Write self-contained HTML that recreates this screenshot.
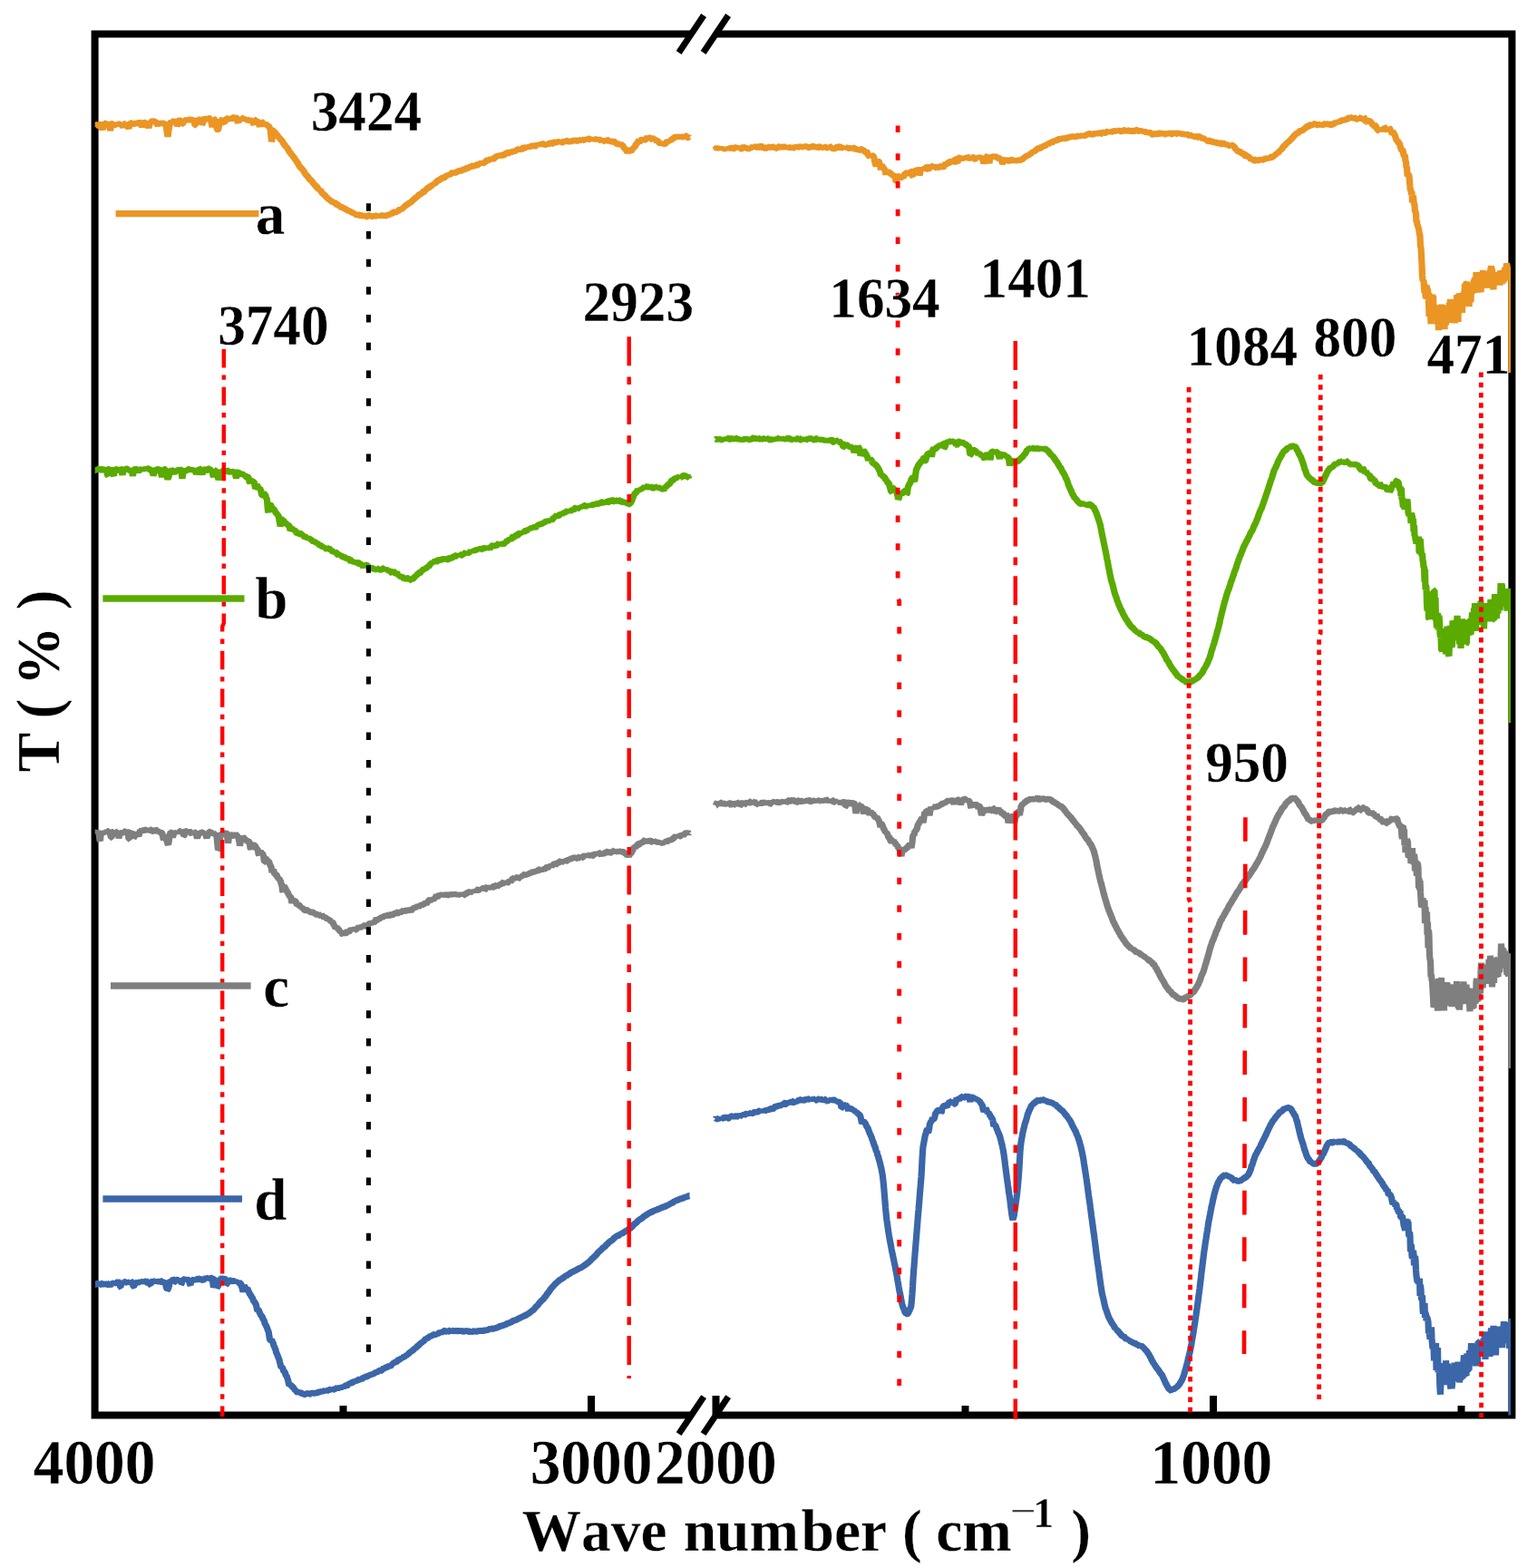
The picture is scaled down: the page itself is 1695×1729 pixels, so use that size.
<!DOCTYPE html>
<html lang="en"><head><meta charset="utf-8"><title>FTIR spectra</title>
<style>
html,body{margin:0;padding:0;background:#fff;}
body{width:1695px;height:1729px;overflow:hidden;}
svg{display:block;}
text{font-family:"Liberation Serif","Times New Roman",serif;font-weight:bold;fill:#000;font-kerning:none;stroke:#fff;stroke-width:0.3px;}
</style></head>
<body>
<svg xmlns="http://www.w3.org/2000/svg" width="1695" height="1729" viewBox="0 0 1695 1729">
<rect x="0" y="0" width="1695" height="1729" fill="#fff"/>
<g fill="none" stroke="#000" stroke-width="8" stroke-linejoin="miter" stroke-linecap="butt">
<path d="M761.5 37.5 H104.6 V1560.6 H761.5"/>
<path d="M789.5 37.5 H1667.4 V1560.6 H789.5"/>
<path d="M652 1560.6 V1539"/>
<path d="M789.5 1560.6 V1539"/>
<path d="M1338 1560.6 V1539"/>
<path d="M378.5 1560.6 V1550"/>
<path d="M1064.5 1560.6 V1550"/>
<path d="M1611.5 1560.6 V1550"/>
</g>
<g fill="none" stroke="#000" stroke-width="7" stroke-linecap="butt">
<path d="M748.6 58 L776.1 17"/>
<path d="M775.6 58 L803.1 17"/>
<path d="M748.6 1581.1 L776.1 1540.1"/>
<path d="M775.6 1581.1 L803.1 1540.1"/>
</g>
<clipPath id="plot"><rect x="104.6" y="37.5" width="1561.4" height="1523.1"/></clipPath>
<g fill="none" stroke="#EA9524" stroke-width="7.2" stroke-linejoin="bevel" stroke-linecap="butt" clip-path="url(#plot)">
<path d="M105 138.8L105.5 138.5L106 137.5L106.5 137.5L107 138.5L107.5 137L108 138.5L108.5 138.5L109 138L109.5 137.5L110 137.4L110.5 137.3L111 137.6L111.5 137.9L112 139.3L112.5 141.6L113 142.8L113.5 141L114 140L114.5 136.9L115 136.4L115.5 137.2L116 136.1L116.5 136L117 136.8L117.5 136.8L118 137.7L118.5 137.2L119 137L119.5 136.9L120 136.5L120.5 136.9L121 140.1L121.5 144.1L122 141.7L122.5 139.2L123 136.6L123.5 137.8L124 136.3L124.5 136.1L125 137.3L125.5 137L126 137.9L126.5 137.7L127 138L127.5 136.6L128 137.4L128.5 137.4L129 138L129.5 137L130 137.2L130.5 136.1L131 136.6L131.5 136.5L132 136.3L132.5 137.6L133 136.9L133.5 138L134 137.3L134.5 138L135 139.1L135.5 140.1L136 138.5L136.5 137.8L137 136.2L137.5 136.4L138 135.9L138.5 137.5L139 136.3L139.5 137.1L140 136.7L140.5 139L141 139.9L141.5 140.2L142 141L142.5 139.8L143 138.3L143.5 136.4L144 135.5L144.5 135.6L145 136.9L145.5 136.4L146 135.8L146.5 137.2L147 136.9L147.5 136.8L148 136.4L148.5 136.5L149 136L149.5 135.3L150 136.5L150.5 135.8L151 135.9L151.5 135.6L152 136.3L152.5 134.9L153 135.4L153.5 134.9L154 135.2L154.5 136.8L155 136.3L155.5 136.7L156 138.1L156.5 140.2L157 137.9L157.5 136.7L158 135.6L158.5 134.9L159 135.1L159.5 135.5L160 135.7L160.5 134.3L161 135.7L161.5 133.9L162 135.1L162.5 136.3L163 136.8L163.5 139.3L164 141.1L164.5 138L165 137.4L165.5 135.9L166 135L166.5 135.3L167 134.1L167.5 133.8L168 133.8L168.5 133.5L169 133.7L169.5 134.8L170 134L170.5 133.5L171 133.3L171.5 134.6L172 133.9L172.5 135.8L173 136.1L173.5 137.3L174 138.1L174.5 137.1L175 136L175.5 134.7L176 135.4L176.5 134.6L177 135.5L177.5 134.2L178 135.1L178.5 135.6L179 136.4L179.5 135.1L180 136.2L180.5 136.3L181 136.8L181.5 136.6L182 137.1L182.5 136.5L183 138.1L183.5 140.9L184 144.5L184.5 148L185 150.5L185.5 148.2L186 143.6L186.5 140.9L187 138.1L187.5 136L188 135L188.5 134L189 134.9L189.5 134.1L190 134.4L190.5 134.6L191 133.8L191.5 133.4L192 133.8L192.5 134.4L193 134.5L193.5 134.2L194 133L194.5 134.7L195 136.5L195.5 138.9L196 137.6L196.5 136.4L197 133.2L197.5 132.9L198 132.6L198.5 133L199 133L199.5 133L200 133.7L200.5 132.9L201 135.4L201.5 136.5L202 136.5L202.5 132.8L203 132.2L203.5 133.3L204 132.4L204.5 132.8L205 132.4L205.5 132.1L206 131.3L206.5 131.8L207 130.8L207.5 132.2L208 132.5L208.5 132.3L209 130.9L209.5 131.5L210 131.5L210.5 130.9L211 131.7L211.5 132L212 131.3L212.5 132.5L213 132.5L213.5 131.1L214 133.6L214.5 136.3L215 137.8L215.5 137.8L216 135.4L216.5 132.5L217 130.5L217.5 131.6L218 131.7L218.5 132.1L219 132.2L219.5 131.2L220 131.7L220.5 131.8L221 131.8L221.5 130.4L222 132.2L222.5 135.5L223 136.8L223.5 136.2L224 134.7L224.5 131.4L225 130.3L225.5 130.7L226 131.2L226.5 130.4L227 131.1L227.5 130.5L228 131.4L228.5 131.6L229 130.7L229.5 130.8L230 131.2L230.5 130.6L231 130.7L231.5 130.9L232 131.3L232.5 130.8L233 134.8L233.5 137.6L234 140.1L234.5 136.9L235 135L235.5 131.2L236 131.5L236.5 131.8L237 132.1L237.5 134.3L238 135L238.5 137.5L239 140.9L239.5 142.7L240 143L240.5 142.7L241 141.6L241.5 138L242 135.9L242.5 132.7L243 132.9L243.5 132.8L244 132.7L244.5 132.3L245 131.7L245.5 131.2L246 133.6L246.5 135.5L247 135.9L247.5 134.5L248 133.3L248.5 132.1L249 132L249.5 130.6L250 130.7L250.5 131.8L251 131.6L251.5 131.5L252 131.8L252.5 131.3L253 130.8L253.5 130.6L254 130L254.5 130.5L255 129.8L255.5 130.7L256 130.6L256.5 130.4L257 129.8L257.5 129.6L258 129.6L258.5 128.9L259 130.3L259.5 129.9L260 129.6L260.5 130L261 130.4L261.5 130.8L262 134L262.5 135.5L263 132.4L263.5 130.1L264 131.3L264.5 131.8L265 130.3L265.5 131.2L266 131.4L266.5 131.5L267 130.1L267.5 130.2L268 132.1L268.5 130.7L269 131.1L269.5 131.7L270 131.3L270.5 131.9L271 130.9L271.5 132.4L272 131L272.5 132.7L273 132.4L273.5 134.5L274 133.8L274.5 133.4L275 132.4L275.5 132.3L276 131.9L276.5 131.3L277 133.2L277.5 133.1L278 133.3L278.5 133.1L279 135.1L279.5 136.2L280 137L280.5 135L281 134.4L281.5 132.4L282 132.4L282.5 133.8L283 133.3L283.5 133L284 134.1L284.5 133.5L285 134.8L285.5 136.1L286 138.2L286.5 139.1L287 137.3L287.5 135.7L288 135.4L288.5 135.8L289 134.9L289.5 135L290 135.1L290.5 136.9L291 137.1L291.5 135.9L292 137.4L292.5 136.2L293 136.9L293.5 137.4L294 138.6L294.5 137.5L295 138.4L295.5 139.2L296 138.7L296.5 139.5L297 140.4L297.5 141.4L298 141.5L298.5 146.2L299 151.3L299.5 156.2L300 153.7L300.5 149.3L301 145.3L301.5 144.1L302 144.1L302.5 145.5L303 144.7L303.5 146.9L304 147.1L304.5 147.5L305 149.1L305.5 148.3L306 149.4L306.5 149.3L307 151.4L307.5 151.3L308 152.3L308.5 152L309 153.4L309.5 153.8L310 154.2L310.5 155.2L311 155.1L311.5 155.9L312 157.1L312.5 158.1L313 158.3L313.5 159.4L314 159.5L314.5 160.6L315 161.6L315.5 161.3L316 162.6L316.5 162.2L317 163.9L317.5 164.3L318 165.2L318.5 166.4L319 167L319.5 167.8L320 167.8L320.5 169.1L321 169.8L321.5 170.8L322 170.3L322.5 171.3L323 172.1L323.5 172.8L324 173L324.5 174.5L325 174.9L325.5 175.6L326 177L326.5 176.8L327 177.7L327.5 178.8L328 179.4L328.5 180L329 181.2L329.5 181.7L330 182.8L330.5 183.7L331 184.1L331.5 184.6L332 185L332.5 185.8L333 186.2L333.5 187.2L334 187.3L334.5 188L335 189L335.5 189.6L336 190.3L336.5 191.6L337 191.9L337.5 193L338 193.4L338.5 193.5L339 194.2L339.5 194.2L340 195.5L340.5 196.8L341 197.1L341.5 197.5L342 198L342.5 198.6L343 198.9L343.5 199.5L344 199.8L344.5 200.6L345 201.3L345.5 202L346 203.3L346.5 203.1L347 203.8L347.5 204.1L348 204.8L348.5 205.7L349 206.1L349.5 206.1L350 206.6L350.5 208L351 208.2L351.5 208.9L352 208.6L352.5 210L353 209.8L353.5 210.4L354 210.5L354.5 211.3L355 212.4L355.5 213.1L356 213.2L356.5 214.1L357 214.3L357.5 214.7L358 215.4L358.5 215.4L359 216.1L359.5 217L360 217.5L360.5 217L361 218.2L361.5 218.9L362 219.1L362.5 219.2L363 220.6L363.5 220.3L364 221L364.5 221L365 221.6L365.5 221.5L366 222.2L366.5 222.6L367 223L367.5 222.8L368 223.9L368.5 223.3L369 223.6L369.5 223.8L370 223.9L370.5 224.7L371 225.4L371.5 225.7L372 225.4L372.5 225.7L373 226.3L373.5 227L374 226.9L374.5 227.7L375 227.6L375.5 227.9L376 228.4L376.5 228.7L377 228.5L377.5 228.5L378 228.9L378.5 229.3L379 229.1L379.5 229.9L380 230.4L380.5 230.1L381 230.5L381.5 230.9L382 231.4L382.5 232.6L383 231.8L383.5 232.2L384 232.3L384.5 232.8L385 232.4L385.5 233.2L386 233.1L386.5 233.4L387 234.2L387.5 233.7L388 234.5L388.5 234.5L389 234.7L389.5 235.3L390 234.6L390.5 235.6L391 235.6L391.5 235.7L392 235.3L392.5 236.5L393 236.8L393.5 237.1L394 236.6L394.5 237.7L395 237.5L395.5 236.5L396 236.6L396.5 236.2L397 237.1L397.5 237.3L398 237.6L398.5 237.4L399 237.7L399.5 237.9L400 237.9L400.5 238.5L401 238.2L401.5 237.9L402 238.2L402.5 237.6L403 238.4L403.5 238.4L404 238.2L404.5 238.8L405 238.8L405.5 238.1L406 237.7L406.5 237.6L407 237.6L407.5 237.9L408 238.2L408.5 238.9L409 238.2L409.5 239.1L410 238.8L410.5 239L411 238.5L411.5 238L412 238.9L412.5 238.3L413 238.1L413.5 238.6L414 238.3L414.5 237.8L415 237.8L415.5 238.7L416 237.9L416.5 238.5L417 237.8L417.5 238.6L418 237.6L418.5 238L419 237.5L419.5 238.2L420 238.7L420.5 237.6L421 237.6L421.5 238L422 237.8L422.5 237.5L423 237.9L423.5 237.7L424 238.2L424.5 237.6L425 238.1L425.5 237.8L426 237.8L426.5 237.2L427 237.4L427.5 237.1L428 236.7L428.5 236.1L429 237.2L429.5 236.8L430 236L430.5 236.6L431 235.9L431.5 235.8L432 235.9L432.5 235.1L433 234.5L433.5 234.4L434 234.1L434.5 234.2L435 234.1L435.5 233.9L436 233.6L436.5 234L437 233.3L437.5 233.6L438 233.6L438.5 232.6L439 232.8L439.5 232.4L440 231.5L440.5 231.1L441 231.6L441.5 230.8L442 230.9L442.5 229.7L443 230.1L443.5 230.2L444 230L444.5 228.7L445 229L445.5 228.3L446 228.3L446.5 227L447 226.8L447.5 227.1L448 226.4L448.5 226L449 226.4L449.5 225.3L450 224.6L450.5 224.7L451 224L451.5 223.6L452 223.8L452.5 223.9L453 223.1L453.5 222.7L454 221.8L454.5 221.6L455 221.2L455.5 220.5L456 220.3L456.5 219.7L457 219.1L457.5 219L458 218.5L458.5 217.6L459 217.7L459.5 217.5L460 216.2L460.5 216.3L461 216.1L461.5 215.3L462 214.8L462.5 214.5L463 214.4L463.5 214.1L464 213.6L464.5 212.7L465 213.2L465.5 213L466 211.6L466.5 211.5L467 211.1L467.5 211.7L468 211.4L468.5 210L469 210L469.5 209.4L470 209.2L470.5 209.2L471 207.6L471.5 207.4L472 207.4L472.5 207L473 207.1L473.5 206.5L474 205.9L474.5 205.7L475 206L475.5 205.2L476 204L476.5 204.4L477 203.4L477.5 203.7L478 202.5L478.5 203.3L479 202.1L479.5 202.1L480 202L480.5 201.5L481 200.8L481.5 200.4L482 200.1L482.5 199.3L483 199L483.5 198.7L484 199L484.5 198.7L485 198.7L485.5 197.8L486 197.1L486.5 197L487 197L487.5 196.2L488 196.1L488.5 196.3L489 195.7L489.5 196.1L490 195.9L490.5 195L491 195.4L491.5 194.5L492 194.1L492.5 194.1L493 194L493.5 194.2L494 192.9L494.5 193.4L495 192.8L495.5 192.1L496 192.9L496.5 192.3L497 191.5L497.5 192.1L498 190.9L498.5 190.6L499 190.6L499.5 191.3L500 190.2L500.5 191.3L501 190.9L501.5 190.1L502 190.4L502.5 190.1L503 190L503.5 189.9L504 189.6L504.5 189.6L505 188.2L505.5 188.7L506 188.1L506.5 188.3L507 188.3L507.5 188.3L508 187.4L508.5 187.6L509 188.1L509.5 188L510 187.2L510.5 187.7L511 186.8L511.5 186.4L512 187L512.5 186.7L513 186.7L513.5 186.3L514 186L514.5 185.4L515 185L515.5 185.6L516 185.1L516.5 185.1L517 185.1L517.5 184.3L518 184.1L518.5 184L519 183.8L519.5 184.2L520 183.6L520.5 183.4L521 183.4L521.5 182.6L522 182.3L522.5 183L523 183.1L523.5 182.5L524 182.8L524.5 181.9L525 182.3L525.5 182.2L526 181.6L526.5 181.5L527 181.6L527.5 181.4L528 180.7L528.5 181.2L529 180.2L529.5 181L530 179.8L530.5 179.6L531 179.2L531.5 180.1L532 179.2L532.5 179.5L533 179.8L533.5 179.6L534 178.3L534.5 178.6L535 178.5L535.5 178.4L536 177.7L536.5 177.4L537 176.8L537.5 176.7L538 177.2L538.5 176.5L539 176.5L539.5 176.5L540 176L540.5 175.7L541 176.5L541.5 175.7L542 175.1L542.5 175.4L543 174.3L543.5 174.5L544 175.2L544.5 175.1L545 174.6L545.5 173.7L546 173.6L546.5 173L547 172.9L547.5 172.5L548 172.5L548.5 173L549 172.3L549.5 172L550 172.7L550.5 171.7L551 171.4L551.5 171L552 171.8L552.5 171.5L553 171.3L553.5 171.3L554 170.6L554.5 170.7L555 171L555.5 171.1L556 170.7L556.5 170.2L557 169.8L557.5 169L558 169.9L558.5 168.7L559 168.5L559.5 169L560 169L560.5 168.8L561 168.3L561.5 167.8L562 167.4L562.5 168.2L563 168.2L563.5 167.3L564 168L564.5 167.5L565 167.4L565.5 167.3L566 166.5L566.5 166.7L567 166.1L567.5 166.6L568 166.2L568.5 166.5L569 166.5L569.5 165.6L570 165.4L570.5 166L571 165.2L571.5 164.5L572 164.4L572.5 165.5L573 164.9L573.5 164.2L574 164.7L574.5 164.6L575 164.5L575.5 164.8L576 164.4L576.5 163.1L577 162.7L577.5 162.9L578 163.3L578.5 163L579 163.1L579.5 162.7L580 162.1L580.5 162.7L581 161.8L581.5 162.6L582 162.1L582.5 162.3L583 162.9L583.5 162.2L584 161.6L584.5 161.9L585 162.1L585.5 161.1L586 161.1L586.5 160.6L587 161.1L587.5 160.8L588 160.9L588.5 160.6L589 160.9L589.5 160.4L590 161.2L590.5 161.1L591 160.5L591.5 160.3L592 160.6L592.5 159.7L593 160.1L593.5 159.4L594 159.8L594.5 159.3L595 159.5L595.5 159.9L596 158.8L596.5 159.6L597 159.2L597.5 159L598 158.9L598.5 158.6L599 158.7L599.5 159.1L600 158.5L600.5 159.2L601 159.5L601.5 159.4L602 159.2L602.5 158.9L603 158L603.5 158.9L604 157.9L604.5 158.7L605 158.6L605.5 158.2L606 158L606.5 157.6L607 158L607.5 157.8L608 157.6L608.5 157.7L609 158.5L609.5 158.5L610 157.5L610.5 157.2L611 157.3L611.5 156.9L612 156.8L612.5 157.2L613 157L613.5 157.1L614 156.6L614.5 156.9L615 156.3L615.5 156.4L616 156.4L616.5 156.9L617 156.1L617.5 156.8L618 156.5L618.5 157.3L619 156.8L619.5 156.9L620 157.2L620.5 157L621 156.2L621.5 156.2L622 157.2L622.5 156L623 156.3L623.5 156.9L624 155.5L624.5 155.5L625 155.3L625.5 155.3L626 155.9L626.5 156.2L627 156L627.5 155.6L628 156.2L628.5 156L629 155.5L629.5 154.9L630 155.4L630.5 155.6L631 155.5L631.5 155.9L632 155.2L632.5 155.2L633 154.6L633.5 154.9L634 155L634.5 154.8L635 154.4L635.5 155.5L636 155.4L636.5 155L637 154.8L637.5 155L638 154.2L638.5 154.7L639 154.8L639.5 154.5L640 154.8L640.5 154.3L641 154.2L641.5 153.7L642 154.3L642.5 153.5L643 154L643.5 153.8L644 154.5L644.5 154.6L645 153.6L645.5 154.6L646 153.9L646.5 153.1L647 153.6L647.5 153L648 153.5L648.5 152.9L649 153.1L649.5 152.9L650 153.3L650.5 153.7L651 153.8L651.5 152.9L652 153.6L652.5 152.7L653 153.6L653.5 154.8L654 153.1L654.5 154.6L655 154.1L655.5 153.6L656 154.7L656.5 153.9L657 155.3L657.5 153.3L658 153L658.5 153.8L659 153.2L659.5 152.7L660 153.6L660.5 153.2L661 153.7L661.5 154.4L662 155L662.5 153.8L663 155.2L663.5 155.8L664 154.6L664.5 155L665 153.5L665.5 155.2L666 154.8L666.5 155.6L667 155.7L667.5 155.9L668 154L668.5 155.1L669 153.9L669.5 154.2L670 154.5L670.5 155.3L671 155.4L671.5 156.1L672 154.4L672.5 155.2L673 155.9L673.5 157.3L674 156.6L674.5 156.4L675 156.8L675.5 156.4L676 155.5L676.5 155L677 155.8L677.5 157.2L678 157.2L678.5 156.5L679 157.8L679.5 157.9L680 158.5L680.5 158.7L681 159.5L681.5 158.5L682 158.7L682.5 159.3L683 159.7L683.5 159.3L684 158.8L684.5 159.8L685 159.4L685.5 160.8L686 159.7L686.5 159.7L687 161.5L687.5 161.2L688 163L688.5 163.3L689 163.6L689.5 163.2L690 165.1L690.5 164.3L691 166.7L691.5 167.1L692 166.5L692.5 166.5L693 168.3L693.5 167.1L694 165.9L694.5 166.1L695 165L695.5 165.1L696 165.4L696.5 165.9L697 165.6L697.5 163.9L698 164L698.5 163.6L699 164.1L699.5 161.6L700 161.7L700.5 161.6L701 159.8L701.5 158.9L702 158.9L702.5 157.6L703 158.1L703.5 155.9L704 155.7L704.5 155.1L705 156L705.5 154.9L706 155.8L706.5 155.6L707 155.5L707.5 153.8L708 153.1L708.5 153.6L709 154.4L709.5 154.1L710 152.6L710.5 153.9L711 154.3L711.5 154.1L712 153.3L712.5 153.3L713 152.9L713.5 151.9L714 151.3L714.5 152.5L715 151.4L715.5 151.7L716 152.9L716.5 152L717 152L717.5 153L718 151.8L718.5 153.4L719 153.6L719.5 152.6L720 152.6L720.5 152.3L721 154L721.5 152.9L722 152.8L722.5 154.8L723 154.5L723.5 155L724 155.5L724.5 154.6L725 155.2L725.5 156.2L726 155.6L726.5 156.8L727 157.5L727.5 157.8L728 158.1L728.5 157.3L729 158.1L729.5 159.7L730 158.5L730.5 159.6L731 158.5L731.5 160.1L732 158.3L732.5 158.6L733 158.5L733.5 158.5L734 158.5L734.5 157.7L735 156.5L735.5 155.9L736 157L736.5 157.4L737 155.3L737.5 156.3L738 154.6L738.5 154.9L739 154.8L739.5 155L740 155.3L740.5 154.2L741 153.1L741.5 153.6L742 152.9L742.5 152.6L743 152.3L743.5 152.2L744 151.5L744.5 151L745 150.5L745.5 150.8L746 150.2L746.5 151L747 150.8L747.5 150L748 150.8L748.5 151.7L749 150.7L749.5 151L750 150.7L750.5 151.2L751 151.9L751.5 150.2L752 151.7L752.5 150.9L753 151L753.5 150.9L754 151.5L754.5 150.7L755 151.2L755.5 150.1L756 150.4L756.5 150.8L757 149.8L757.5 149.7L758 151.4L758.5 151.6L759 151.5L759.5 150.8L760 151.5"/>
<path d="M789 165L789.5 163.6L790 163.3L790.5 164.3L791 163.8L791.5 163.3L792 163L792.5 163.9L793 163.1L793.5 164.2L794 163.3L794.5 164L795 162.5L795.5 163.6L796 163.2L796.5 164.8L797 164.4L797.5 163.7L798 164.9L798.5 164.3L799 163.5L799.5 164.6L800 163.7L800.5 164.8L801 163.7L801.5 164.9L802 163.2L802.5 164.3L803 163.5L803.5 163.8L804 164.3L804.5 163.1L805 163.3L805.5 163L806 164L806.5 163L807 163.4L807.5 163.2L808 163.1L808.5 164.4L809 163.6L809.5 163.8L810 163.7L810.5 163.8L811 162.7L811.5 162.4L812 163.1L812.5 162.5L813 162.2L813.5 163.9L814 163.3L814.5 163L815 162.4L815.5 163.3L816 162.7L816.5 162.2L817 163.9L817.5 164.1L818 163.8L818.5 163.3L819 162.5L819.5 162.3L820 163.2L820.5 162.5L821 163.4L821.5 162.4L822 162.2L822.5 163.4L823 162.6L823.5 163.3L824 163.5L824.5 163.6L825 163.3L825.5 163.7L826 163.4L826.5 163.9L827 163.9L827.5 162.3L828 162.6L828.5 162.8L829 162.5L829.5 162.3L830 163.5L830.5 161.9L831 162.1L831.5 163L832 161.9L832.5 161.9L833 163.1L833.5 162.7L834 162.1L834.5 161.5L835 161.7L835.5 163L836 162.7L836.5 161.3L837 162.4L837.5 161.9L838 162.6L838.5 162L839 161.5L839.5 161.2L840 161.5L840.5 162.7L841 163L841.5 162.8L842 163L842.5 162L843 162.4L843.5 163.4L844 163.6L844.5 162.6L845 163.1L845.5 163.3L846 163.4L846.5 162.3L847 163.1L847.5 162.7L848 162.5L848.5 162.2L849 161.6L849.5 161.1L850 162.5L850.5 162.4L851 162.7L851.5 161.6L852 161.8L852.5 162.5L853 163.1L853.5 162.4L854 162.1L854.5 162.9L855 163.7L855.5 163.5L856 163.4L856.5 162.5L857 162.1L857.5 162.9L858 162.5L858.5 162.6L859 161.8L859.5 161.6L860 161.4L860.5 162.3L861 162.2L861.5 161.4L862 162.6L862.5 161.9L863 162L863.5 162.2L864 161.6L864.5 161.9L865 162L865.5 162L866 162.4L866.5 161.6L867 162.8L867.5 161.7L868 162.3L868.5 162.7L869 161.8L869.5 162.3L870 162.7L870.5 162.6L871 163.2L871.5 162.9L872 161.6L872.5 162.7L873 162.1L873.5 162.5L874 161.8L874.5 162.5L875 163L875.5 163L876 162.9L876.5 161.6L877 162.4L877.5 161.9L878 162.2L878.5 162.7L879 162L879.5 162.7L880 162.4L880.5 162.1L881 161.1L881.5 161.4L882 160.7L882.5 162L883 162.5L883.5 161.3L884 162.3L884.5 162.1L885 160.9L885.5 162.5L886 161.8L886.5 161.5L887 160.7L887.5 161.8L888 160.7L888.5 161.2L889 160.9L889.5 161.9L890 161.7L890.5 162.6L891 162.5L891.5 162.5L892 161.5L892.5 161L893 162.4L893.5 162.5L894 162L894.5 162.4L895 162L895.5 161.8L896 161.5L896.5 161.4L897 161.7L897.5 161.2L898 161.7L898.5 161.9L899 161.4L899.5 162.1L900 162L900.5 162.3L901 162.2L901.5 161.7L902 162L902.5 162.1L903 161.6L903.5 161.9L904 162.7L904.5 162.9L905 161.5L905.5 161.1L906 162.8L906.5 162.7L907 162.3L907.5 162.6L908 162.1L908.5 162.6L909 161.3L909.5 161.7L910 162.1L910.5 161.3L911 162.3L911.5 161.8L912 162.9L912.5 163.1L913 162.5L913.5 163.3L914 162.6L914.5 162.8L915 161.5L915.5 161.7L916 162.8L916.5 163.3L917 162.7L917.5 163.3L918 161.9L918.5 163.8L919 164.1L919.5 163.8L920 163.2L920.5 163.5L921 162.5L921.5 163.2L922 163.1L922.5 162.7L923 162L923.5 161.5L924 161.9L924.5 163L925 161.9L925.5 161.7L926 162L926.5 162.6L927 162.7L927.5 163.1L928 162.8L928.5 162.8L929 162.8L929.5 162.3L930 162L930.5 163.6L931 162.5L931.5 163.3L932 162.5L932.5 163.4L933 162.2L933.5 162.8L934 162.7L934.5 164.1L935 163.8L935.5 163.6L936 162.8L936.5 162.4L937 163.4L937.5 163.5L938 163.7L938.5 164.4L939 163.8L939.5 163L940 163.7L940.5 163L941 163.2L941.5 163.2L942 163.5L942.5 164.3L943 164.2L943.5 164.5L944 166.3L944.5 165.7L945 164.4L945.5 164.2L946 165.4L946.5 165.2L947 164.6L947.5 164.9L948 165.5L948.5 165.1L949 165.2L949.5 165.1L950 164.7L950.5 164.5L951 164.4L951.5 165.8L952 165.4L952.5 165.9L953 167.2L953.5 166.8L954 167.4L954.5 167.5L955 167.9L955.5 166.6L956 167.5L956.5 168.9L957 169.4L957.5 171.7L958 171.7L958.5 172.3L959 172.9L959.5 171.4L960 170.9L960.5 171.8L961 171L961.5 172.7L962 171.8L962.5 171.8L963 172L963.5 173.2L964 173.9L964.5 177.6L965 178.9L965.5 181.5L966 182L966.5 180.8L967 178.9L967.5 176.4L968 177.3L968.5 178.2L969 177.8L969.5 178.7L970 180.8L970.5 181.5L971 185.4L971.5 186.5L972 184.4L972.5 182.6L973 183.2L973.5 184.1L974 184.9L974.5 185.5L975 186.2L975.5 186.9L976 187.7L976.5 189.8L977 192.7L977.5 189.9L978 190.3L978.5 189L979 189.5L979.5 189.2L980 189.7L980.5 190.4L981 191.5L981.5 190.9L982 191L982.5 191.4L983 193.6L983.5 192.4L984 192L984.5 193.1L985 193.8L985.5 193.7L986 193L986.5 193.7L987 194.3L987.5 196.2L988 200.5L988.5 200.2L989 197.3L989.5 196.7L990 195.8L990.5 195.5L991 194.5L991.5 194.4L992 195.2L992.5 195.3L993 196L993.5 195.8L994 195.4L994.5 194.3L995 195.2L995.5 194.9L996 196.3L996.5 194.4L997 193.4L997.5 192.4L998 192L998.5 191.8L999 192.3L999.5 190.7L1000 190.5L1000.5 191.3L1001 191.1L1001.5 191L1002 190.8L1002.5 190.6L1003 190.2L1003.5 190.4L1004 188.9L1004.5 189.1L1005 190L1005.5 190.6L1006 193.6L1006.5 193.9L1007 191.7L1007.5 190.1L1008 189.5L1008.5 188.9L1009 188.5L1009.5 189L1010 188.2L1010.5 187.2L1011 187.5L1011.5 187.3L1012 188L1012.5 188.3L1013 190.3L1013.5 191L1014 192.7L1014.5 191.6L1015 188.4L1015.5 187.5L1016 186.5L1016.5 185.2L1017 186.5L1017.5 186.5L1018 187.1L1018.5 186.1L1019 186.4L1019.5 186.9L1020 185.4L1020.5 186L1021 184.9L1021.5 184.7L1022 184.5L1022.5 184.5L1023 186.1L1023.5 186.6L1024 186.9L1024.5 186.1L1025 184.5L1025.5 184.2L1026 183.9L1026.5 185.5L1027 183.6L1027.5 184.7L1028 183.8L1028.5 183.4L1029 183.3L1029.5 184.4L1030 183.2L1030.5 185.1L1031 184.9L1031.5 184.3L1032 184.3L1032.5 184.9L1033 184.5L1033.5 183.9L1034 184.2L1034.5 184.6L1035 185.7L1035.5 184.6L1036 184.8L1036.5 184L1037 183.5L1037.5 183.3L1038 183.6L1038.5 182.9L1039 184.1L1039.5 184.1L1040 184.6L1040.5 184L1041 181.3L1041.5 181.8L1042 181.8L1042.5 180.9L1043 179.8L1043.5 181.2L1044 181L1044.5 180L1045 180.9L1045.5 179.7L1046 178.8L1046.5 178.8L1047 179.1L1047.5 179.5L1048 179.5L1048.5 177.7L1049 177.2L1049.5 178.4L1050 177.9L1050.5 177.9L1051 178.5L1051.5 178.3L1052 178.1L1052.5 177.4L1053 175.5L1053.5 175.6L1054 176.3L1054.5 177.1L1055 176.7L1055.5 178.7L1056 179.1L1056.5 177.3L1057 175.1L1057.5 173.8L1058 173.8L1058.5 173.5L1059 174.5L1059.5 174.2L1060 174.6L1060.5 174.4L1061 175L1061.5 173.7L1062 174.8L1062.5 173.8L1063 174.4L1063.5 174.7L1064 174.1L1064.5 174.3L1065 174.9L1065.5 173.4L1066 173.8L1066.5 172.5L1067 172.9L1067.5 174L1068 175L1068.5 174.7L1069 174.2L1069.5 175.1L1070 176.3L1070.5 174.6L1071 173L1071.5 173.6L1072 173.7L1072.5 173.6L1073 173.8L1073.5 173.9L1074 174.2L1074.5 174.9L1075 175.2L1075.5 175.2L1076 174.8L1076.5 173.1L1077 173.6L1077.5 174.4L1078 173.6L1078.5 174.4L1079 173.2L1079.5 173.5L1080 173.9L1080.5 173.2L1081 173.9L1081.5 173.3L1082 174.8L1082.5 174L1083 174.4L1083.5 175.2L1084 176.9L1084.5 178.1L1085 180.2L1085.5 178.5L1086 175.1L1086.5 173.2L1087 173.9L1087.5 173.6L1088 172.6L1088.5 172.6L1089 172.2L1089.5 171.3L1090 174.2L1090.5 176.8L1091 180.1L1091.5 176.2L1092 174.3L1092.5 171.6L1093 172.5L1093.5 172.8L1094 171.3L1094.5 172.9L1095 172.6L1095.5 171.3L1096 172.4L1096.5 170.9L1097 172L1097.5 171.2L1098 172.5L1098.5 173L1099 174.3L1099.5 174.2L1100 173.7L1100.5 172.9L1101 173.8L1101.5 174L1102 175.6L1102.5 175.3L1103 175.3L1103.5 175.6L1104 176.8L1104.5 176.2L1105 178.9L1105.5 179.6L1106 179L1106.5 178.2L1107 176.1L1107.5 175.4L1108 176.5L1108.5 176.2L1109 176.6L1109.5 177.2L1110 177.7L1110.5 176.6L1111 176.8L1111.5 177.2L1112 177.2L1112.5 177.4L1113 177.2L1113.5 177L1114 176.9L1114.5 176.8L1115 176.6L1115.5 176.5L1116 176.4L1116.5 176.4L1117 176.9L1117.5 177.6L1118 177.2L1118.5 176.7L1119 177.4L1119.5 176.5L1120 177.6L1120.5 177.2L1121 177.1L1121.5 177L1122 177.5L1122.5 176.6L1123 176.7L1123.5 177.3L1124 176.9L1124.5 176.8L1125 176.7L1125.5 175.9L1126 176.9L1126.5 176.2L1127 175.3L1127.5 175.7L1128 175.1L1128.5 174.8L1129 174.4L1129.5 174.3L1130 172.9L1130.5 173.7L1131 172.8L1131.5 172.2L1132 172.1L1132.5 171.7L1133 172.1L1133.5 171.4L1134 170.5L1134.5 171.1L1135 170.6L1135.5 170.6L1136 169.2L1136.5 169.7L1137 169.3L1137.5 167.9L1138 168.2L1138.5 167.5L1139 167.7L1139.5 166.9L1140 167.6L1140.5 166.4L1141 166.6L1141.5 166.4L1142 165.8L1142.5 165.5L1143 166.2L1143.5 164.6L1144 164.4L1144.5 163.9L1145 163.8L1145.5 163.4L1146 163L1146.5 163.4L1147 163.5L1147.5 163.2L1148 162.6L1148.5 162L1149 161.2L1149.5 161.7L1150 161.7L1150.5 161.3L1151 161.4L1151.5 160.2L1152 160.6L1152.5 160.3L1153 160.4L1153.5 160.2L1154 159L1154.5 159.5L1155 158.6L1155.5 158.8L1156 159L1156.5 158.4L1157 158.2L1157.5 157.3L1158 157.7L1158.5 157L1159 157L1159.5 156.9L1160 157.5L1160.5 157L1161 157L1161.5 156L1162 155.8L1162.5 156.1L1163 154.9L1163.5 155.9L1164 155.2L1164.5 155L1165 155L1165.5 154.6L1166 154.4L1166.5 154.1L1167 154.3L1167.5 153.5L1168 153.2L1168.5 153.3L1169 152.8L1169.5 153.3L1170 153.5L1170.5 153.8L1171 152.9L1171.5 152.9L1172 153.2L1172.5 152.4L1173 152.8L1173.5 152.6L1174 151.7L1174.5 152L1175 152.6L1175.5 152.3L1176 152.5L1176.5 152.7L1177 152.2L1177.5 151.9L1178 152.1L1178.5 151.5L1179 150.9L1179.5 151.1L1180 151.4L1180.5 151.7L1181 151.1L1181.5 150.6L1182 151.3L1182.5 150.6L1183 150.3L1183.5 150.8L1184 150.5L1184.5 150.3L1185 151L1185.5 150.8L1186 150.9L1186.5 149.6L1187 150.5L1187.5 150.4L1188 149.8L1188.5 150.1L1189 150.2L1189.5 149.8L1190 149.4L1190.5 150.3L1191 149.4L1191.5 149.8L1192 149.7L1192.5 150.3L1193 149.8L1193.5 149.5L1194 150L1194.5 149.2L1195 149.5L1195.5 148.9L1196 149.5L1196.5 149.6L1197 149.7L1197.5 149L1198 148.5L1198.5 148.8L1199 148.9L1199.5 148.1L1200 147.6L1200.5 147.7L1201 148.6L1201.5 147.4L1202 147.4L1202.5 147.4L1203 148.3L1203.5 147.8L1204 148.2L1204.5 148.4L1205 148.1L1205.5 148.3L1206 147.8L1206.5 147.8L1207 147.3L1207.5 147L1208 147.7L1208.5 147.3L1209 147.4L1209.5 148L1210 147.2L1210.5 146.8L1211 147.1L1211.5 146.9L1212 146.2L1212.5 146.5L1213 146.8L1213.5 146.5L1214 147.5L1214.5 147.4L1215 147.2L1215.5 147.4L1216 146.1L1216.5 146.1L1217 146.9L1217.5 146.4L1218 146L1218.5 146.3L1219 146.3L1219.5 146.1L1220 145.4L1220.5 145.4L1221 145.9L1221.5 145.3L1222 145.2L1222.5 145.8L1223 145.4L1223.5 145.1L1224 146.1L1224.5 145.5L1225 146.2L1225.5 145.6L1226 145.4L1226.5 145L1227 145.1L1227.5 144.6L1228 144.7L1228.5 145.4L1229 144.7L1229.5 144.9L1230 145.2L1230.5 144.5L1231 144.3L1231.5 145L1232 144.2L1232.5 144.3L1233 145.2L1233.5 144.2L1234 144.1L1234.5 144.6L1235 143.8L1235.5 144.8L1236 144.8L1236.5 144.9L1237 144.2L1237.5 144L1238 144.6L1238.5 144.6L1239 143.7L1239.5 143.7L1240 143.7L1240.5 143.6L1241 144L1241.5 144.2L1242 144.4L1242.5 143.8L1243 144.2L1243.5 144.2L1244 144.1L1244.5 143.8L1245 144.5L1245.5 143.9L1246 143.7L1246.5 144.4L1247 144.8L1247.5 144.7L1248 144.6L1248.5 144.3L1249 144.3L1249.5 144.1L1250 144.7L1250.5 144.6L1251 144.1L1251.5 144.4L1252 144L1252.5 143.9L1253 143.4L1253.5 143.5L1254 143.6L1254.5 144.5L1255 144.4L1255.5 144.4L1256 144.4L1256.5 144.3L1257 143.9L1257.5 144.3L1258 143.6L1258.5 144.3L1259 143.5L1259.5 144.7L1260 144.6L1260.5 143.9L1261 144.8L1261.5 145.1L1262 144.4L1262.5 145.3L1263 145.4L1263.5 145.6L1264 145.9L1264.5 145.7L1265 145.2L1265.5 145.9L1266 146.2L1266.5 145.9L1267 146.4L1267.5 146.8L1268 146.4L1268.5 146.3L1269 146.6L1269.5 147.4L1270 147.3L1270.5 148L1271 148.3L1271.5 148.2L1272 148.2L1272.5 147.5L1273 148.7L1273.5 147.8L1274 147.6L1274.5 147.7L1275 147.6L1275.5 147.7L1276 147.1L1276.5 147.8L1277 147.7L1277.5 147.9L1278 147.5L1278.5 146.9L1279 146.8L1279.5 147.5L1280 147.2L1280.5 147.2L1281 147L1281.5 146.8L1282 147.2L1282.5 146.9L1283 147.8L1283.5 147.1L1284 148.2L1284.5 148.1L1285 147.6L1285.5 147.9L1286 147.5L1286.5 147.3L1287 147.5L1287.5 147.7L1288 147L1288.5 148L1289 147.2L1289.5 147.1L1290 147.6L1290.5 147.2L1291 147.2L1291.5 147.3L1292 147.3L1292.5 147.9L1293 148L1293.5 147.2L1294 147.1L1294.5 147.5L1295 146.9L1295.5 147.1L1296 147.5L1296.5 146.6L1297 147.6L1297.5 147.5L1298 147.1L1298.5 146.9L1299 147.3L1299.5 146.9L1300 147.4L1300.5 147L1301 146.8L1301.5 147.5L1302 147.4L1302.5 147L1303 147.4L1303.5 147.6L1304 148.3L1304.5 147.7L1305 148L1305.5 148.7L1306 148.1L1306.5 148.6L1307 148L1307.5 148.4L1308 148.2L1308.5 149.1L1309 148.7L1309.5 148.4L1310 148.4L1310.5 149L1311 148.8L1311.5 149.4L1312 149.7L1312.5 149.3L1313 149.2L1313.5 149.5L1314 149.4L1314.5 150.3L1315 149.5L1315.5 150.3L1316 149.8L1316.5 150.3L1317 150.4L1317.5 149.7L1318 150.5L1318.5 150.8L1319 150.4L1319.5 150.7L1320 150.5L1320.5 150.5L1321 151.4L1321.5 151.5L1322 150.7L1322.5 150.6L1323 150.8L1323.5 151.4L1324 151.3L1324.5 152.2L1325 152.1L1325.5 152.3L1326 152L1326.5 152.4L1327 152.9L1327.5 152.2L1328 153.2L1328.5 153.2L1329 154.3L1329.5 153.8L1330 154.5L1330.5 154.1L1331 154.7L1331.5 155L1332 155.6L1332.5 155.6L1333 155.1L1333.5 155.5L1334 155L1334.5 155L1335 155.9L1335.5 156.3L1336 156.2L1336.5 156.1L1337 156.2L1337.5 156.5L1338 156.5L1338.5 156.6L1339 157.4L1339.5 156.9L1340 157.4L1340.5 157.1L1341 156.9L1341.5 157.2L1342 157.6L1342.5 157.9L1343 157.6L1343.5 157.6L1344 158.2L1344.5 158.5L1345 158.1L1345.5 157.5L1346 157.7L1346.5 158.3L1347 158.9L1347.5 159L1348 158.3L1348.5 158.5L1349 158.5L1349.5 158.1L1350 158.1L1350.5 158.8L1351 158.8L1351.5 159.4L1352 158.7L1352.5 159.6L1353 159.1L1353.5 159.6L1354 160L1354.5 159.5L1355 160.6L1355.5 160.6L1356 160.6L1356.5 159.4L1357 160.2L1357.5 160.3L1358 160.7L1358.5 160.1L1359 160.2L1359.5 161.4L1360 161.1L1360.5 161.3L1361 161.7L1361.5 162.8L1362 163.2L1362.5 164L1363 164.6L1363.5 164.1L1364 165.8L1364.5 166.3L1365 166.9L1365.5 166.9L1366 166.7L1366.5 166.7L1367 167.5L1367.5 167.2L1368 167.5L1368.5 168.2L1369 168.7L1369.5 169L1370 169.1L1370.5 169.2L1371 169.7L1371.5 169.7L1372 170L1372.5 171.3L1373 171.6L1373.5 171.5L1374 170.9L1374.5 170.9L1375 172.2L1375.5 172.6L1376 172L1376.5 172.7L1377 172.3L1377.5 173.2L1378 174.1L1378.5 174.1L1379 175.2L1379.5 175.7L1380 175.1L1380.5 176L1381 175.8L1381.5 175.7L1382 176.1L1382.5 176.6L1383 177.3L1383.5 177.1L1384 176.1L1384.5 176.1L1385 177.1L1385.5 176.6L1386 176.7L1386.5 176.5L1387 177.1L1387.5 176.8L1388 176.8L1388.5 176.4L1389 177.1L1389.5 176.3L1390 176.1L1390.5 176.5L1391 176.9L1391.5 176.2L1392 176.1L1392.5 175.8L1393 176.2L1393.5 176.2L1394 175.2L1394.5 175.4L1395 175.2L1395.5 174.6L1396 175L1396.5 174.7L1397 174.5L1397.5 175.3L1398 174.1L1398.5 174.3L1399 174.6L1399.5 174.2L1400 173.4L1400.5 174.1L1401 173.1L1401.5 173.1L1402 173.5L1402.5 173.4L1403 173.2L1403.5 172.4L1404 172.7L1404.5 172.5L1405 171.5L1405.5 172L1406 170.7L1406.5 171L1407 170.2L1407.5 169.9L1408 169.5L1408.5 170.2L1409 168.7L1409.5 169.1L1410 167.7L1410.5 167.4L1411 166.7L1411.5 167L1412 165.3L1412.5 165.6L1413 164.3L1413.5 164.6L1414 163.8L1414.5 162.7L1415 162.4L1415.5 161.4L1416 161.1L1416.5 160.1L1417 160.4L1417.5 159.8L1418 159L1418.5 158.2L1419 158.9L1419.5 157.3L1420 157L1420.5 156L1421 156.1L1421.5 155.8L1422 155.5L1422.5 154.8L1423 154.1L1423.5 154.3L1424 153.2L1424.5 152.9L1425 152.6L1425.5 151.7L1426 151.5L1426.5 150L1427 149.7L1427.5 149.4L1428 148.7L1428.5 149L1429 147.9L1429.5 147.5L1430 147.1L1430.5 147.2L1431 146L1431.5 146.5L1432 146.3L1432.5 145.2L1433 144.9L1433.5 145.4L1434 144.5L1434.5 144.2L1435 143.8L1435.5 144.1L1436 144.2L1436.5 143.7L1437 143L1437.5 142.5L1438 142.8L1438.5 142L1439 141.9L1439.5 141.2L1440 140.7L1440.5 140.4L1441 139.4L1441.5 139.4L1442 138.9L1442.5 139.6L1443 139.5L1443.5 138.8L1444 138.1L1444.5 137.9L1445 138.2L1445.5 138.1L1446 137.8L1446.5 137.4L1447 137.7L1447.5 137.5L1448 136.5L1448.5 136.7L1449 136.6L1449.5 137L1450 137.2L1450.5 137L1451 137.6L1451.5 137.1L1452 137L1452.5 137.6L1453 137.8L1453.5 137.9L1454 137.2L1454.5 137.4L1455 137.9L1455.5 138.3L1456 137.7L1456.5 137.5L1457 137L1457.5 137.7L1458 136.7L1458.5 137.2L1459 137.4L1459.5 137.5L1460 137.3L1460.5 136.7L1461 136.5L1461.5 137.3L1462 136.9L1462.5 136.6L1463 136.3L1463.5 137L1464 137L1464.5 136.8L1465 136.7L1465.5 137.2L1466 137.7L1466.5 137.3L1467 137.7L1467.5 137.6L1468 137.3L1468.5 136.7L1469 136.3L1469.5 136.9L1470 137.1L1470.5 137.1L1471 136L1471.5 135.9L1472 136.2L1472.5 136.2L1473 135L1473.5 135.5L1474 134.9L1474.5 135.6L1475 134.6L1475.5 134.2L1476 134.9L1476.5 134.3L1477 134.5L1477.5 134L1478 134L1478.5 133.4L1479 133.2L1479.5 133.2L1480 132.5L1480.5 132.6L1481 132.7L1481.5 132.3L1482 131.6L1482.5 132.7L1483 131.7L1483.5 131.8L1484 131.8L1484.5 131.7L1485 131.2L1485.5 131.1L1486 131.1L1486.5 130.7L1487 130.1L1487.5 130.1L1488 130.1L1488.5 130L1489 130.5L1489.5 130.1L1490 129.8L1490.5 130L1491 129.9L1491.5 129.8L1492 129.4L1492.5 130.2L1493 129.4L1493.5 130.5L1494 130.2L1494.5 130.4L1495 131.1L1495.5 130.9L1496 131.4L1496.5 131.3L1497 130.5L1497.5 130.9L1498 131.2L1498.5 129.8L1499 130.5L1499.5 131.7L1500 129.9L1500.5 129.8L1501 130.6L1501.5 130.9L1502 130.7L1502.5 131.3L1503 133L1503.5 131.7L1504 131.9L1504.5 129.9L1505 130.2L1505.5 134.6L1506 133.1L1506.5 135.6L1507 133.4L1507.5 134.5L1508 134.8L1508.5 132.9L1509 133.1L1509.5 134.4L1510 132.9L1510.5 133.4L1511 133.3L1511.5 134.4L1512 135.6L1512.5 135.5L1513 136.1L1513.5 137.1L1514 138.1L1514.5 135.7L1515 139.7L1515.5 138.3L1516 141.1L1516.5 138.4L1517 138.7L1517.5 139L1518 142.4L1518.5 141.1L1519 143.5L1519.5 143.6L1520 141.9L1520.5 143.5L1521 143.8L1521.5 143.9L1522 144.7L1522.5 141.6L1523 144.8L1523.5 143.1L1524 142.7L1524.5 143.6L1525 141.5L1525.5 142.9L1526 141.6L1526.5 141.7L1527 140.5L1527.5 140.7L1528 143.5L1528.5 142.6L1529 142.2L1529.5 143.4L1530 143.9L1530.5 140.7L1531 143.9L1531.5 140.3L1532 142.8L1532.5 141.7L1533 142L1533.5 143.6L1534 144.8L1534.5 144.9L1535 146.7L1535.5 147.9L1536 145.1L1536.5 145.8L1537 147.8L1537.5 148L1538 148.4L1538.5 149.9L1539 151.4L1539.5 153.2L1540 154.3L1540.5 154.9L1541 153.8L1541.5 156.8L1542 157L1542.5 155.7L1543 159.6L1543.5 157.8L1544 160.8L1544.5 162.2L1545 164.4L1545.5 164.6L1546 167L1546.5 164.5L1547 165.9L1547.5 168.1L1548 171.5L1548.5 171.9L1549 170.5L1549.5 172.5L1550 177.9L1550.5 178.4L1551 185L1551.5 184L1552 192.5L1552.5 193.9L1553 192.2L1553.5 193.1L1554 194.1L1554.5 200.2L1555 206.1L1555.5 210.4L1556 209.5L1556.5 215L1557 211.1L1557.5 223.4L1558 220.4L1558.5 215.5L1559 222.4L1559.5 224.5L1560 226.2L1560.5 233.9L1561 232.9L1561.5 235.8L1562 245.4L1562.5 243.3L1563 248.5L1563.5 248.1L1564 251.2L1564.5 251.4L1565 255.2L1565.5 258.6L1566 259.9L1566.5 272.4L1567 272.6L1567.5 281.6L1568 291.6L1568.5 304L1569 309.3L1569.5 309.3L1570 309.5L1570.5 317.1L1571 322.9L1571.5 313.4L1572 325.7L1572.5 328.9L1573 321.9L1573.5 314.7L1574 330L1574.5 318.5L1575 324.8L1575.5 332.9L1576 348.9L1576.5 325.4L1577 325.6L1577.5 342.4L1578 357.3L1578.5 327.7L1579 345.7L1579.5 324.7L1580 340.7L1580.5 325.8L1581 341.7L1581.5 336.6L1582 350.6L1582.5 342.4L1583 336.8L1583.5 339.2L1584 341L1584.5 340.3L1585 344.1L1585.5 358.2L1586 353.2L1586.5 364L1587 351.9L1587.5 351.7L1588 355.7L1588.5 358.7L1589 350.9L1589.5 335.5L1590 351.1L1590.5 337.1L1591 355.1L1591.5 336.7L1592 352.3L1592.5 340.2L1593 363.2L1593.5 338.8L1594 356.9L1594.5 358.3L1595 342.5L1595.5 351.6L1596 342.1L1596.5 341.9L1597 344.1L1597.5 337.7L1598 355.9L1598.5 333.9L1599 335L1599.5 330.2L1600 351.9L1600.5 341.8L1601 339.1L1601.5 343.2L1602 350.8L1602.5 344.2L1603 340L1603.5 333.2L1604 340.6L1604.5 356.4L1605 343.9L1605.5 340.4L1606 352.9L1606.5 325.6L1607 326.2L1607.5 349.8L1608 354.9L1608.5 326.4L1609 325.6L1609.5 324.7L1610 341.1L1610.5 326.2L1611 337.1L1611.5 340.4L1612 323L1612.5 344.8L1613 326.9L1613.5 331.2L1614 324L1614.5 322.4L1615 322.9L1615.5 313L1616 319.1L1616.5 312.9L1617 312.9L1617.5 310.7L1618 316.4L1618.5 325.9L1619 335.3L1619.5 320.8L1620 338L1620.5 331.6L1621 319.2L1621.5 314.9L1622 333.2L1622.5 318.1L1623 314.6L1623.5 323.2L1624 321.2L1624.5 322.3L1625 312.2L1625.5 308.7L1626 309.6L1626.5 306.4L1627 315.2L1627.5 319.7L1628 300.2L1628.5 306.3L1629 305L1629.5 300.3L1630 312.9L1630.5 322.7L1631 307.4L1631.5 317.8L1632 322.1L1632.5 307.9L1633 321.9L1633.5 315.7L1634 312.2L1634.5 301L1635 301.6L1635.5 298.4L1636 316.6L1636.5 315.3L1637 299.7L1637.5 308.1L1638 299.7L1638.5 311L1639 305.9L1639.5 314.5L1640 311.6L1640.5 299.7L1641 307.7L1641.5 311.1L1642 317.5L1642.5 304.6L1643 299.2L1643.5 299L1644 296L1644.5 293.5L1645 297.3L1645.5 296.8L1646 304.9L1646.5 315.6L1647 319.2L1647.5 300.7L1648 308.7L1648.5 310L1649 300.2L1649.5 308.9L1650 302L1650.5 304.8L1651 303.1L1651.5 314.5L1652 302.9L1652.5 310.8L1653 312.8L1653.5 304.3L1654 314.6L1654.5 298.5L1655 299.8L1655.5 309.8L1656 307.3L1656.5 313L1657 300.9L1657.5 301.5L1658 311.7L1658.5 301.3L1659 308.9L1659.5 295.3L1660 295.6L1660.5 309.5L1661 296.8L1661.5 290.6L1662 292.4L1662.5 306.5L1663 297.3L1663.5 303.6L1664 308.5L1664.5 302.4L1665 304.3L1665.5 309.3L1666 294.5L1666.5 307.3L1667 300.5 V411"/>
</g>
<g fill="none" stroke="#5AAA00" stroke-width="7.2" stroke-linejoin="bevel" stroke-linecap="butt" clip-path="url(#plot)">
<path d="M105 518.6L105.5 518.8L106 518.2L106.5 517.3L107 518.7L107.5 517L108 517.1L108.5 518.1L109 517.4L109.5 517L110 518.2L110.5 518.1L111 517.4L111.5 517.4L112 518.4L112.5 518.2L113 516.6L113.5 517.6L114 518L114.5 517.3L115 516.9L115.5 517.7L116 518.8L116.5 518.4L117 517.4L117.5 518.7L118 521.1L118.5 523.7L119 524.1L119.5 520.3L120 517.3L120.5 517L121 516.6L121.5 517.8L122 517.5L122.5 516.9L123 517.8L123.5 517.3L124 518L124.5 520.7L125 523.6L125.5 524.5L126 521.5L126.5 518.3L127 518L127.5 517.1L128 517.3L128.5 517.3L129 518.9L129.5 518.6L130 517.5L130.5 517.2L131 516.4L131.5 518L132 517.3L132.5 517.8L133 517L133.5 517.3L134 519.7L134.5 521.8L135 523.6L135.5 521.3L136 519.8L136.5 518.9L137 517L137.5 517.8L138 517.5L138.5 518.4L139 517.2L139.5 517L140 517.1L140.5 517.6L141 517.4L141.5 518.5L142 518.4L142.5 516.6L143 518.1L143.5 517.7L144 518.6L144.5 517.6L145 518.4L145.5 517.9L146 522.5L146.5 524.7L147 521.5L147.5 517.9L148 517.8L148.5 517.7L149 517.4L149.5 517.6L150 517.6L150.5 517.9L151 517.5L151.5 517.5L152 519.3L152.5 520.2L153 519.4L153.5 518.8L154 517.8L154.5 518.3L155 517.1L155.5 517.7L156 517.2L156.5 516.6L157 517.4L157.5 518.8L158 517.7L158.5 516.4L159 517.2L159.5 517.5L160 516.4L160.5 517L161 516.5L161.5 517.2L162 517.8L162.5 516.8L163 516.8L163.5 516.9L164 517.7L164.5 516.5L165 517.3L165.5 518.1L166 518.2L166.5 518.1L167 517L167.5 517.9L168 518.5L168.5 522L169 524.3L169.5 522.9L170 521.5L170.5 518.5L171 517.1L171.5 518.4L172 516.6L172.5 517L173 518.4L173.5 518.5L174 517.8L174.5 518.3L175 517.8L175.5 518.9L176 517.8L176.5 517.7L177 518.3L177.5 521.5L178 523.5L178.5 526.1L179 522.1L179.5 521.1L180 519.1L180.5 518.5L181 517.3L181.5 517.4L182 517.5L182.5 519L183 521.8L183.5 522.8L184 525.7L184.5 526.6L185 528.7L185.5 526.7L186 526.2L186.5 523.5L187 520.2L187.5 519.5L188 518.2L188.5 518.6L189 518.8L189.5 518.3L190 518.7L190.5 519.5L191 519.8L191.5 521.3L192 522.1L192.5 521L193 517.9L193.5 519.4L194 517.4L194.5 519.1L195 518.9L195.5 518L196 518.8L196.5 519.1L197 517.1L197.5 517.7L198 516L198.5 517.5L199 516.5L199.5 519.2L200 520.8L200.5 524.3L201 527.6L201.5 523.7L202 522.1L202.5 518.3L203 516.9L203.5 518.6L204 517.3L204.5 518.5L205 519.5L205.5 519.7L206 518.7L206.5 517.8L207 518.2L207.5 517.7L208 517.6L208.5 517.5L209 517.3L209.5 517.1L210 518.6L210.5 517.2L211 518.3L211.5 517.8L212 518.3L212.5 518.2L213 518L213.5 518.6L214 518.1L214.5 518.7L215 518.1L215.5 519.3L216 521.2L216.5 522.7L217 521.3L217.5 519.6L218 517L218.5 518.2L219 517.9L219.5 518.3L220 516.9L220.5 517.1L221 518.4L221.5 519.2L222 519.9L222.5 521.7L223 523.1L223.5 521.3L224 519L224.5 517.9L225 518.3L225.5 517.7L226 517.6L226.5 517.1L227 517.6L227.5 518.5L228 518.4L228.5 518.3L229 518.1L229.5 517.3L230 516.9L230.5 517L231 518.4L231.5 518.3L232 517.9L232.5 518.1L233 518.4L233.5 518.5L234 518.3L234.5 522.1L235 524.5L235.5 525.5L236 523L236.5 520.3L237 518.6L237.5 518.9L238 518.8L238.5 518.6L239 520.4L239.5 523.1L240 525.1L240.5 526.8L241 528.8L241.5 527.3L242 525.9L242.5 523.1L243 523.8L243.5 523.1L244 522.2L244.5 521.6L245 519L245.5 519L246 519L246.5 519.5L247 519.3L247.5 519.3L248 519.1L248.5 520.9L249 519.5L249.5 519.5L250 519.6L250.5 518.9L251 519.1L251.5 519.6L252 520.1L252.5 520.1L253 519.8L253.5 520.5L254 520.9L254.5 520.2L255 520.4L255.5 521.1L256 520.7L256.5 521.4L257 519.6L257.5 520.5L258 520L258.5 519.8L259 522.3L259.5 522.7L260 525.5L260.5 526.3L261 525.3L261.5 522.1L262 520.7L262.5 520.5L263 521.1L263.5 522.6L264 522.4L264.5 521.4L265 521.2L265.5 522.5L266 522.5L266.5 521.5L267 522.9L267.5 522.5L268 523L268.5 523L269 525.1L269.5 524.2L270 524.7L270.5 524.2L271 524.9L271.5 525.8L272 526.2L272.5 526.7L273 525.6L273.5 526L274 526.8L274.5 528.4L275 531.3L275.5 531.8L276 530.8L276.5 530L277 529.4L277.5 529.4L278 529.1L278.5 530.9L279 530L279.5 531.8L280 530.9L280.5 532.7L281 535.4L281.5 538.6L282 538L282.5 537.2L283 536.1L283.5 535L284 535.7L284.5 537.4L285 537.9L285.5 537.1L286 539L286.5 537.8L287 539.9L287.5 539.9L288 542.9L288.5 545L289 545.9L289.5 546L290 544L290.5 543.1L291 544.1L291.5 545.9L292 545.3L292.5 545.7L293 546.9L293.5 549.5L294 549.5L294.5 551.3L295 558.2L295.5 563.4L296 564.8L296.5 561.4L297 556.6L297.5 555.3L298 557L298.5 556.9L299 557.5L299.5 559.2L300 560.3L300.5 560.6L301 560.7L301.5 561.3L302 561.1L302.5 562.1L303 563.7L303.5 563.9L304 565.3L304.5 565.6L305 566.2L305.5 567.2L306 567.2L306.5 568.3L307 568.8L307.5 570.2L308 574.1L308.5 575.7L309 580.5L309.5 578.5L310 576.2L310.5 573.5L311 573L311.5 573.1L312 573.4L312.5 573.3L313 574.9L313.5 575.6L314 575.3L314.5 576.4L315 575.7L315.5 577.3L316 578L316.5 577.9L317 579L317.5 579L318 579.4L318.5 579.5L319 579.7L319.5 581.8L320 584.8L320.5 584.2L321 583.9L321.5 582L322 582.8L322.5 583.8L323 583.4L323.5 582.6L324 584.5L324.5 584.4L325 585.7L325.5 584.7L326 585.5L326.5 587.2L327 587.5L327.5 588L328 587.5L328.5 588.1L329 589L329.5 588.8L330 587.9L330.5 588.3L331 588.2L331.5 588.5L332 588.5L332.5 589.3L333 589.8L333.5 590.6L334 590L334.5 589.8L335 591.5L335.5 591.8L336 592.2L336.5 590.6L337 592L337.5 592.3L338 592.4L338.5 592.1L339 593.9L339.5 593.4L340 592.6L340.5 593.5L341 594.7L341.5 594L342 595.4L342.5 594.5L343 595.1L343.5 595.2L344 595.1L344.5 596.8L345 596L345.5 597.1L346 597.7L346.5 596.7L347 596.5L347.5 598L348 597.9L348.5 599.6L349 598.6L349.5 600.1L350 598.9L350.5 599.6L351 599.7L351.5 601.2L352 600.9L352.5 601.3L353 600.3L353.5 601.1L354 602.6L354.5 602.3L355 602.8L355.5 602.7L356 602.4L356.5 604.2L357 603.3L357.5 603.2L358 604.3L358.5 603.4L359 604.9L359.5 605L360 604.6L360.5 605.1L361 605.4L361.5 604.6L362 604.7L362.5 605.3L363 604.6L363.5 605.2L364 605.8L364.5 606.6L365 606.5L365.5 606.1L366 607.5L366.5 607.9L367 607.9L367.5 608.2L368 607.6L368.5 609.1L369 609L369.5 608.3L370 609.4L370.5 609.4L371 609.6L371.5 610L372 611.1L372.5 611.7L373 612L373.5 611.2L374 611.6L374.5 613.1L375 612L375.5 612.7L376 611.9L376.5 613.1L377 613.2L377.5 613.9L378 614.6L378.5 614.1L379 614.3L379.5 614L380 614.4L380.5 614.6L381 615.7L381.5 615.1L382 615.7L382.5 616.1L383 615L383.5 615.8L384 616.8L384.5 616.2L385 616.7L385.5 618.2L386 618.3L386.5 617.4L387 617.7L387.5 619.3L388 618.6L388.5 618.5L389 619.5L389.5 619.4L390 620.1L390.5 618.5L391 620L391.5 619.9L392 619.6L392.5 620.3L393 619.5L393.5 620L394 620.3L394.5 621.7L395 621.6L395.5 620.7L396 620.9L396.5 622.1L397 621.6L397.5 622L398 623.6L398.5 623.2L399 623.5L399.5 623.6L400 622.3L400.5 622.9L401 623.6L401.5 623.5L402 624.2L402.5 623.1L403 623.5L403.5 623.1L404 623.2L404.5 623.3L405 623.7L405.5 624L406 624.8L406.5 625.1L407 626.2L407.5 626.3L408 625.9L408.5 626.3L409 626.1L409.5 625.8L410 626.2L410.5 626.4L411 627.1L411.5 627.1L412 625.9L412.5 627.4L413 626.3L413.5 627.4L414 627.9L414.5 627.8L415 626.8L415.5 627.2L416 626.7L416.5 627.5L417 627.4L417.5 627.6L418 627L418.5 627.6L419 626.8L419.5 628.5L420 628.7L420.5 627L421 628.2L421.5 628.3L422 627.3L422.5 626.7L423 626.6L423.5 628.2L424 627.1L424.5 628.2L425 629.2L425.5 627.7L426 629L426.5 628.5L427 628.5L427.5 628.8L428 628.6L428.5 629.7L429 629.4L429.5 629.1L430 628.8L430.5 629.9L431 631.3L431.5 631.4L432 630.1L432.5 630.7L433 631L433.5 630.7L434 630.3L434.5 630.6L435 631.5L435.5 631.9L436 631.9L436.5 631.9L437 632L437.5 631.2L438 632.1L438.5 633L439 633.5L439.5 633.9L440 634.2L440.5 634.3L441 633.8L441.5 635.8L442 636.3L442.5 635.8L443 635.4L443.5 636.1L444 637.3L444.5 637.1L445 637.6L445.5 637.9L446 638.7L446.5 638.4L447 637.5L447.5 638.4L448 639.3L448.5 637.8L449 637.5L449.5 637.6L450 637.7L450.5 638.4L451 640.1L451.5 639.7L452 639.6L452.5 639L453 638.2L453.5 639L454 637.7L454.5 637.9L455 638L455.5 638.1L456 637.9L456.5 637L457 636.7L457.5 635.5L458 635.6L458.5 635.6L459 634.2L459.5 634.4L460 633.6L460.5 633.2L461 633L461.5 631.8L462 631.7L462.5 631.3L463 631.7L463.5 631.5L464 631.2L464.5 629.7L465 629.6L465.5 628.8L466 629.4L466.5 628.5L467 627.7L467.5 627.2L468 628.2L468.5 627.1L469 627.9L469.5 626.5L470 625.8L470.5 626.3L471 626.2L471.5 624.2L472 625.2L472.5 624.2L473 624.3L473.5 623.9L474 622.4L474.5 622.9L475 620.8L475.5 621L476 620.8L476.5 620.3L477 620.7L477.5 620.8L478 619.1L478.5 619.5L479 619.2L479.5 618.5L480 619.4L480.5 618.2L481 618.4L481.5 618.2L482 618.6L482.5 619L483 619.1L483.5 618L484 617.3L484.5 617L485 617.8L485.5 617.5L486 617.3L486.5 617.1L487 616.3L487.5 616.8L488 616.4L488.5 616.6L489 617.1L489.5 616.6L490 616.7L490.5 616.9L491 615.9L491.5 616.6L492 615.7L492.5 616L493 616.7L493.5 616.9L494 616.8L494.5 616.3L495 616.4L495.5 616.4L496 615.7L496.5 614.8L497 614L497.5 615.3L498 615.1L498.5 614.9L499 614.5L499.5 614.3L500 614.1L500.5 613.3L501 613.3L501.5 612.4L502 613.1L502.5 613.3L503 613.1L503.5 612.3L504 611.9L504.5 612.8L505 611.6L505.5 612.9L506 611.7L506.5 612.9L507 612L507.5 613.1L508 611.7L508.5 611.6L509 612.5L509.5 612.5L510 611.4L510.5 611.4L511 611.6L511.5 610.6L512 610.5L512.5 610.5L513 609.7L513.5 609.4L514 610.9L514.5 609.4L515 611L515.5 610.4L516 609.3L516.5 609.9L517 608.2L517.5 609.2L518 608.7L518.5 608.5L519 609.6L519.5 607.6L520 608.9L520.5 607L521 608.1L521.5 607.2L522 607.5L522.5 608L523 607.4L523.5 605.8L524 606.1L524.5 606.3L525 606.7L525.5 605L526 606.5L526.5 606.2L527 606.5L527.5 605.2L528 605.5L528.5 606.6L529 605.8L529.5 605.1L530 604.5L530.5 604.8L531 605.7L531.5 605.7L532 604.8L532.5 605.8L533 604.9L533.5 604.8L534 604.4L534.5 604.3L535 604.1L535.5 604.9L536 604.2L536.5 603.8L537 604.3L537.5 605.2L538 604.5L538.5 603.3L539 603.9L539.5 603.8L540 602.7L540.5 604.4L541 604.1L541.5 602.3L542 602.9L542.5 602.1L543 601.6L543.5 601.6L544 601.1L544.5 602.2L545 601.3L545.5 601.8L546 601.9L546.5 601.5L547 601.1L547.5 600.4L548 601.2L548.5 601.1L549 601.1L549.5 599.7L550 599.4L550.5 601L551 600.2L551.5 599.1L552 600.2L552.5 599L553 600.3L553.5 599.9L554 600L554.5 598.6L555 600L555.5 599.7L556 599.5L556.5 598.8L557 597.7L557.5 598.5L558 597.2L558.5 597.2L559 596.7L559.5 595.6L560 596.5L560.5 595.8L561 594.7L561.5 595L562 594.5L562.5 595.1L563 596.1L563.5 594.5L564 594.1L564.5 594.3L565 592.2L565.5 591.9L566 593L566.5 591.6L567 592.4L567.5 592.4L568 591.4L568.5 589.9L569 590L569.5 590.6L570 591.3L570.5 590.5L571 590.4L571.5 589.6L572 588.4L572.5 588.4L573 586.5L573.5 587.3L574 588.1L574.5 586.9L575 587.7L575.5 587.8L576 586.5L576.5 588L577 586.8L577.5 588L578 586L578.5 585.8L579 585.8L579.5 585.5L580 584.9L580.5 584.3L581 585L581.5 584.7L582 583.4L582.5 583.8L583 584.6L583.5 583.5L584 582.5L584.5 583.1L585 582.4L585.5 583.2L586 582.3L586.5 581.2L587 581.5L587.5 581.6L588 583.2L588.5 581.8L589 581.5L589.5 582.3L590 580.4L590.5 580.9L591 581.3L591.5 581L592 579.2L592.5 579.6L593 579L593.5 579.8L594 578.8L594.5 578.5L595 578.5L595.5 577.9L596 578.8L596.5 577.6L597 577.6L597.5 577.3L598 577.5L598.5 577.3L599 577.4L599.5 577.7L600 576.1L600.5 576.7L601 575.6L601.5 575.2L602 575.1L602.5 576.5L603 574.6L603.5 575L604 576.1L604.5 574.5L605 574.3L605.5 573.8L606 574.4L606.5 572.7L607 574.2L607.5 572.3L608 573.2L608.5 573.5L609 573L609.5 572.3L610 571.5L610.5 570.5L611 571.5L611.5 569.9L612 569.9L612.5 569.5L613 570L613.5 568.6L614 568.2L614.5 569.5L615 568.6L615.5 568.6L616 568.3L616.5 568.3L617 568.2L617.5 567.5L618 565.7L618.5 567L619 565.1L619.5 566.8L620 565L620.5 566.5L621 566.2L621.5 564.6L622 565.7L622.5 565.1L623 563.9L623.5 565.3L624 564.7L624.5 564.4L625 565.4L625.5 563.7L626 563.4L626.5 564.6L627 562.8L627.5 563.9L628 562.5L628.5 563.5L629 562.5L629.5 562.9L630 562.9L630.5 562.4L631 562.6L631.5 562.6L632 561.2L632.5 562.5L633 562L633.5 560.5L634 560.4L634.5 560.5L635 560.7L635.5 560L636 559.5L636.5 560.6L637 559.6L637.5 560.6L638 560.5L638.5 559L639 559.8L639.5 559.8L640 560.4L640.5 559L641 559.1L641.5 559.9L642 558.2L642.5 559.7L643 558.6L643.5 558.4L644 559.5L644.5 558L645 557.4L645.5 557.3L646 558.2L646.5 558.1L647 557.3L647.5 557.7L648 557.1L648.5 558L649 556.9L649.5 557.4L650 558L650.5 556.6L651 558L651.5 557L652 557.3L652.5 556.5L653 557L653.5 556.8L654 556.2L654.5 556.6L655 555.7L655.5 554.9L656 556.6L656.5 555.8L657 555.8L657.5 555.9L658 554.9L658.5 555.4L659 554.9L659.5 555.7L660 555.8L660.5 555.3L661 555.4L661.5 554.5L662 553.7L662.5 554.3L663 553.6L663.5 553.8L664 553.5L664.5 553.3L665 554.2L665.5 554.3L666 554.9L666.5 555.3L667 553.9L667.5 555L668 554.3L668.5 553.6L669 554L669.5 553.1L670 552L670.5 552.2L671 552.7L671.5 553.6L672 553.6L672.5 553.7L673 552.3L673.5 552.5L674 552.7L674.5 552.5L675 551.7L675.5 551.4L676 551.7L676.5 552.8L677 552.8L677.5 551.9L678 553.3L678.5 551.4L679 551.7L679.5 552.1L680 552.9L680.5 552.6L681 552.9L681.5 553.6L682 552.5L682.5 552.3L683 552.7L683.5 552.7L684 551.5L684.5 551.2L685 552.5L685.5 553.3L686 553.5L686.5 552.7L687 553.2L687.5 553.6L688 553.6L688.5 552.2L689 553.5L689.5 553.5L690 552.9L690.5 554.1L691 553.8L691.5 555L692 555.4L692.5 556L693 555L693.5 555.8L694 555.8L694.5 555.3L695 555.1L695.5 554.2L696 553.7L696.5 552.3L697 552.1L697.5 549.2L698 549.3L698.5 547.7L699 544.9L699.5 545.6L700 544.3L700.5 544L701 543.3L701.5 543.2L702 542.3L702.5 542.2L703 540.9L703.5 540.3L704 541.4L704.5 541.8L705 539.9L705.5 541.1L706 539.7L706.5 539.8L707 538.8L707.5 539.5L708 538.8L708.5 539.3L709 538L709.5 537.9L710 538.3L710.5 537.2L711 538.8L711.5 537.8L712 538.3L712.5 536.6L713 537.5L713.5 536.4L714 536.1L714.5 536.8L715 537L715.5 537L716 536.8L716.5 536.2L717 537.1L717.5 536.5L718 536.8L718.5 538L719 537.9L719.5 538L720 538.4L720.5 538.2L721 536.9L721.5 538.4L722 537.5L722.5 537.5L723 537L723.5 537.1L724 537.3L724.5 536.2L725 537.5L725.5 536.8L726 537.6L726.5 537.7L727 537.6L727.5 536.8L728 538.1L728.5 538L729 539L729.5 539L730 538.6L730.5 539L731 537.9L731.5 539.3L732 539.6L732.5 539L733 538.4L733.5 537L734 537.9L734.5 536.8L735 535.8L735.5 535.8L736 535.7L736.5 534.7L737 534.4L737.5 532.4L738 533.8L738.5 533.4L739 532.3L739.5 532.7L740 530.5L740.5 530.1L741 529.1L741.5 529.6L742 529.7L742.5 529.3L743 527.2L743.5 528.4L744 527.8L744.5 527.2L745 528.5L745.5 527.5L746 526L746.5 526.2L747 526.4L747.5 526.8L748 525.5L748.5 526.4L749 525.4L749.5 527.2L750 525.4L750.5 527.2L751 526.2L751.5 526.2L752 525.8L752.5 525.2L753 524.8L753.5 524.3L754 524.4L754.5 524L755 524.4L755.5 525.1L756 524.9L756.5 525L757 525L757.5 526.1L758 526L758.5 524.9L759 525.6L759.5 526.2L760 524.5"/>
<path d="M789 484.2L789.5 484L790 484.3L790.5 484.4L791 483.3L791.5 483.9L792 484.3L792.5 484.6L793 484.2L793.5 484.8L794 484.5L794.5 484.3L795 484.1L795.5 485L796 485L796.5 484.5L797 483.7L797.5 484.5L798 484L798.5 484.7L799 483L799.5 484.4L800 483.8L800.5 484.5L801 484L801.5 483L802 484.2L802.5 484L803 483.5L803.5 483.4L804 484L804.5 484.4L805 484.3L805.5 483.5L806 483.6L806.5 484.3L807 483.9L807.5 484.4L808 484L808.5 483.9L809 484.9L809.5 483.8L810 483.4L810.5 483.8L811 483.7L811.5 483.2L812 484.6L812.5 483.3L813 483.2L813.5 484.4L814 483.8L814.5 484.3L815 484.7L815.5 484.4L816 485L816.5 484.1L817 484.9L817.5 483.9L818 484.6L818.5 485.1L819 484.7L819.5 485.1L820 484.5L820.5 484L821 484.2L821.5 485L822 483.8L822.5 484.9L823 484.5L823.5 485.6L824 484.5L824.5 484.4L825 484.3L825.5 484.9L826 485.7L826.5 485L827 485.2L827.5 484.5L828 483.4L828.5 484.2L829 484L829.5 483.8L830 483.2L830.5 483.1L831 483.2L831.5 482.7L832 483.1L832.5 483.4L833 483.9L833.5 484.5L834 484L834.5 483.6L835 483.9L835.5 483.5L836 482.7L836.5 483.8L837 483.7L837.5 483.7L838 484.1L838.5 484.1L839 484.2L839.5 482.8L840 484.6L840.5 484L841 484.1L841.5 484.2L842 483.5L842.5 483.5L843 484.4L843.5 483.9L844 484.5L844.5 483.1L845 483.8L845.5 484L846 483L846.5 484.2L847 483.9L847.5 484L848 483.7L848.5 484.6L849 484.9L849.5 485L850 484.6L850.5 484.6L851 484.4L851.5 484.2L852 483.7L852.5 484.3L853 483.7L853.5 484.6L854 484.1L854.5 484.5L855 484.9L855.5 483.8L856 485.4L856.5 484L857 484.7L857.5 483.9L858 483.2L858.5 483.8L859 483.1L859.5 482.8L860 484.3L860.5 483.5L861 485L861.5 484.3L862 483.7L862.5 483.1L863 484.5L863.5 483.3L864 484.6L864.5 484.2L865 484.2L865.5 483.6L866 484.3L866.5 483.7L867 485.2L867.5 484.6L868 483.1L868.5 483.2L869 482.6L869.5 484L870 483.5L870.5 483.5L871 483.8L871.5 484.9L872 484.7L872.5 484L873 484.8L873.5 484L874 483.6L874.5 484.8L875 483.2L875.5 484.5L876 484.8L876.5 483.1L877 484.4L877.5 484.3L878 483.1L878.5 483.8L879 483.6L879.5 483.9L880 483.9L880.5 484L881 483.1L881.5 483.7L882 483.8L882.5 484.6L883 484.9L883.5 485L884 484.8L884.5 485.2L885 484.5L885.5 484.1L886 483.7L886.5 485L887 484.6L887.5 483.8L888 484.4L888.5 485.4L889 485L889.5 484.5L890 485.2L890.5 484.2L891 483.2L891.5 483.5L892 485.2L892.5 483.7L893 484.8L893.5 483.3L894 483.8L894.5 483.7L895 483.9L895.5 483.5L896 484.1L896.5 484.7L897 484.3L897.5 483.8L898 485.2L898.5 485.5L899 485L899.5 484.6L900 483.9L900.5 483.7L901 483.9L901.5 483.3L902 485.1L902.5 484.7L903 484.3L903.5 484.7L904 483.9L904.5 485.1L905 484.6L905.5 485L906 484.2L906.5 484.7L907 485.2L907.5 484.9L908 484.4L908.5 485.3L909 486.1L909.5 485.6L910 486.7L910.5 486L911 486.6L911.5 485L912 485.9L912.5 485.6L913 485.1L913.5 486.2L914 484.8L914.5 485.6L915 485.4L915.5 486.7L916 486.4L916.5 485.5L917 485.3L917.5 485.2L918 485.5L918.5 487.1L919 487.3L919.5 487.3L920 486.6L920.5 486.7L921 486.9L921.5 487.2L922 485.6L922.5 485.8L923 486.7L923.5 486L924 487.6L924.5 486L925 487.8L925.5 486.8L926 487.1L926.5 487.8L927 488.4L927.5 489.3L928 488.6L928.5 489.6L929 489.9L929.5 491.7L930 492.8L930.5 492.7L931 490.3L931.5 490.1L932 490.2L932.5 489.9L933 491.3L933.5 490.7L934 490.8L934.5 491.1L935 491.3L935.5 492.7L936 492.4L936.5 492.5L937 492.4L937.5 493.5L938 492.5L938.5 492.8L939 493.3L939.5 493.7L940 493.5L940.5 493.5L941 492.2L941.5 496.1L942 499.2L942.5 497.1L943 494.7L943.5 494.2L944 494.1L944.5 494.4L945 494.9L945.5 494.9L946 494.7L946.5 493.3L947 493.6L947.5 494.1L948 497.2L948.5 499.1L949 502.1L949.5 501.1L950 499.2L950.5 495.7L951 497.2L951.5 496.5L952 498.3L952.5 497.1L953 497.6L953.5 498.6L954 498.6L954.5 500.5L955 500.3L955.5 501.7L956 503L956.5 503.6L957 505.2L957.5 507.7L958 506L958.5 506.8L959 506.2L959.5 505.3L960 506.3L960.5 507.6L961 506.6L961.5 508.9L962 509.7L962.5 510.2L963 511L963.5 511L964 511.8L964.5 511.5L965 511.8L965.5 513L966 513.1L966.5 513.4L967 513.9L967.5 514.8L968 515.2L968.5 516.5L969 517.1L969.5 518.2L970 519.4L970.5 520.1L971 522L971.5 524.5L972 523.5L972.5 524.4L973 523.9L973.5 524.8L974 525.4L974.5 525.9L975 525.6L975.5 525.7L976 528.1L976.5 528.5L977 528.6L977.5 529.9L978 529.8L978.5 531.3L979 532.3L979.5 533L980 532.8L980.5 533.3L981 535.8L981.5 537.8L982 538.6L982.5 542L983 542.2L983.5 539.8L984 539.9L984.5 537.9L985 538.1L985.5 538.2L986 539.8L986.5 540.6L987 541L987.5 540.5L988 542.1L988.5 541.5L989 542.6L989.5 545.6L990 547L990.5 550.5L991 549.6L991.5 548.7L992 546.3L992.5 545.2L993 544.7L993.5 544.4L994 544.5L994.5 544.9L995 544L995.5 544.3L996 542.4L996.5 542.5L997 541.6L997.5 542.7L998 540.3L998.5 540.4L999 540.8L999.5 541.4L1000 544.5L1000.5 544.1L1001 539.7L1001.5 536.5L1002 535.4L1002.5 534.3L1003 533.7L1003.5 532.6L1004 532.1L1004.5 530.4L1005 528.3L1005.5 528.1L1006 526.4L1006.5 526.5L1007 525.3L1007.5 526.1L1008 529.7L1008.5 530.4L1009 528.9L1009.5 524.6L1010 520.9L1010.5 517.6L1011 517L1011.5 516L1012 514.8L1012.5 513.3L1013 512.8L1013.5 511.8L1014 511.3L1014.5 510.9L1015 510.3L1015.5 509.4L1016 508.9L1016.5 508.5L1017 507.8L1017.5 507.7L1018 505.9L1018.5 505.4L1019 505.3L1019.5 507.6L1020 508L1020.5 507.9L1021 507.3L1021.5 504.4L1022 503.1L1022.5 501.5L1023 500.8L1023.5 500.6L1024 498.9L1024.5 500.1L1025 498.1L1025.5 499.4L1026 498.6L1026.5 498.8L1027 500.1L1027.5 503.6L1028 500.4L1028.5 497L1029 495.3L1029.5 494.8L1030 495.8L1030.5 495.7L1031 494.5L1031.5 494.8L1032 494.5L1032.5 493.8L1033 493.5L1033.5 493.3L1034 492.4L1034.5 492.8L1035 491.7L1035.5 491.7L1036 490.9L1036.5 492.3L1037 490.3L1037.5 491.3L1038 490.9L1038.5 490L1039 491L1039.5 488.9L1040 489.1L1040.5 490.1L1041 492.2L1041.5 493.4L1042 493.1L1042.5 491.4L1043 488.1L1043.5 488.4L1044 488L1044.5 488.4L1045 487.8L1045.5 487.2L1046 486.4L1046.5 486.9L1047 487.1L1047.5 486.8L1048 486.8L1048.5 487.3L1049 486.7L1049.5 487.7L1050 486.7L1050.5 486.8L1051 486.8L1051.5 487.5L1052 486.8L1052.5 487.4L1053 485.4L1053.5 488.3L1054 488.5L1054.5 491.5L1055 490.9L1055.5 491.2L1056 489.5L1056.5 487.9L1057 487.1L1057.5 487L1058 487L1058.5 487.5L1059 488.9L1059.5 488.4L1060 487.8L1060.5 488.2L1061 488.1L1061.5 487.9L1062 488.2L1062.5 489.1L1063 488.5L1063.5 489.2L1064 488L1064.5 489.4L1065 490L1065.5 490.8L1066 490.8L1066.5 491.1L1067 492.2L1067.5 490.6L1068 492L1068.5 492.4L1069 495.8L1069.5 498.8L1070 501.6L1070.5 501.3L1071 499.8L1071.5 496.6L1072 496.1L1072.5 494.9L1073 496.6L1073.5 496.3L1074 496.4L1074.5 496.7L1075 497.4L1075.5 497.6L1076 497.5L1076.5 497.7L1077 499.5L1077.5 498.8L1078 499.6L1078.5 500.2L1079 500L1079.5 501.5L1080 500.5L1080.5 500.7L1081 500.8L1081.5 501.6L1082 501.3L1082.5 502.6L1083 502.5L1083.5 501.6L1084 503.6L1084.5 503.3L1085 503.1L1085.5 505.5L1086 506.3L1086.5 504.4L1087 503.5L1087.5 502.5L1088 500.3L1088.5 500.8L1089 499.9L1089.5 501.3L1090 499.8L1090.5 501.3L1091 500.4L1091.5 504.1L1092 507L1092.5 504.3L1093 499.3L1093.5 498.8L1094 498.1L1094.5 498.1L1095 498.2L1095.5 498.2L1096 499.7L1096.5 499L1097 498.3L1097.5 498.6L1098 497.6L1098.5 498L1099 498.8L1099.5 499L1100 498.9L1100.5 499.7L1101 501L1101.5 502.6L1102 503.8L1102.5 506L1103 502.9L1103.5 502.7L1104 500L1104.5 500.9L1105 499.4L1105.5 500.9L1106 500.6L1106.5 501.6L1107 501.3L1107.5 502.2L1108 502.1L1108.5 502.2L1109 503.1L1109.5 501.8L1110 503.8L1110.5 503.3L1111 504L1111.5 504.3L1112 504.5L1112.5 505.5L1113 510.3L1113.5 513L1114 511.6L1114.5 506.9L1115 507.6L1115.5 508.3L1116 508.1L1116.5 508L1117 509.8L1117.5 509.9L1118 509.3L1118.5 508.9L1119 510.5L1119.5 510L1120 509.7L1120.5 509.3L1121 508.1L1121.5 508.9L1122 508.6L1122.5 508.3L1123 508.1L1123.5 508.1L1124 508L1124.5 506.3L1125 505.4L1125.5 505.6L1126 505.2L1126.5 504.4L1127 504.4L1127.5 504L1128 503.7L1128.5 502L1129 502.2L1129.5 501.1L1130 501.2L1130.5 500.2L1131 499.7L1131.5 498.9L1132 497.4L1132.5 496.6L1133 496.6L1133.5 495.3L1134 495.7L1134.5 495.1L1135 494.6L1135.5 494.7L1136 494.2L1136.5 494.7L1137 495L1137.5 494L1138 494.8L1138.5 494.1L1139 494.2L1139.5 494.8L1140 494.7L1140.5 494.3L1141 494.9L1141.5 493.9L1142 494.6L1142.5 494.5L1143 495L1143.5 494.1L1144 494.4L1144.5 494.5L1145 494.1L1145.5 494.7L1146 494.9L1146.5 495.1L1147 494.4L1147.5 494.8L1148 495.2L1148.5 494.3L1149 494.9L1149.5 494.5L1150 495.2L1150.5 494.9L1151 495.2L1151.5 494.4L1152 495.1L1152.5 495.1L1153 495.1L1153.5 495.6L1154 496.2L1154.5 496.3L1155 496.7L1155.5 496.8L1156 497.5L1156.5 497.9L1157 499L1157.5 499.6L1158 499.9L1158.5 500.7L1159 501.2L1159.5 502L1160 502L1160.5 503.3L1161 503.2L1161.5 503.4L1162 504.3L1162.5 505.6L1163 505.7L1163.5 506.4L1164 507.7L1164.5 508.2L1165 508.5L1165.5 509.2L1166 510.1L1166.5 510.8L1167 512.1L1167.5 512.5L1168 513.7L1168.5 514.6L1169 515.1L1169.5 515.5L1170 516.3L1170.5 517.5L1171 518.6L1171.5 519.7L1172 520.5L1172.5 520.8L1173 522.1L1173.5 522.7L1174 524L1174.5 524.3L1175 526.2L1175.5 527.3L1176 528L1176.5 529.2L1177 530.5L1177.5 531.9L1178 533.8L1178.5 535.3L1179 536.5L1179.5 537L1180 538.9L1180.5 539.9L1181 540.1L1181.5 542L1182 543.2L1182.5 544.3L1183 545.4L1183.5 545.6L1184 546.9L1184.5 547.8L1185 549L1185.5 549L1186 549.7L1186.5 550.2L1187 550.7L1187.5 551.7L1188 552.1L1188.5 553L1189 553.2L1189.5 554.3L1190 553.9L1190.5 554.9L1191 555.1L1191.5 554.9L1192 555.4L1192.5 555.6L1193 555.7L1193.5 556L1194 555.4L1194.5 555.7L1195 556.4L1195.5 555.9L1196 556.8L1196.5 556.4L1197 556.1L1197.5 556.9L1198 556.4L1198.5 557.1L1199 556.9L1199.5 556.8L1200 556.7L1200.5 556L1201 556.1L1201.5 556.6L1202 556.6L1202.5 556.6L1203 556.8L1203.5 557.2L1204 557.7L1204.5 558.4L1205 558.6L1205.5 559.3L1206 559.1L1206.5 559.9L1207 561.3L1207.5 562.8L1208 563.4L1208.5 564.2L1209 565.3L1209.5 566.8L1210 568.7L1210.5 569.5L1211 571.4L1211.5 572.8L1212 574.2L1212.5 576L1213 577.3L1213.5 579.4L1214 582L1214.5 584.3L1215 587.8L1215.5 589.5L1216 592.3L1216.5 594.3L1217 597L1217.5 599.4L1218 602.2L1218.5 604.1L1219 606.7L1219.5 609L1220 611.7L1220.5 614.7L1221 617.3L1221.5 619.1L1222 622.7L1222.5 625.3L1223 627.4L1223.5 630.1L1224 633.3L1224.5 635L1225 638L1225.5 639.6L1226 641.8L1226.5 643.1L1227 644.5L1227.5 647L1228 648.9L1228.5 650.6L1229 653.1L1229.5 654.6L1230 656.1L1230.5 657.3L1231 658.8L1231.5 660L1232 662.2L1232.5 663.3L1233 664.5L1233.5 665.9L1234 667.4L1234.5 668.2L1235 669.3L1235.5 671.3L1236 671.4L1236.5 672.7L1237 673.9L1237.5 674.4L1238 675.7L1238.5 677.2L1239 677.8L1239.5 678.8L1240 679.3L1240.5 680.6L1241 681.2L1241.5 682.3L1242 683L1242.5 683.7L1243 684.2L1243.5 685.4L1244 686L1244.5 687.3L1245 687.6L1245.5 688L1246 688.8L1246.5 689.9L1247 690L1247.5 691L1248 691.4L1248.5 691.5L1249 692L1249.5 692.5L1250 693.2L1250.5 693.9L1251 693.9L1251.5 695.2L1252 694.8L1252.5 696.2L1253 696L1253.5 697.2L1254 696.6L1254.5 697.8L1255 697.7L1255.5 697.9L1256 697.8L1256.5 698.1L1257 698.4L1257.5 699.5L1258 700L1258.5 699.6L1259 700.5L1259.5 700.2L1260 700.5L1260.5 701.2L1261 701.2L1261.5 701.8L1262 702L1262.5 701.5L1263 702.2L1263.5 702.6L1264 702.7L1264.5 702.6L1265 702.7L1265.5 703.1L1266 703.1L1266.5 703.6L1267 704.2L1267.5 704.1L1268 704.4L1268.5 704.7L1269 705.4L1269.5 705.1L1270 705.7L1270.5 706.4L1271 706.4L1271.5 707.3L1272 707.3L1272.5 707.2L1273 707.9L1273.5 708L1274 708.7L1274.5 709L1275 709.4L1275.5 710.4L1276 711L1276.5 711.4L1277 712.2L1277.5 712.9L1278 713.6L1278.5 713.5L1279 714.7L1279.5 714.6L1280 715.4L1280.5 716.6L1281 716.6L1281.5 718.1L1282 718.8L1282.5 718.7L1283 720.2L1283.5 721.4L1284 722L1284.5 722.9L1285 723.9L1285.5 724.8L1286 726L1286.5 727.2L1287 728.6L1287.5 728.4L1288 729.3L1288.5 729.8L1289 730.7L1289.5 731.8L1290 733.4L1290.5 733.6L1291 734.6L1291.5 735.1L1292 736.6L1292.5 736.6L1293 737.6L1293.5 738.3L1294 738.8L1294.5 739.3L1295 740.3L1295.5 740.8L1296 741.3L1296.5 742.8L1297 742.9L1297.5 743.2L1298 744.5L1298.5 745L1299 745.8L1299.5 745.9L1300 746L1300.5 746.8L1301 746.8L1301.5 747.8L1302 747.7L1302.5 748.1L1303 748.5L1303.5 748.8L1304 749.1L1304.5 749.6L1305 749.8L1305.5 750.8L1306 750.5L1306.5 751.6L1307 751.3L1307.5 751.6L1308 752.1L1308.5 752.1L1309 752.4L1309.5 752L1310 752L1310.5 752.4L1311 752.5L1311.5 751.8L1312 751.7L1312.5 752.4L1313 752.1L1313.5 752.1L1314 751.3L1314.5 751.9L1315 750.9L1315.5 750.4L1316 750.3L1316.5 750L1317 749.3L1317.5 749.7L1318 749.3L1318.5 748.2L1319 748.4L1319.5 748.5L1320 747.8L1320.5 747.6L1321 747L1321.5 746.8L1322 746.1L1322.5 746.1L1323 744.9L1323.5 744.2L1324 744.4L1324.5 743L1325 742.8L1325.5 742.2L1326 741.1L1326.5 740.8L1327 739.3L1327.5 738.3L1328 737.3L1328.5 737.3L1329 735.7L1329.5 735.4L1330 734L1330.5 733.5L1331 731.7L1331.5 731.4L1332 730.3L1332.5 728.9L1333 727.1L1333.5 726.8L1334 725.3L1334.5 723.3L1335 722.6L1335.5 720L1336 718.4L1336.5 716.5L1337 715.4L1337.5 713.6L1338 711.7L1338.5 710.5L1339 709.3L1339.5 706.8L1340 705.6L1340.5 703.4L1341 702L1341.5 700L1342 698.1L1342.5 695.9L1343 694.6L1343.5 692.6L1344 690.9L1344.5 688.2L1345 686.8L1345.5 683.6L1346 681.6L1346.5 680L1347 677.4L1347.5 675.3L1348 673.5L1348.5 671.6L1349 669.7L1349.5 667.3L1350 665.8L1350.5 663.4L1351 662.5L1351.5 660.5L1352 659L1352.5 656.5L1353 655.1L1353.5 653.9L1354 651.7L1354.5 651.1L1355 649.7L1355.5 648.3L1356 646.3L1356.5 645.3L1357 643.4L1357.5 641.5L1358 640.2L1358.5 639.6L1359 637.8L1359.5 636.2L1360 634.8L1360.5 633.7L1361 631.6L1361.5 630.2L1362 629.2L1362.5 628L1363 626.4L1363.5 625.1L1364 622.9L1364.5 621.5L1365 620L1365.5 618.6L1366 617.1L1366.5 616.2L1367 614.4L1367.5 613.3L1368 612L1368.5 611.3L1369 609.4L1369.5 608.5L1370 606.8L1370.5 606L1371 604.4L1371.5 602.9L1372 602.3L1372.5 601.1L1373 600.1L1373.5 599.1L1374 597.8L1374.5 597.4L1375 596.1L1375.5 595.3L1376 594.3L1376.5 593.2L1377 592.4L1377.5 591.4L1378 590.8L1378.5 589.2L1379 588L1379.5 587.1L1380 586.5L1380.5 585.8L1381 584.8L1381.5 583.9L1382 582.7L1382.5 581.1L1383 580.2L1383.5 579.1L1384 577.8L1384.5 577.1L1385 576.2L1385.5 574.3L1386 573.6L1386.5 572L1387 571.4L1387.5 569.8L1388 567.9L1388.5 566.9L1389 565.2L1389.5 564L1390 563.2L1390.5 561.7L1391 561L1391.5 559.8L1392 558.4L1392.5 556.6L1393 555.7L1393.5 553.5L1394 552.8L1394.5 551L1395 550L1395.5 547.8L1396 546.9L1396.5 545L1397 543.7L1397.5 542.5L1398 540.6L1398.5 539.5L1399 537.8L1399.5 535.9L1400 534.7L1400.5 533L1401 531L1401.5 530.1L1402 528.6L1402.5 527.3L1403 525.8L1403.5 523.7L1404 522.5L1404.5 520.8L1405 518.7L1405.5 518.2L1406 516.7L1406.5 516L1407 515.2L1407.5 513.9L1408 512.5L1408.5 511.9L1409 509.9L1409.5 509.2L1410 507.5L1410.5 507.1L1411 506L1411.5 505L1412 504.3L1412.5 503.3L1413 502.5L1413.5 501.6L1414 500.9L1414.5 499.3L1415 499.2L1415.5 498L1416 497.7L1416.5 497.1L1417 496.9L1417.5 496.5L1418 496.4L1418.5 496L1419 494.9L1419.5 494.5L1420 493.8L1420.5 494L1421 493.4L1421.5 493.7L1422 492.7L1422.5 493.1L1423 492.7L1423.5 492.4L1424 492L1424.5 492.1L1425 491.3L1425.5 491.9L1426 491.9L1426.5 491.8L1427 492L1427.5 491.8L1428 492.4L1428.5 493.1L1429 493.4L1429.5 493.9L1430 495.6L1430.5 496.3L1431 496.8L1431.5 498.1L1432 499.2L1432.5 500.7L1433 501.2L1433.5 502.2L1434 503.2L1434.5 503.6L1435 505.2L1435.5 506.8L1436 508.1L1436.5 509.6L1437 510.4L1437.5 512.7L1438 513.8L1438.5 516.1L1439 517.7L1439.5 518.6L1440 520.1L1440.5 521.4L1441 523.2L1441.5 524L1442 524.5L1442.5 525.7L1443 525.8L1443.5 526.4L1444 527.2L1444.5 527.5L1445 527.5L1445.5 528.2L1446 528.5L1446.5 529L1447 529.6L1447.5 529.7L1448 530L1448.5 530.5L1449 531.3L1449.5 531.6L1450 531.6L1450.5 531L1451 531.9L1451.5 532.1L1452 532.3L1452.5 532.4L1453 532.1L1453.5 532.4L1454 532.4L1454.5 532.1L1455 532.6L1455.5 532.5L1456 533.3L1456.5 533L1457 532.9L1457.5 531.7L1458 531.9L1458.5 531.4L1459 530.3L1459.5 529.2L1460 528.4L1460.5 527.4L1461 526.1L1461.5 524.9L1462 524.2L1462.5 523.3L1463 521.7L1463.5 521.3L1464 519.6L1464.5 519.4L1465 518.3L1465.5 517.8L1466 517.1L1466.5 516.4L1467 516L1467.5 516.4L1468 515.5L1468.5 515.7L1469 514.9L1469.5 514.9L1470 514L1470.5 514.1L1471 513.2L1471.5 512.6L1472 512.2L1472.5 511.8L1473 511.5L1473.5 511.9L1474 511.4L1474.5 511.8L1475 510.9L1475.5 511.3L1476 510.3L1476.5 510L1477 509.7L1477.5 509.3L1478 509.3L1478.5 509.9L1479 508.7L1479.5 508.8L1480 508.1L1480.5 510L1481 507.8L1481.5 509.5L1482 511.4L1482.5 509.6L1483 509.3L1483.5 509.8L1484 512.4L1484.5 508.9L1485 511.8L1485.5 508.7L1486 508.7L1486.5 511L1487 510.7L1487.5 509.7L1488 511.6L1488.5 509.7L1489 512.9L1489.5 512L1490 513.7L1490.5 512.5L1491 512.7L1491.5 513.5L1492 512.1L1492.5 509.9L1493 511.5L1493.5 510.2L1494 511.5L1494.5 513.6L1495 512.8L1495.5 514.7L1496 513.2L1496.5 512.3L1497 512.9L1497.5 513L1498 514L1498.5 514.4L1499 514.7L1499.5 516.3L1500 517L1500.5 517.5L1501 517.9L1501.5 518.4L1502 518.3L1502.5 517.6L1503 517.8L1503.5 517.1L1504 517.4L1504.5 521.3L1505 519.2L1505.5 522.2L1506 520.4L1506.5 518.8L1507 521.6L1507.5 521.3L1508 523.1L1508.5 522L1509 524.2L1509.5 523.4L1510 523.2L1510.5 524.7L1511 526.4L1511.5 527.8L1512 527.9L1512.5 528.6L1513 527.2L1513.5 527.3L1514 528.3L1514.5 530.7L1515 529.2L1515.5 528.3L1516 529.9L1516.5 531.3L1517 532.7L1517.5 533.6L1518 533L1518.5 533.7L1519 533.9L1519.5 534.2L1520 533.8L1520.5 535.5L1521 535.6L1521.5 532.7L1522 533.7L1522.5 537.7L1523 537.2L1523.5 535.3L1524 538.5L1524.5 535.4L1525 537.3L1525.5 536.6L1526 536.2L1526.5 536L1527 535.3L1527.5 536.8L1528 536L1528.5 538.5L1529 537.8L1529.5 539.7L1530 540.5L1530.5 540.2L1531 539.4L1531.5 539.8L1532 537.9L1532.5 542.2L1533 541.4L1533.5 540.6L1534 540.3L1534.5 537.2L1535 537.4L1535.5 534.8L1536 536.8L1536.5 534L1537 531.4L1537.5 534.1L1538 532L1538.5 532.2L1539 532.1L1539.5 531.4L1540 530.3L1540.5 529.9L1541 529.6L1541.5 532.5L1542 531.3L1542.5 533.2L1543 536.7L1543.5 538.6L1544 540.4L1544.5 536.6L1545 547.2L1545.5 538.4L1546 550.5L1546.5 549.4L1547 555.9L1547.5 559.3L1548 554L1548.5 550.7L1549 561.9L1549.5 551.6L1550 552.5L1550.5 557.3L1551 550.2L1551.5 556L1552 550.7L1552.5 556.9L1553 565.6L1553.5 566.6L1554 568.2L1554.5 566.4L1555 569.3L1555.5 566.6L1556 577.1L1556.5 565.6L1557 568.3L1557.5 569.4L1558 576.6L1558.5 572.2L1559 586.1L1559.5 579.4L1560 591.1L1560.5 590.7L1561 594.7L1561.5 596.2L1562 599.6L1562.5 595.8L1563 599.2L1563.5 593.8L1564 598.6L1564.5 591.6L1565 608.3L1565.5 609L1566 594.9L1566.5 596.2L1567 605.7L1567.5 611.1L1568 611.5L1568.5 609.9L1569 618.1L1569.5 619.1L1570 626.1L1570.5 623.9L1571 641.3L1571.5 627.6L1572 650.1L1572.5 645.4L1573 648.6L1573.5 665.8L1574 673.4L1574.5 652.2L1575 658.8L1575.5 681.5L1576 682.4L1576.5 671.6L1577 670.8L1577.5 683.1L1578 659.7L1578.5 658.1L1579 669L1579.5 665.1L1580 662.2L1580.5 664.9L1581 665.9L1581.5 651.1L1582 651.2L1582.5 671.5L1583 659L1583.5 683.7L1584 684.1L1584.5 692.2L1585 689L1585.5 675.9L1586 694.5L1586.5 688.1L1587 678.7L1587.5 685.2L1588 698.6L1588.5 702.6L1589 700L1589.5 717.1L1590 716.2L1590.5 718.3L1591 706L1591.5 707.2L1592 693.3L1592.5 696.4L1593 717.2L1593.5 712.7L1594 714.1L1594.5 721.1L1595 720L1595.5 714.3L1596 690.6L1596.5 709.5L1597 721.2L1597.5 721.9L1598 723.3L1598.5 707.8L1599 705L1599.5 689.8L1600 704L1600.5 704.9L1601 713.6L1601.5 710.9L1602 684.6L1602.5 685.8L1603 691.9L1603.5 702.9L1604 685L1604.5 703.5L1605 698.2L1605.5 706.1L1606 689.6L1606.5 691.4L1607 678.8L1607.5 689.8L1608 695.6L1608.5 690.2L1609 693.4L1609.5 710.4L1610 707.3L1610.5 695L1611 714.9L1611.5 705.4L1612 689.1L1612.5 682.4L1613 700.1L1613.5 699.9L1614 707.3L1614.5 690.2L1615 706.2L1615.5 705.5L1616 692.4L1616.5 689.1L1617 709.4L1617.5 709.1L1618 683.4L1618.5 695.7L1619 693.3L1619.5 690.2L1620 699L1620.5 700.3L1621 688.1L1621.5 682.7L1622 699.4L1622.5 693.2L1623 682.7L1623.5 675.4L1624 679.5L1624.5 693.3L1625 689.5L1625.5 670.7L1626 682.4L1626.5 665L1627 692.7L1627.5 695.6L1628 674.7L1628.5 679.3L1629 678.8L1629.5 674.6L1630 688.9L1630.5 679L1631 665.2L1631.5 668.8L1632 679.3L1632.5 681.8L1633 662.5L1633.5 680L1634 682.2L1634.5 681.8L1635 681.8L1635.5 687.6L1636 676.1L1636.5 693.5L1637 679.1L1637.5 665.2L1638 680.5L1638.5 671.6L1639 680.8L1639.5 673.7L1640 677.3L1640.5 678.9L1641 683.3L1641.5 671.2L1642 682.5L1642.5 669.6L1643 685.3L1643.5 667.3L1644 661.3L1644.5 663L1645 682.5L1645.5 677.8L1646 682.1L1646.5 671L1647 671.6L1647.5 682.9L1648 683L1648.5 655L1649 681.4L1649.5 668.1L1650 675.2L1650.5 681.8L1651 660.3L1651.5 665L1652 676.4L1652.5 661.4L1653 668.9L1653.5 667.6L1654 673.1L1654.5 663.7L1655 643.1L1655.5 666.7L1656 644.1L1656.5 646.3L1657 656L1657.5 653.6L1658 649.3L1658.5 662.2L1659 668.5L1659.5 651.2L1660 656.6L1660.5 666.7L1661 655.9L1661.5 661.4L1662 673.5L1662.5 649L1663 660.6L1663.5 650L1664 667.2L1664.5 650.6L1665 669L1665.5 655L1666 668.9L1666.5 649.9L1667 654.7 V797"/>
</g>
<g fill="none" stroke="#7F7F7F" stroke-width="7.2" stroke-linejoin="bevel" stroke-linecap="butt" clip-path="url(#plot)">
<path d="M105 916.5L105.5 917.5L106 917.1L106.5 916.4L107 918L107.5 917.7L108 916.3L108.5 918.4L109 917.6L109.5 922.5L110 926.2L110.5 927.2L111 921.4L111.5 919L112 917.3L112.5 918.5L113 916.6L113.5 918.6L114 918.9L114.5 917.9L115 918.1L115.5 918.2L116 918.7L116.5 916.6L117 918.3L117.5 917.1L118 917.2L118.5 918.3L119 916.5L119.5 916.4L120 917.6L120.5 917.6L121 916.4L121.5 919.9L122 921.6L122.5 923.3L123 923.3L123.5 920.7L124 919L124.5 917.4L125 917.2L125.5 918.9L126 918.1L126.5 917.6L127 919.4L127.5 918.2L128 918.6L128.5 917.1L129 917.2L129.5 916.8L130 919.4L130.5 920.2L131 924.3L131.5 921.3L132 920.1L132.5 918.2L133 918.4L133.5 917L134 919.1L134.5 918.1L135 917.2L135.5 918.5L136 917L136.5 918.2L137 918.4L137.5 917.1L138 916.8L138.5 916.7L139 917.7L139.5 917.9L140 918.3L140.5 916.8L141 917.2L141.5 921.4L142 924.9L142.5 925L143 921.8L143.5 918.5L144 918.6L144.5 919L145 917.6L145.5 918.6L146 918.4L146.5 920.5L147 920.9L147.5 923.5L148 923L148.5 921.4L149 920.6L149.5 917.6L150 919.3L150.5 917.9L151 919L151.5 917.6L152 920.2L152.5 921.1L153 922.1L153.5 919.8L154 917.7L154.5 915.1L155 916.7L155.5 916.5L156 915.9L156.5 913.8L157 915.8L157.5 915.7L158 915.9L158.5 915.5L159 914.6L159.5 914.9L160 915.3L160.5 914.9L161 914.5L161.5 916.8L162 915.5L162.5 915.8L163 914.2L163.5 915.6L164 915.4L164.5 913.7L165 915L165.5 917.5L166 916.8L166.5 915.5L167 914.8L167.5 914.6L168 916.5L168.5 916.6L169 916.1L169.5 915.5L170 916.3L170.5 915.6L171 913.8L171.5 914.5L172 916.2L172.5 916.3L173 915.8L173.5 916.2L174 915.6L174.5 916.6L175 915.8L175.5 918.1L176 918L176.5 917.5L177 919L177.5 918.3L178 918.2L178.5 918.5L179 919.2L179.5 922.4L180 924.4L180.5 925.8L181 924.4L181.5 924.4L182 921.8L182.5 920.6L183 922.7L183.5 926.5L184 927L184.5 929.3L185 930.4L185.5 931.3L186 928.6L186.5 925.6L187 922.2L187.5 919.5L188 918L188.5 918L189 918.3L189.5 920.4L190 921.4L190.5 923L191 921.6L191.5 919.4L192 918.1L192.5 918.3L193 917.5L193.5 918.5L194 917.4L194.5 918.3L195 916.4L195.5 918.1L196 917.4L196.5 918.4L197 917.5L197.5 918.2L198 916.3L198.5 916.3L199 916.2L199.5 917.4L200 918.3L200.5 917.6L201 918.5L201.5 917.9L202 919.4L202.5 921.4L203 921.1L203.5 920.3L204 917.1L204.5 916.6L205 916.7L205.5 916.9L206 918.2L206.5 917.6L207 917.8L207.5 918L208 919.2L208.5 917.4L209 917.5L209.5 917.3L210 917.5L210.5 917.6L211 919.1L211.5 919.5L212 918L212.5 919.1L213 917.2L213.5 918.2L214 919.1L214.5 917.5L215 919.5L215.5 917.8L216 917.7L216.5 919.8L217 922.6L217.5 923.9L218 922.7L218.5 920.3L219 917L219.5 918.5L220 917L220.5 919.2L221 918.6L221.5 918.5L222 918.6L222.5 917.5L223 917.7L223.5 917.5L224 919.4L224.5 918.7L225 918.7L225.5 920L226 918.2L226.5 920L227 920.2L227.5 922.5L228 924.3L228.5 922.1L229 921.5L229.5 919.3L230 919.1L230.5 918.2L231 917.2L231.5 917.2L232 917L232.5 917.8L233 919L233.5 918.6L234 918.9L234.5 918.3L235 919.1L235.5 918.5L236 919.2L236.5 919.3L237 920.4L237.5 919L238 920.7L238.5 920.2L239 923.1L239.5 927.5L240 932.7L240.5 937.1L241 936.5L241.5 932.9L242 929.4L242.5 925L243 922.1L243.5 921.5L244 920.3L244.5 919.6L245 919.7L245.5 919.6L246 920.4L246.5 920.7L247 919.1L247.5 920.6L248 919.3L248.5 919.4L249 918.8L249.5 918.6L250 919.1L250.5 920.7L251 925.4L251.5 929.5L252 926.7L252.5 921.4L253 920.6L253.5 919.4L254 920L254.5 919.1L255 921L255.5 920.1L256 921.2L256.5 921.4L257 921.4L257.5 920.8L258 922.2L258.5 921.5L259 920.8L259.5 920.7L260 921.5L260.5 921.6L261 920.8L261.5 920.9L262 922.6L262.5 922.5L263 922.2L263.5 926.9L264 928.3L264.5 932.6L265 929.7L265.5 925.3L266 924.7L266.5 924.6L267 923.1L267.5 924.5L268 924.2L268.5 923.6L269 923.9L269.5 924.1L270 925.5L270.5 925.8L271 927.3L271.5 926.4L272 927.1L272.5 927.1L273 927.4L273.5 927.9L274 928.3L274.5 928.1L275 928.4L275.5 931.5L276 935L276.5 935.7L277 934.3L277.5 931.3L278 930.6L278.5 930.1L279 931.7L279.5 931.4L280 932.2L280.5 932.7L281 932.3L281.5 932.4L282 934.2L282.5 934.9L283 936.2L283.5 936.1L284 936.2L284.5 937.8L285 941.6L285.5 942.2L286 939.9L286.5 939.6L287 938.1L287.5 939.5L288 940L288.5 940.9L289 940.8L289.5 940.7L290 942.7L290.5 942.6L291 947.7L291.5 950.4L292 950.3L292.5 948.3L293 945.2L293.5 947.4L294 947.5L294.5 949.1L295 949L295.5 949.4L296 949.9L296.5 949.8L297 950.9L297.5 953.3L298 953.8L298.5 955.1L299 955.9L299.5 958L300 962L300.5 960.2L301 960.3L301.5 958.9L302 960.7L302.5 962.5L303 964.2L303.5 963.1L304 965.5L304.5 965.4L305 964.9L305.5 965.2L306 968.1L306.5 968L307 968.7L307.5 968.6L308 968.5L308.5 970.2L309 971.2L309.5 971.5L310 974.3L310.5 975L311 977.5L311.5 982.2L312 983.2L312.5 979.5L313 976.9L313.5 976.4L314 978.9L314.5 979.3L315 979.6L315.5 981.4L316 981.5L316.5 984.2L317 983.3L317.5 984.5L318 986.3L318.5 986.1L319 987.7L319.5 988.2L320 988.6L320.5 988.6L321 990.6L321.5 993.4L322 995.8L322.5 992.8L323 991.5L323.5 992.9L324 993.2L324.5 993.2L325 993.6L325.5 993.8L326 994.1L326.5 994.8L327 996.4L327.5 997.6L328 997.5L328.5 997.1L329 998.1L329.5 997.7L330 998.1L330.5 998.3L331 999.8L331.5 999.9L332 999.3L332.5 1001.5L333 1000L333.5 1001.4L334 1002.2L334.5 1001.3L335 1002.4L335.5 1003.2L336 1003.7L336.5 1003.7L337 1003.7L337.5 1002.5L338 1003L338.5 1005.4L339 1004.3L339.5 1004.7L340 1005.7L340.5 1003.9L341 1005.7L341.5 1005.6L342 1005.4L342.5 1005.4L343 1006.2L343.5 1006.8L344 1005.6L344.5 1005.8L345 1006.3L345.5 1007.3L346 1006.8L346.5 1007.1L347 1008.2L347.5 1007.4L348 1008L348.5 1008.2L349 1008.3L349.5 1008.4L350 1008.9L350.5 1009.3L351 1008L351.5 1008.5L352 1008.7L352.5 1010.1L353 1009.5L353.5 1009.9L354 1010.2L354.5 1011L355 1009.1L355.5 1009.6L356 1011.4L356.5 1011L357 1011.3L357.5 1012.4L358 1010.7L358.5 1010.5L359 1012.3L359.5 1012.4L360 1012.2L360.5 1012.1L361 1013.5L361.5 1012.8L362 1013.8L362.5 1013.7L363 1014.6L363.5 1014L364 1015.1L364.5 1015.4L365 1016.8L365.5 1016.1L366 1017L366.5 1016.7L367 1017.4L367.5 1018.1L368 1020.5L368.5 1019.6L369 1021.5L369.5 1022.1L370 1022.5L370.5 1022.2L371 1021.4L371.5 1023.5L372 1023.3L372.5 1023.9L373 1025.2L373.5 1023.8L374 1025.7L374.5 1026.3L375 1026.6L375.5 1026.5L376 1028.7L376.5 1028.2L377 1028.8L377.5 1029.9L378 1030.2L378.5 1028.8L379 1029L379.5 1029.7L380 1029.1L380.5 1028.5L381 1028.8L381.5 1028.9L382 1028.6L382.5 1027.3L383 1026.8L383.5 1028L384 1027L384.5 1027L385 1027.1L385.5 1026.6L386 1025.8L386.5 1025.6L387 1024.5L387.5 1025.3L388 1024.1L388.5 1024.6L389 1025.8L389.5 1024.6L390 1025.3L390.5 1023.9L391 1024.9L391.5 1023.3L392 1025.1L392.5 1025.1L393 1024.5L393.5 1023L394 1023.6L394.5 1023.2L395 1022.9L395.5 1023.1L396 1022.1L396.5 1023L397 1021.7L397.5 1022.4L398 1022.3L398.5 1022L399 1022.2L399.5 1023.2L400 1021.3L400.5 1021.9L401 1021.4L401.5 1020.6L402 1020.5L402.5 1021.3L403 1021.2L403.5 1020.9L404 1020.6L404.5 1020.3L405 1020.9L405.5 1021.2L406 1019.4L406.5 1019.2L407 1019.4L407.5 1018.4L408 1017.8L408.5 1018.6L409 1017.8L409.5 1016.9L410 1017.4L410.5 1018.3L411 1016.5L411.5 1018L412 1017.2L412.5 1017.4L413 1016.4L413.5 1016.1L414 1015.9L414.5 1014.1L415 1013.6L415.5 1014.6L416 1014.3L416.5 1014.3L417 1013.9L417.5 1014.7L418 1013.5L418.5 1013.1L419 1011.7L419.5 1011.9L420 1011.6L420.5 1012.8L421 1010.8L421.5 1011.4L422 1011.7L422.5 1011.2L423 1011.3L423.5 1010.4L424 1010L424.5 1010.1L425 1010.5L425.5 1010L426 1009.4L426.5 1010.3L427 1009.2L427.5 1009.2L428 1009.8L428.5 1009.6L429 1009.9L429.5 1009.5L430 1008.4L430.5 1009.5L431 1008.5L431.5 1008.2L432 1008.9L432.5 1009.1L433 1008.7L433.5 1007.2L434 1007.3L434.5 1007.8L435 1007.5L435.5 1006.1L436 1006.8L436.5 1007.6L437 1006.8L437.5 1006.1L438 1006.1L438.5 1006.7L439 1006.9L439.5 1006.9L440 1006.2L440.5 1006L441 1005.5L441.5 1006L442 1005.7L442.5 1005.8L443 1006L443.5 1004.5L444 1004.4L444.5 1005.6L445 1005.7L445.5 1006.4L446 1004.7L446.5 1005L447 1004.6L447.5 1003.7L448 1003.2L448.5 1004L449 1003.8L449.5 1003.6L450 1004.1L450.5 1003.2L451 1003.7L451.5 1003.7L452 1003.3L452.5 1003.4L453 1002.5L453.5 1003.1L454 1003.5L454.5 1003.3L455 1001.6L455.5 1001.6L456 1002L456.5 1001.2L457 1000.2L457.5 1000.8L458 1001L458.5 1000.5L459 1000L459.5 1001.2L460 999.9L460.5 999.4L461 998.8L461.5 1000.3L462 999.6L462.5 998.3L463 998.4L463.5 999.6L464 997.6L464.5 998.5L465 998L465.5 997.8L466 998L466.5 997.2L467 997.5L467.5 997.6L468 996.5L468.5 996.2L469 996.1L469.5 995L470 995.2L470.5 996L471 995.6L471.5 994.1L472 994.9L472.5 993.3L473 992.8L473.5 992.6L474 994.1L474.5 993.1L475 991.7L475.5 990.9L476 992.3L476.5 990.9L477 991.6L477.5 991.7L478 992L478.5 991.3L479 989.9L479.5 990.4L480 990.9L480.5 989.1L481 988.2L481.5 987.6L482 989.2L482.5 989.4L483 988.4L483.5 987.7L484 987.5L484.5 986.7L485 987L485.5 987L486 987.2L486.5 986.3L487 988.1L487.5 987.3L488 987L488.5 987.5L489 985.8L489.5 986.7L490 986.1L490.5 986.5L491 987.3L491.5 985.8L492 986.3L492.5 986.6L493 986.9L493.5 987.3L494 987L494.5 986.6L495 985.9L495.5 986.5L496 986.3L496.5 985.6L497 987L497.5 986.6L498 986L498.5 985.3L499 986.1L499.5 985.6L500 986.2L500.5 984.9L501 985.9L501.5 986.1L502 987.1L502.5 986.6L503 987.4L503.5 986.3L504 987L504.5 986.1L505 987.1L505.5 986.7L506 985.3L506.5 986.2L507 985.1L507.5 986.2L508 987.2L508.5 985.6L509 986.8L509.5 986.3L510 987.2L510.5 986.1L511 987.1L511.5 986.5L512 986.6L512.5 986.5L513 985.9L513.5 984.9L514 985L514.5 985L515 984.8L515.5 984.5L516 984.1L516.5 983.5L517 983.6L517.5 984.5L518 983.9L518.5 984.4L519 983.9L519.5 983.5L520 982.9L520.5 984L521 982.6L521.5 983.1L522 981.9L522.5 983.4L523 981.6L523.5 982.2L524 983L524.5 982L525 982.9L525.5 982.2L526 982.9L526.5 981L527 980.8L527.5 981.3L528 981.3L528.5 981L529 980.1L529.5 980.6L530 979.4L530.5 980.3L531 979.3L531.5 980.8L532 980L532.5 979.5L533 979.4L533.5 979.9L534 979.7L534.5 981.1L535 980.7L535.5 979.6L536 979.1L536.5 978.5L537 978.3L537.5 979.3L538 977.8L538.5 979.1L539 978.1L539.5 978.6L540 978.3L540.5 977.2L541 978.4L541.5 978.7L542 977.2L542.5 978.9L543 978.6L543.5 977.9L544 977.7L544.5 976.1L545 976.4L545.5 977.7L546 977.5L546.5 976.1L547 976.6L547.5 976.3L548 976L548.5 977.2L549 977L549.5 975.8L550 977.1L550.5 975.9L551 975.7L551.5 975.7L552 974.4L552.5 975.1L553 975.2L553.5 974.2L554 974.8L554.5 973.2L555 972.9L555.5 973.7L556 972.7L556.5 974L557 974.2L557.5 972.3L558 973.7L558.5 973.1L559 973.8L559.5 973.3L560 973.2L560.5 972.7L561 972.4L561.5 972.1L562 972.4L562.5 970.7L563 972L563.5 971.5L564 970.5L564.5 969.9L565 968.6L565.5 968.6L566 969.6L566.5 969.4L567 970.3L567.5 968.4L568 967.8L568.5 968.2L569 968.5L569.5 967.4L570 967.5L570.5 966.9L571 967.4L571.5 968.9L572 968.6L572.5 967.3L573 967.6L573.5 966.2L574 966.9L574.5 967.3L575 965.7L575.5 966.1L576 966.1L576.5 964.8L577 965.1L577.5 965.6L578 964.6L578.5 964.1L579 963.8L579.5 965.1L580 964.5L580.5 964.7L581 964.9L581.5 964.1L582 964.6L582.5 963.8L583 962.8L583.5 963.2L584 962.8L584.5 962.9L585 963.1L585.5 961.2L586 962.2L586.5 962.2L587 961.7L587.5 961.5L588 961.9L588.5 961.3L589 960.7L589.5 961.1L590 960.9L590.5 959.8L591 960.2L591.5 961.2L592 959.6L592.5 960.3L593 960.2L593.5 959L594 959L594.5 958.9L595 959.1L595.5 958L596 959.5L596.5 959.6L597 960L597.5 958.7L598 959.2L598.5 959.6L599 958.5L599.5 958.5L600 958L600.5 958.4L601 958L601.5 957.8L602 957.9L602.5 957.1L603 956.3L603.5 955.5L604 955.8L604.5 956.5L605 956.2L605.5 954.5L606 955.5L606.5 954.3L607 954.6L607.5 955L608 954.2L608.5 955.1L609 954.5L609.5 953.9L610 954.5L610.5 953.2L611 952.6L611.5 952.7L612 952.1L612.5 953.4L613 953.1L613.5 952.4L614 953L614.5 951.9L615 951.6L615.5 951L616 951L616.5 951.3L617 950.8L617.5 950.7L618 949.6L618.5 949.3L619 950.4L619.5 949.8L620 950.3L620.5 950.1L621 948.9L621.5 949.4L622 950.3L622.5 949.3L623 950.8L623.5 949.7L624 949.2L624.5 949.2L625 949.1L625.5 949.1L626 949L626.5 947.3L627 947.5L627.5 947.6L628 946.8L628.5 947.3L629 947.1L629.5 947.3L630 946.9L630.5 946.6L631 947.3L631.5 946.1L632 946L632.5 947.3L633 946.2L633.5 945.9L634 945.9L634.5 946.4L635 945.4L635.5 946.3L636 946.3L636.5 946L637 947.3L637.5 946.7L638 945.2L638.5 945.2L639 944.7L639.5 945.7L640 944.5L640.5 944.9L641 944.2L641.5 945.8L642 945.6L642.5 945.4L643 945.4L643.5 944.3L644 943.7L644.5 943.1L645 943.6L645.5 944.8L646 943.1L646.5 943.6L647 944.3L647.5 943.3L648 943.6L648.5 944.4L649 943.2L649.5 943.2L650 942.9L650.5 942.5L651 943.5L651.5 943.9L652 943.3L652.5 942.8L653 942.9L653.5 943.6L654 943.5L654.5 943.5L655 942L655.5 942L656 942.1L656.5 942L657 942.6L657.5 941.1L658 941.5L658.5 941L659 942.2L659.5 941.8L660 941.7L660.5 940.5L661 940.6L661.5 941.3L662 939.9L662.5 941.7L663 941.9L663.5 941.1L664 941.6L664.5 941.4L665 940L665.5 941.4L666 941.1L666.5 939.7L667 941.1L667.5 940.2L668 939.9L668.5 940.2L669 940.2L669.5 939.1L670 939L670.5 940.6L671 939.5L671.5 939.7L672 939.6L672.5 940.6L673 940.2L673.5 940.3L674 940.2L674.5 938.5L675 939.4L675.5 939.4L676 938.3L676.5 938.3L677 938.1L677.5 938.9L678 939.7L678.5 938.6L679 939.9L679.5 938.4L680 939.2L680.5 939.2L681 940.9L681.5 939.1L682 940.3L682.5 939.4L683 938.8L683.5 938.9L684 938.2L684.5 939L685 938.9L685.5 938.6L686 939.3L686.5 939.3L687 939.2L687.5 939.7L688 939.5L688.5 939.4L689 940.7L689.5 941.2L690 941.1L690.5 942.7L691 942.6L691.5 943.2L692 942.4L692.5 942.6L693 942.3L693.5 943.8L694 943.2L694.5 942L695 940.9L695.5 940.7L696 940.7L696.5 940.2L697 937.9L697.5 938.9L698 936.7L698.5 935.6L699 935L699.5 934.3L700 934.2L700.5 934.9L701 933.9L701.5 933.9L702 931.9L702.5 932.6L703 930.7L703.5 930.7L704 931.8L704.5 931.3L705 931.3L705.5 930.6L706 929.5L706.5 929.6L707 928.9L707.5 929.2L708 928.7L708.5 928.8L709 928.5L709.5 928.3L710 926.9L710.5 926.8L711 927.7L711.5 928.5L712 927.6L712.5 927.3L713 927.8L713.5 927.5L714 926.4L714.5 926.9L715 927.4L715.5 927.2L716 925.9L716.5 927.9L717 927.1L717.5 926.8L718 927.2L718.5 928.4L719 928.5L719.5 927.5L720 928.1L720.5 926.8L721 928.2L721.5 927.1L722 928.7L722.5 928.2L723 928.1L723.5 928.1L724 929.8L724.5 928.4L725 928.7L725.5 928.2L726 928.9L726.5 929.9L727 929.1L727.5 930.2L728 929.5L728.5 929.1L729 930.5L729.5 929.3L730 929.6L730.5 929.9L731 929.3L731.5 928.5L732 929.1L732.5 929.3L733 928.1L733.5 929.5L734 928.2L734.5 927.9L735 928.9L735.5 928.2L736 926.9L736.5 927L737 926.2L737.5 927.3L738 926.6L738.5 926.7L739 925.9L739.5 927.4L740 925.5L740.5 925.8L741 925.8L741.5 925L742 924.3L742.5 924.7L743 924.5L743.5 923L744 923L744.5 922.5L745 921.9L745.5 922.7L746 923.2L746.5 921.5L747 922.6L747.5 921.5L748 922.6L748.5 920.9L749 921.3L749.5 922.1L750 922L750.5 921.6L751 921.2L751.5 920.3L752 921.3L752.5 920.3L753 920.5L753.5 919.7L754 920.9L754.5 920.3L755 920.3L755.5 918.6L756 918.6L756.5 917.8L757 918.2L757.5 918.6L758 918L758.5 917.5L759 918.3L759.5 919.1L760 918.4"/>
<path d="M789 888.5L789.5 888.2L790 886.4L790.5 885.6L791 885.1L791.5 886.9L792 886.2L792.5 887.1L793 886.5L793.5 885.3L794 886.1L794.5 885.9L795 885L795.5 885L796 886.5L796.5 886.3L797 885.7L797.5 885.1L798 885.7L798.5 886.3L799 887.1L799.5 886.2L800 887.2L800.5 886.1L801 886.7L801.5 887.1L802 886.3L802.5 886.5L803 885.2L803.5 885.5L804 887.2L804.5 885.5L805 885.7L805.5 886.1L806 887.4L806.5 887.7L807 887.1L807.5 885.9L808 885.4L808.5 886L809 885L809.5 886L810 887.4L810.5 887.3L811 888.3L811.5 886.2L812 886.1L812.5 886.6L813 884.8L813.5 885L814 887.3L814.5 885.7L815 887.8L815.5 886.7L816 888.3L816.5 887.9L817 886.2L817.5 885.2L818 886.6L818.5 885.4L819 885.1L819.5 886.3L820 885.6L820.5 885.4L821 887.2L821.5 886.9L822 886.8L822.5 885.2L823 886.7L823.5 885.3L824 884.6L824.5 883.9L825 885.6L825.5 885.3L826 886L826.5 883.7L827 883.8L827.5 886.6L828 885.2L828.5 885.4L829 884.7L829.5 885.4L830 884.1L830.5 883.3L831 885.3L831.5 883.2L832 884L832.5 883.7L833 885.4L833.5 885.6L834 886.2L834.5 885.3L835 886.5L835.5 886.7L836 886.8L836.5 884.9L837 885.8L837.5 886.1L838 885L838.5 886.2L839 885.5L839.5 885.9L840 885.6L840.5 884.8L841 884L841.5 884.5L842 885.2L842.5 886.4L843 884.3L843.5 886.1L844 884.7L844.5 885.8L845 886.5L845.5 885.3L846 884.7L846.5 885.1L847 886.4L847.5 886L848 886L848.5 885L849 886.7L849.5 886.5L850 885L850.5 884.1L851 884.9L851.5 885.3L852 884.3L852.5 884.4L853 884.8L853.5 885.5L854 883.2L854.5 885L855 883.4L855.5 883.9L856 885L856.5 883.5L857 884.6L857.5 885L858 884.8L858.5 885.4L859 885L859.5 884.7L860 886L860.5 884.2L861 883.7L861.5 884.5L862 884.7L862.5 883.9L863 885.5L863.5 883.7L864 883.2L864.5 884.1L865 883.1L865.5 884.4L866 883.6L866.5 884L867 885.1L867.5 884.7L868 882.5L868.5 883.6L869 883.3L869.5 882.7L870 882.7L870.5 883.2L871 883.6L871.5 883.4L872 883.8L872.5 883.1L873 882.5L873.5 883.8L874 882.1L874.5 881.7L875 882.3L875.5 882.3L876 883.5L876.5 883.5L877 885.1L877.5 884.7L878 884.4L878.5 884L879 882.2L879.5 882.5L880 884.7L880.5 884.9L881 882.9L881.5 883.6L882 882.8L882.5 883.3L883 882.8L883.5 883.1L884 883.8L884.5 884.5L885 885.2L885.5 883.9L886 883.5L886.5 884.7L887 882.4L887.5 884.5L888 882.5L888.5 883.1L889 884.8L889.5 883L890 882.4L890.5 882.7L891 885.2L891.5 883.4L892 882.9L892.5 884.1L893 883.9L893.5 882.3L894 882.1L894.5 884.3L895 882.9L895.5 883.1L896 882L896.5 882.5L897 883.7L897.5 884L898 882.2L898.5 883.8L899 882.5L899.5 883.4L900 884L900.5 882.5L901 883.5L901.5 882.5L902 882.7L902.5 883.7L903 882.9L903.5 882.7L904 883.1L904.5 884.5L905 883.3L905.5 883.6L906 882.4L906.5 883.4L907 881.7L907.5 882.2L908 882.7L908.5 884.5L909 882.9L909.5 883.4L910 884.8L910.5 882.6L911 881.9L911.5 882.1L912 882.6L912.5 884.1L913 882.1L913.5 883.8L914 882.3L914.5 884.9L915 883.2L915.5 883.9L916 882.7L916.5 883.4L917 884.4L917.5 882.3L918 882.5L918.5 882.6L919 883.9L919.5 884.4L920 884.3L920.5 883.1L921 883.6L921.5 884.7L922 883.8L922.5 883.4L923 884.9L923.5 882.8L924 884.3L924.5 883L925 885.3L925.5 883.7L926 885.7L926.5 885.3L927 886L927.5 885.1L928 883.4L928.5 884L929 885.7L929.5 883.3L930 884.4L930.5 884.3L931 884L931.5 884.5L932 887L932.5 889L933 888.8L933.5 886.1L934 886L934.5 886.3L935 884.4L935.5 883.8L936 884.6L936.5 883.8L937 884.6L937.5 884.1L938 885L938.5 885.5L939 885.9L939.5 886L940 886.9L940.5 887.9L941 886.5L941.5 885.6L942 885.5L942.5 886.4L943 889.4L943.5 894.1L944 896.4L944.5 894.7L945 889.4L945.5 887.3L946 888.4L946.5 887.2L947 887.9L947.5 887.9L948 888.1L948.5 887.3L949 888.8L949.5 888.1L950 889.4L950.5 888.7L951 892.4L951.5 892.8L952 894.6L952.5 897.3L953 894L953.5 892.8L954 892.8L954.5 892.2L955 892.3L955.5 893.1L956 892.1L956.5 891.9L957 893.6L957.5 893.2L958 895.9L958.5 896.4L959 898.6L959.5 895.3L960 894.3L960.5 895.5L961 897.6L961.5 896.8L962 897.7L962.5 897.5L963 897.9L963.5 898.6L964 899.3L964.5 899.3L965 901.8L965.5 901L966 902.9L966.5 902.2L967 901.2L967.5 902L968 902.4L968.5 904.6L969 904L969.5 905.8L970 907.3L970.5 909.4L971 912.1L971.5 910.1L972 908.5L972.5 908.8L973 910L973.5 910.8L974 912.9L974.5 913.9L975 914.3L975.5 915.6L976 916.6L976.5 917.1L977 916.9L977.5 918.8L978 917.8L978.5 920.1L979 920.3L979.5 922.8L980 923.1L980.5 922.5L981 923.6L981.5 925.8L982 927L982.5 928L983 927.7L983.5 929.4L984 926.8L984.5 926.9L985 928.6L985.5 927.1L986 928L986.5 929.3L987 929.3L987.5 929.5L988 932L988.5 930.7L989 933.4L989.5 931.9L990 933.5L990.5 935.1L991 934.5L991.5 935.9L992 936.4L992.5 937.4L993 940.6L993.5 941.7L994 943.9L994.5 940.4L995 939.6L995.5 938.1L996 938.5L996.5 937.5L997 938.1L997.5 935.9L998 935.9L998.5 936.3L999 936.1L999.5 934.8L1000 935.3L1000.5 933.4L1001 934.5L1001.5 934.1L1002 931.1L1002.5 932.3L1003 932.4L1003.5 929.5L1004 931.8L1004.5 933.2L1005 934.9L1005.5 931.9L1006 929L1006.5 923.2L1007 921.4L1007.5 920.5L1008 921L1008.5 918.2L1009 916.3L1009.5 916.2L1010 916.2L1010.5 914.9L1011 914.3L1011.5 913.2L1012 910.4L1012.5 909.1L1013 909.2L1013.5 907L1014 906.6L1014.5 906.7L1015 905.4L1015.5 905.5L1016 902L1016.5 902.7L1017 901.5L1017.5 903.3L1018 906.8L1018.5 904.9L1019 900.7L1019.5 897L1020 895.8L1020.5 896.6L1021 896.5L1021.5 894.8L1022 893.4L1022.5 894.6L1023 893.9L1023.5 893.6L1024 892.8L1024.5 895.4L1025 899.2L1025.5 895.4L1026 891.8L1026.5 890.8L1027 892.3L1027.5 891.7L1028 891L1028.5 892.1L1029 890.5L1029.5 892.3L1030 890L1030.5 891.5L1031 889.6L1031.5 889.3L1032 890.5L1032.5 889.9L1033 889L1033.5 890.8L1034 889.3L1034.5 888.7L1035 887.5L1035.5 888.8L1036 888.3L1036.5 886.9L1037 888.6L1037.5 887.3L1038 887L1038.5 887.3L1039 886.7L1039.5 885.8L1040 884.9L1040.5 885.4L1041 884.4L1041.5 886L1042 885.3L1042.5 885L1043 885L1043.5 884L1044 884.4L1044.5 883.2L1045 883.1L1045.5 883.7L1046 884L1046.5 883.1L1047 884.2L1047.5 882.8L1048 884L1048.5 881.6L1049 882.6L1049.5 882.1L1050 882.5L1050.5 881.5L1051 883.5L1051.5 885.1L1052 886.4L1052.5 884.7L1053 883.2L1053.5 883.3L1054 881.5L1054.5 882L1055 882.6L1055.5 881.5L1056 881.7L1056.5 882.4L1057 881L1057.5 883.5L1058 881.9L1058.5 883.2L1059 883.8L1059.5 887.5L1060 885.2L1060.5 883L1061 881.6L1061.5 881.7L1062 882.7L1062.5 880.6L1063 880.9L1063.5 881.8L1064 880.8L1064.5 881.4L1065 881.4L1065.5 883L1066 882.5L1066.5 883.1L1067 881.1L1067.5 882.3L1068 883.5L1068.5 882.2L1069 884.2L1069.5 884.7L1070 886.3L1070.5 889.5L1071 890.5L1071.5 887.5L1072 887.2L1072.5 885.5L1073 887.1L1073.5 886.3L1074 887L1074.5 884.7L1075 887.1L1075.5 887.5L1076 887.5L1076.5 886.8L1077 887.4L1077.5 889.8L1078 888.7L1078.5 890.1L1079 890.9L1079.5 889.1L1080 889L1080.5 889.4L1081 891L1081.5 894.3L1082 896.7L1082.5 898.5L1083 897.3L1083.5 896.4L1084 894.4L1084.5 893L1085 892.8L1085.5 892.6L1086 894L1086.5 893.7L1087 893.8L1087.5 893.3L1088 894.4L1088.5 892.6L1089 891.8L1089.5 892.4L1090 892.6L1090.5 893.1L1091 893.1L1091.5 892.4L1092 893.2L1092.5 891.9L1093 894L1093.5 894L1094 892.6L1094.5 892.9L1095 891.1L1095.5 891.3L1096 893L1096.5 893.4L1097 896.1L1097.5 895.5L1098 893.9L1098.5 892.4L1099 892L1099.5 890.7L1100 893L1100.5 892.5L1101 890.9L1101.5 893.7L1102 892.9L1102.5 895.2L1103 893.8L1103.5 893.7L1104 896.3L1104.5 896.7L1105 895.9L1105.5 897.5L1106 895.8L1106.5 896.6L1107 899.5L1107.5 899.5L1108 898.9L1108.5 898L1109 899L1109.5 897.3L1110 898.6L1110.5 900.3L1111 901.2L1111.5 903.5L1112 907.2L1112.5 905.6L1113 902L1113.5 901L1114 901.1L1114.5 899.4L1115 899.8L1115.5 900.9L1116 899.8L1116.5 900.5L1117 899.3L1117.5 901.8L1118 904.7L1118.5 907.3L1119 906.2L1119.5 902L1120 899.9L1120.5 900.4L1121 899.5L1121.5 898.2L1122 895.9L1122.5 895.6L1123 895.4L1123.5 896.6L1124 897.8L1124.5 898.8L1125 894.9L1125.5 893.6L1126 889.4L1126.5 887.9L1127 889L1127.5 885.9L1128 886.3L1128.5 886.5L1129 885.6L1129.5 885.8L1130 884.8L1130.5 884.4L1131 884L1131.5 883.9L1132 883.4L1132.5 882.9L1133 882.6L1133.5 882.3L1134 882.3L1134.5 882L1135 882.1L1135.5 881.4L1136 881.3L1136.5 881L1137 881.4L1137.5 881.1L1138 881.5L1138.5 881.2L1139 881.6L1139.5 881.2L1140 881.2L1140.5 880.5L1141 881.1L1141.5 880.5L1142 880.9L1142.5 880.8L1143 880.5L1143.5 880.4L1144 880.5L1144.5 880.6L1145 881.3L1145.5 881.3L1146 880.9L1146.5 880.7L1147 880.6L1147.5 881.1L1148 881.2L1148.5 881.3L1149 880.8L1149.5 881.2L1150 880.8L1150.5 880.8L1151 881.2L1151.5 880.8L1152 880.7L1152.5 880.5L1153 881.2L1153.5 881.6L1154 881.5L1154.5 881L1155 881.2L1155.5 881.2L1156 882L1156.5 881.4L1157 881.2L1157.5 882L1158 881.6L1158.5 881.6L1159 882.1L1159.5 882.1L1160 883L1160.5 883.4L1161 883.7L1161.5 884.2L1162 884.7L1162.5 884.4L1163 884.7L1163.5 885.5L1164 885.7L1164.5 885.8L1165 886.8L1165.5 886.2L1166 886.7L1166.5 886.8L1167 887.6L1167.5 887.8L1168 888.4L1168.5 888.1L1169 888.9L1169.5 889.1L1170 888.9L1170.5 889.4L1171 890.4L1171.5 890.5L1172 890.7L1172.5 891.2L1173 891.9L1173.5 892.9L1174 893.1L1174.5 893.8L1175 895L1175.5 895L1176 895.9L1176.5 896.7L1177 897.3L1177.5 897.8L1178 898.1L1178.5 898.9L1179 899.1L1179.5 900.1L1180 900.7L1180.5 900.7L1181 901.2L1181.5 902.4L1182 902.9L1182.5 903.6L1183 904.2L1183.5 904.7L1184 905.1L1184.5 906.2L1185 906.7L1185.5 907.4L1186 907.4L1186.5 908.8L1187 908.7L1187.5 910.2L1188 910.7L1188.5 910.8L1189 911.6L1189.5 911.9L1190 912.3L1190.5 913.5L1191 913.8L1191.5 914.5L1192 915L1192.5 916.1L1193 916.9L1193.5 917.9L1194 918L1194.5 919.2L1195 919.6L1195.5 919.8L1196 920.9L1196.5 922.3L1197 922.8L1197.5 923.5L1198 924.2L1198.5 925.2L1199 925.5L1199.5 925.8L1200 926.4L1200.5 927.7L1201 928L1201.5 929.4L1202 930.1L1202.5 930.4L1203 931.2L1203.5 931.7L1204 933.4L1204.5 934.2L1205 935.6L1205.5 936.4L1206 938L1206.5 938.8L1207 941.4L1207.5 943.1L1208 944.9L1208.5 947.2L1209 949.4L1209.5 952.3L1210 955.3L1210.5 957.5L1211 959.8L1211.5 962.3L1212 964.6L1212.5 966.8L1213 969.1L1213.5 971.2L1214 973L1214.5 974.2L1215 976.9L1215.5 978.4L1216 980.5L1216.5 982.6L1217 984.9L1217.5 985.8L1218 988.4L1218.5 990L1219 991.6L1219.5 993.2L1220 995L1220.5 996.8L1221 998.2L1221.5 1000.2L1222 1001.4L1222.5 1002.7L1223 1004.5L1223.5 1004.9L1224 1007L1224.5 1007.9L1225 1008.7L1225.5 1010.5L1226 1011.3L1226.5 1012.9L1227 1014.2L1227.5 1015.8L1228 1016.6L1228.5 1017.4L1229 1018.7L1229.5 1019.8L1230 1020.3L1230.5 1021.6L1231 1022.5L1231.5 1023.5L1232 1024.7L1232.5 1025.3L1233 1026.3L1233.5 1027.1L1234 1028.3L1234.5 1029L1235 1029.5L1235.5 1031.2L1236 1031.8L1236.5 1032.5L1237 1033.2L1237.5 1034L1238 1034.3L1238.5 1035.7L1239 1036.1L1239.5 1036.6L1240 1037.4L1240.5 1038.6L1241 1038.7L1241.5 1039.9L1242 1040.7L1242.5 1041.3L1243 1041.5L1243.5 1042.1L1244 1042.7L1244.5 1042.7L1245 1043.8L1245.5 1044.4L1246 1044.2L1246.5 1044.8L1247 1045.6L1247.5 1046.2L1248 1045.9L1248.5 1046.7L1249 1046.2L1249.5 1047L1250 1047.2L1250.5 1048.2L1251 1048L1251.5 1048.2L1252 1048.8L1252.5 1049.5L1253 1049.8L1253.5 1049.6L1254 1050.2L1254.5 1049.8L1255 1050.3L1255.5 1051L1256 1050.6L1256.5 1051.1L1257 1051.6L1257.5 1051.7L1258 1052.3L1258.5 1052.5L1259 1052.9L1259.5 1052.8L1260 1054L1260.5 1053.9L1261 1053.9L1261.5 1054.8L1262 1054.7L1262.5 1055.2L1263 1056.1L1263.5 1055.7L1264 1056.9L1264.5 1056.5L1265 1057.2L1265.5 1057L1266 1058.2L1266.5 1058.6L1267 1058.8L1267.5 1058.9L1268 1059.4L1268.5 1060.1L1269 1060.2L1269.5 1060.9L1270 1061.7L1270.5 1061.3L1271 1061.9L1271.5 1063.1L1272 1063.6L1272.5 1063.3L1273 1063.9L1273.5 1065.1L1274 1066.1L1274.5 1067.1L1275 1067.2L1275.5 1068.4L1276 1069.4L1276.5 1070.6L1277 1071.2L1277.5 1071.9L1278 1073L1278.5 1074.4L1279 1075L1279.5 1076.3L1280 1077.4L1280.5 1078.2L1281 1079.1L1281.5 1079.4L1282 1080.9L1282.5 1081.1L1283 1082.3L1283.5 1082.8L1284 1083.8L1284.5 1085L1285 1085.8L1285.5 1086.8L1286 1087.5L1286.5 1088.3L1287 1089.4L1287.5 1089.3L1288 1089.9L1288.5 1091.4L1289 1091.8L1289.5 1092.1L1290 1092.4L1290.5 1093.7L1291 1093.3L1291.5 1093.9L1292 1095.1L1292.5 1095.4L1293 1096L1293.5 1096.6L1294 1097.1L1294.5 1097L1295 1097.2L1295.5 1097.9L1296 1098L1296.5 1098.3L1297 1098.8L1297.5 1099.6L1298 1099.7L1298.5 1100L1299 1100.3L1299.5 1101.2L1300 1101.2L1300.5 1101L1301 1101.8L1301.5 1101.2L1302 1101.3L1302.5 1101.5L1303 1101.9L1303.5 1101.6L1304 1101.8L1304.5 1101.9L1305 1101.9L1305.5 1101.6L1306 1101.1L1306.5 1101L1307 1100.2L1307.5 1099.9L1308 1099.9L1308.5 1099.5L1309 1099.5L1309.5 1098.6L1310 1099.1L1310.5 1098.2L1311 1097.4L1311.5 1097.7L1312 1097.4L1312.5 1097.3L1313 1097.2L1313.5 1096.2L1314 1095.3L1314.5 1095L1315 1094.7L1315.5 1094.1L1316 1093.9L1316.5 1093.6L1317 1093L1317.5 1091.8L1318 1091L1318.5 1090.2L1319 1089.9L1319.5 1088.7L1320 1087.9L1320.5 1086.8L1321 1086.1L1321.5 1085.4L1322 1084L1322.5 1082.6L1323 1082L1323.5 1080.1L1324 1079.1L1324.5 1077.5L1325 1075.7L1325.5 1074.8L1326 1073.8L1326.5 1072.6L1327 1071.7L1327.5 1070.1L1328 1068.4L1328.5 1066.7L1329 1064.7L1329.5 1063.2L1330 1062.1L1330.5 1059.9L1331 1058L1331.5 1056.9L1332 1054.5L1332.5 1053.4L1333 1051.3L1333.5 1049.4L1334 1047.5L1334.5 1045.7L1335 1044L1335.5 1042.5L1336 1041.2L1336.5 1039.7L1337 1037.9L1337.5 1037L1338 1036.2L1338.5 1034.9L1339 1033.1L1339.5 1031.9L1340 1030.9L1340.5 1029.5L1341 1027.5L1341.5 1026.6L1342 1025.7L1342.5 1024.7L1343 1023.3L1343.5 1022.1L1344 1021.1L1344.5 1019.8L1345 1017.8L1345.5 1017.3L1346 1015.7L1346.5 1014.5L1347 1014.4L1347.5 1013.6L1348 1011.8L1348.5 1011.6L1349 1010.1L1349.5 1010L1350 1008.7L1350.5 1007.8L1351 1007.3L1351.5 1005.8L1352 1005.3L1352.5 1004L1353 1003.3L1353.5 1002.7L1354 1002.1L1354.5 1000.7L1355 999.3L1355.5 998.8L1356 998.2L1356.5 997L1357 996.4L1357.5 995.6L1358 995.3L1358.5 993.9L1359 992.7L1359.5 992.2L1360 991.4L1360.5 990.6L1361 989.9L1361.5 988.9L1362 987.6L1362.5 987.3L1363 986.5L1363.5 985.6L1364 984.4L1364.5 983.7L1365 983.3L1365.5 982.7L1366 981.3L1366.5 981.3L1367 980.2L1367.5 979.5L1368 978.8L1368.5 977.1L1369 976.8L1369.5 975.9L1370 975L1370.5 974.2L1371 973.8L1371.5 973.2L1372 972.4L1372.5 971.9L1373 971.6L1373.5 970.9L1374 970.3L1374.5 969.6L1375 967.9L1375.5 968.1L1376 967.4L1376.5 966.8L1377 965.8L1377.5 965.5L1378 965L1378.5 963.6L1379 963L1379.5 962.5L1380 962L1380.5 960.7L1381 959.8L1381.5 959.5L1382 958.6L1382.5 958.1L1383 957.2L1383.5 956.3L1384 955.5L1384.5 954.9L1385 953.5L1385.5 952.9L1386 951.8L1386.5 951.5L1387 950.3L1387.5 949.8L1388 948.3L1388.5 947.9L1389 946.3L1389.5 946L1390 945L1390.5 943.4L1391 942.5L1391.5 940.9L1392 940.3L1392.5 939.2L1393 937.8L1393.5 936.8L1394 935.9L1394.5 935.2L1395 933.7L1395.5 933.2L1396 931.9L1396.5 930.5L1397 929.7L1397.5 928L1398 926.6L1398.5 925.4L1399 923.9L1399.5 922.8L1400 921.1L1400.5 920.3L1401 918.8L1401.5 917.6L1402 916.1L1402.5 915L1403 913.6L1403.5 911.7L1404 910.8L1404.5 910L1405 908.9L1405.5 907.6L1406 906.7L1406.5 905.8L1407 903.8L1407.5 903.4L1408 902L1408.5 901.1L1409 900.8L1409.5 899L1410 898.2L1410.5 897.5L1411 896.9L1411.5 896L1412 895.2L1412.5 894.3L1413 893.3L1413.5 892.2L1414 891.3L1414.5 891.2L1415 890.5L1415.5 889.9L1416 889.4L1416.5 889L1417 888L1417.5 887L1418 886.1L1418.5 885.6L1419 885.4L1419.5 884.6L1420 884L1420.5 883.5L1421 883.1L1421.5 883.1L1422 882.7L1422.5 882.5L1423 881.9L1423.5 880.8L1424 880.6L1424.5 881.2L1425 880.4L1425.5 880.3L1426 880.4L1426.5 880L1427 879.3L1427.5 879.9L1428 880.3L1428.5 880.7L1429 880.8L1429.5 882.2L1430 882.3L1430.5 883.1L1431 883.8L1431.5 884.1L1432 884.7L1432.5 886.2L1433 887.3L1433.5 888L1434 888.7L1434.5 888.8L1435 890.2L1435.5 890.3L1436 891.2L1436.5 892.5L1437 892.6L1437.5 894.2L1438 895.1L1438.5 896.1L1439 896.9L1439.5 897.6L1440 898L1440.5 898.8L1441 899.7L1441.5 900.8L1442 901.6L1442.5 902.9L1443 903.4L1443.5 903.1L1444 903.8L1444.5 904.4L1445 904.3L1445.5 904.8L1446 905.4L1446.5 905.4L1447 904.7L1447.5 905.2L1448 904.9L1448.5 904.6L1449 905L1449.5 905.5L1450 904.8L1450.5 904.7L1451 905.4L1451.5 904.8L1452 905.3L1452.5 904.7L1453 904.6L1453.5 905.4L1454 904.8L1454.5 905.4L1455 905.1L1455.5 905.2L1456 904.6L1456.5 904.8L1457 904.7L1457.5 904.3L1458 904.1L1458.5 903.6L1459 902.7L1459.5 902.4L1460 901.6L1460.5 901.2L1461 899.8L1461.5 899.3L1462 898.4L1462.5 897.7L1463 897.7L1463.5 897.4L1464 896.5L1464.5 896.3L1465 895.8L1465.5 895.3L1466 894.8L1466.5 894.5L1467 895.1L1467.5 895.1L1468 895L1468.5 894.5L1469 894.9L1469.5 894.6L1470 894.8L1470.5 894.5L1471 893.9L1471.5 894L1472 893.9L1472.5 893.7L1473 893.6L1473.5 893.3L1474 893.9L1474.5 894.4L1475 894.2L1475.5 893.8L1476 894.6L1476.5 894.4L1477 894.3L1477.5 893.4L1478 893.9L1478.5 893.1L1479 893.8L1479.5 892.8L1480 892.4L1480.5 894.5L1481 894.5L1481.5 894L1482 893.4L1482.5 893.9L1483 894.3L1483.5 893.8L1484 893.8L1484.5 893.3L1485 894.8L1485.5 893.7L1486 894.4L1486.5 894.1L1487 896.3L1487.5 894.3L1488 892.5L1488.5 892.7L1489 895.7L1489.5 897L1490 894.3L1490.5 895.8L1491 895.5L1491.5 895.1L1492 895.8L1492.5 895.8L1493 895.8L1493.5 893.4L1494 895L1494.5 893.1L1495 893.1L1495.5 893.4L1496 893.6L1496.5 892.6L1497 890.1L1497.5 891.9L1498 890.6L1498.5 890.6L1499 893L1499.5 891.8L1500 889.8L1500.5 892.3L1501 893.4L1501.5 893.5L1502 890.5L1502.5 892.3L1503 891.2L1503.5 891.3L1504 890.3L1504.5 890.1L1505 893.6L1505.5 891.7L1506 890.7L1506.5 892.2L1507 892.4L1507.5 891.7L1508 894.5L1508.5 894.6L1509 895.6L1509.5 895.9L1510 896L1510.5 896.4L1511 895.4L1511.5 896.8L1512 897.2L1512.5 894.5L1513 895.8L1513.5 896.8L1514 897.1L1514.5 896.1L1515 897.7L1515.5 899.5L1516 898.6L1516.5 899.5L1517 900L1517.5 900.1L1518 898L1518.5 899.9L1519 901.8L1519.5 900.7L1520 902.8L1520.5 902.6L1521 900.6L1521.5 903.5L1522 901.4L1522.5 903.5L1523 905.9L1523.5 903L1524 905L1524.5 905.4L1525 906L1525.5 906.8L1526 907.2L1526.5 908.2L1527 904.3L1527.5 904.9L1528 907.2L1528.5 906.7L1529 907.2L1529.5 907.8L1530 907.9L1530.5 905.7L1531 905.1L1531.5 906L1532 903.3L1532.5 905L1533 904.7L1533.5 904.2L1534 905.8L1534.5 902.7L1535 902.4L1535.5 905.4L1536 904.4L1536.5 901.1L1537 903.7L1537.5 903.2L1538 901.1L1538.5 902L1539 902.7L1539.5 903.4L1540 902.6L1540.5 902.7L1541 903.9L1541.5 905.9L1542 907.6L1542.5 908.5L1543 910.5L1543.5 909.9L1544 912.7L1544.5 912.4L1545 911.9L1545.5 914L1546 923L1546.5 923.7L1547 911.2L1547.5 911L1548 920.8L1548.5 914.3L1549 931.8L1549.5 926.4L1550 940L1550.5 929.2L1551 934.2L1551.5 924.9L1552 927.4L1552.5 927.8L1553 943.3L1553.5 944.7L1554 937.9L1554.5 940.6L1555 946.1L1555.5 942.1L1556 952.1L1556.5 938.2L1557 951.8L1557.5 935.1L1558 947.6L1558.5 949.3L1559 952.6L1559.5 941.9L1560 945.9L1560.5 960.4L1561 949L1561.5 953.3L1562 958.1L1562.5 965.7L1563 952.1L1563.5 952.6L1564 956.4L1564.5 979.1L1565 968.3L1565.5 981.4L1566 971L1566.5 983.9L1567 992.1L1567.5 999.9L1568 999.4L1568.5 995.8L1569 990.2L1569.5 997L1570 999L1570.5 995.5L1571 992.5L1571.5 1018.2L1572 1000.3L1572.5 1008L1573 1012.9L1573.5 1005.6L1574 1030.6L1574.5 1016.9L1575 1045.2L1575.5 1025.6L1576 1031.7L1576.5 1053.4L1577 1058.1L1577.5 1059.2L1578 1077.1L1578.5 1074.9L1579 1080.5L1579.5 1082.2L1580 1091.6L1580.5 1099.9L1581 1110.5L1581.5 1109.3L1582 1090.9L1582.5 1101L1583 1106.9L1583.5 1099.4L1584 1098.1L1584.5 1093L1585 1089.3L1585.5 1114.6L1586 1093.6L1586.5 1079L1587 1086L1587.5 1108.6L1588 1079.2L1588.5 1112.3L1589 1085.2L1589.5 1078.1L1590 1106.7L1590.5 1086.7L1591 1112.9L1591.5 1092.8L1592 1095L1592.5 1114.3L1593 1090.3L1593.5 1107.1L1594 1106.6L1594.5 1091.3L1595 1083L1595.5 1104.9L1596 1084L1596.5 1090.8L1597 1085.3L1597.5 1108.6L1598 1089L1598.5 1097.8L1599 1101.9L1599.5 1088.7L1600 1098.3L1600.5 1102.9L1601 1110.1L1601.5 1090.8L1602 1086.4L1602.5 1087.2L1603 1094.6L1603.5 1087.7L1604 1090.6L1604.5 1098L1605 1101.3L1605.5 1100.7L1606 1098.5L1606.5 1082L1607 1099.7L1607.5 1086.9L1608 1108.9L1608.5 1111.7L1609 1092.8L1609.5 1113.7L1610 1103.1L1610.5 1105.7L1611 1104.8L1611.5 1102.7L1612 1085.6L1612.5 1099.9L1613 1106.9L1613.5 1098.1L1614 1082.4L1614.5 1103.3L1615 1104.8L1615.5 1093.8L1616 1107.1L1616.5 1088.9L1617 1085.7L1617.5 1096.8L1618 1106.5L1618.5 1102.6L1619 1089.8L1619.5 1096.3L1620 1105.6L1620.5 1106.4L1621 1115.2L1621.5 1089.9L1622 1108.4L1622.5 1105.5L1623 1092.6L1623.5 1112.6L1624 1096.1L1624.5 1099L1625 1111.5L1625.5 1097.3L1626 1101.7L1626.5 1098.6L1627 1106.4L1627.5 1101.4L1628 1083.1L1628.5 1078.8L1629 1104.5L1629.5 1099.7L1630 1079.6L1630.5 1103.4L1631 1094.2L1631.5 1090.4L1632 1092.8L1632.5 1095.3L1633 1072.1L1633.5 1061.7L1634 1083.7L1634.5 1074.1L1635 1089.2L1635.5 1084.4L1636 1080.5L1636.5 1081.3L1637 1063.8L1637.5 1066.4L1638 1079.2L1638.5 1065.5L1639 1074L1639.5 1065.7L1640 1084.7L1640.5 1076.1L1641 1070.8L1641.5 1075.5L1642 1057.8L1642.5 1069.1L1643 1070.9L1643.5 1053.8L1644 1061L1644.5 1082.1L1645 1066.7L1645.5 1088.3L1646 1074L1646.5 1074.6L1647 1062.1L1647.5 1084L1648 1068.3L1648.5 1060.4L1649 1058.2L1649.5 1058.3L1650 1077.8L1650.5 1063.7L1651 1069.9L1651.5 1059.7L1652 1077.2L1652.5 1063L1653 1060.4L1653.5 1072.2L1654 1064.7L1654.5 1066.8L1655 1058.4L1655.5 1040.6L1656 1047.8L1656.5 1060.3L1657 1044.9L1657.5 1054.1L1658 1046.5L1658.5 1059.2L1659 1065.6L1659.5 1052.3L1660 1064.6L1660.5 1048.7L1661 1061L1661.5 1070.6L1662 1074.8L1662.5 1064.2L1663 1054.7L1663.5 1076.8L1664 1064.5L1664.5 1064.2L1665 1051.3L1665.5 1073.3L1666 1073.1L1666.5 1069.6L1667 1062.1 V1178"/>
</g>
<g fill="none" stroke="#3B66A8" stroke-width="7.2" stroke-linejoin="bevel" stroke-linecap="butt" clip-path="url(#plot)">
<path d="M105 1416.4L105.5 1416.3L106 1416.5L106.5 1416.2L107 1416L107.5 1415.5L108 1415.2L108.5 1415.2L109 1415.3L109.5 1414.8L110 1416L110.5 1415.5L111 1416.3L111.5 1416.4L112 1416L112.5 1415.3L113 1415.1L113.5 1415.7L114 1414.8L114.5 1415.6L115 1415.9L115.5 1416L116 1415.5L116.5 1415.8L117 1415.9L117.5 1416.2L118 1416.4L118.5 1414.8L119 1415.7L119.5 1415.7L120 1416.7L120.5 1417.5L121 1418.6L121.5 1417.1L122 1416.2L122.5 1415.6L123 1415.8L123.5 1415L124 1415.1L124.5 1415.2L125 1415.9L125.5 1414.5L126 1415.1L126.5 1415.2L127 1415.7L127.5 1414.8L128 1414.9L128.5 1414.1L129 1414.1L129.5 1413.6L130 1413.9L130.5 1414.1L131 1413.9L131.5 1414.1L132 1416L132.5 1418.9L133 1419.1L133.5 1416.8L134 1414.8L134.5 1415.4L135 1414.1L135.5 1415.1L136 1413.9L136.5 1414L137 1413.8L137.5 1414.4L138 1413.5L138.5 1413.4L139 1414.2L139.5 1414.2L140 1413.3L140.5 1414.2L141 1413.9L141.5 1414.6L142 1414.1L142.5 1414L143 1414.7L143.5 1413.6L144 1414L144.5 1414.6L145 1414.6L145.5 1413.6L146 1413.7L146.5 1415.4L147 1418.3L147.5 1418.5L148 1417.4L148.5 1417.2L149 1414.3L149.5 1414.4L150 1415.2L150.5 1414.3L151 1413.7L151.5 1414.3L152 1414.8L152.5 1413.9L153 1414L153.5 1414L154 1413.4L154.5 1414.4L155 1413.2L155.5 1413.4L156 1413.7L156.5 1414.2L157 1413L157.5 1414.2L158 1413.6L158.5 1413.1L159 1413.3L159.5 1413.7L160 1412.9L160.5 1412.9L161 1414.1L161.5 1414.1L162 1413.8L162.5 1414.1L163 1413.1L163.5 1413.2L164 1413L164.5 1415L165 1415.2L165.5 1416.4L166 1416.6L166.5 1414L167 1414.2L167.5 1413.2L168 1413L168.5 1412.3L169 1412.6L169.5 1412.8L170 1413.5L170.5 1414.1L171 1413.2L171.5 1412.6L172 1414L172.5 1413.1L173 1412.7L173.5 1413.3L174 1413L174.5 1413.2L175 1412.9L175.5 1414L176 1412.8L176.5 1413.2L177 1412.3L177.5 1412.5L178 1413.3L178.5 1413.7L179 1414.1L179.5 1413.6L180 1413.5L180.5 1413.5L181 1413.1L181.5 1414.2L182 1414.1L182.5 1414.8L183 1417.8L183.5 1420.1L184 1420.7L184.5 1422.1L185 1421.7L185.5 1421.1L186 1419.4L186.5 1417.6L187 1414.2L187.5 1413.2L188 1412.3L188.5 1412.9L189 1412.8L189.5 1411.6L190 1411.6L190.5 1411.2L191 1410.7L191.5 1411L192 1412.3L192.5 1413.2L193 1413.2L193.5 1413.1L194 1410.8L194.5 1411L195 1411.7L195.5 1411.1L196 1411.4L196.5 1410.4L197 1411.7L197.5 1410.9L198 1411.7L198.5 1411L199 1411.7L199.5 1412.7L200 1415.5L200.5 1415.1L201 1411.2L201.5 1411.7L202 1410.9L202.5 1411.1L203 1410.7L203.5 1410.6L204 1411.3L204.5 1410.3L205 1409.7L205.5 1410.8L206 1410L206.5 1410.6L207 1411.2L207.5 1410.7L208 1410.1L208.5 1412.4L209 1414.7L209.5 1416.2L210 1416.8L210.5 1413.9L211 1411.4L211.5 1410.4L212 1411.2L212.5 1411.4L213 1410.3L213.5 1411L214 1410.7L214.5 1409.7L215 1411.2L215.5 1411.6L216 1412.2L216.5 1413.1L217 1411.1L217.5 1410.3L218 1410.1L218.5 1408.9L219 1409.7L219.5 1409.7L220 1409.2L220.5 1410L221 1409.6L221.5 1410.9L222 1411L222.5 1411L223 1411.2L223.5 1411.4L224 1411.6L224.5 1411.1L225 1410.3L225.5 1408.8L226 1409.6L226.5 1409.1L227 1409.9L227.5 1409.1L228 1409.3L228.5 1409.9L229 1409.4L229.5 1409.9L230 1409.5L230.5 1408.7L231 1409.9L231.5 1409.9L232 1408.7L232.5 1409L233 1409.3L233.5 1408.6L234 1409.4L234.5 1412.2L235 1416.4L235.5 1419.5L236 1418.2L236.5 1414.8L237 1410.8L237.5 1410.7L238 1412.7L238.5 1413.5L239 1416.5L239.5 1417.8L240 1418.9L240.5 1418.6L241 1416.1L241.5 1414.6L242 1412.4L242.5 1410.5L243 1410.7L243.5 1410L244 1409.9L244.5 1410.9L245 1409.8L245.5 1409.9L246 1409L246.5 1410.4L247 1409.8L247.5 1409.5L248 1410.3L248.5 1410.4L249 1410.3L249.5 1413.2L250 1416L250.5 1415.8L251 1411.3L251.5 1410L252 1411L252.5 1411.5L253 1411.7L253.5 1410.9L254 1412.3L254.5 1411.8L255 1412.4L255.5 1412.6L256 1412.6L256.5 1412.4L257 1413L257.5 1412.6L258 1412.6L258.5 1412.9L259 1412.5L259.5 1413.3L260 1412.6L260.5 1413.3L261 1412.8L261.5 1413.9L262 1413.4L262.5 1414.2L263 1413.3L263.5 1414.2L264 1415.2L264.5 1415.5L265 1415.1L265.5 1415.3L266 1416.3L266.5 1418.7L267 1420L267.5 1422.7L268 1423.7L268.5 1422.5L269 1419.9L269.5 1418.2L270 1418.7L270.5 1420.7L271 1420.3L271.5 1421.2L272 1421.5L272.5 1422.1L273 1421.6L273.5 1422.1L274 1424.1L274.5 1424.5L275 1426.1L275.5 1426.7L276 1427.4L276.5 1428.1L277 1428.4L277.5 1430.8L278 1430.8L278.5 1431L279 1432.8L279.5 1434.3L280 1434.9L280.5 1435.1L281 1436.4L281.5 1437L282 1437.7L282.5 1439L283 1441.4L283.5 1444.2L284 1445.2L284.5 1443.8L285 1443.7L285.5 1445.4L286 1446.7L286.5 1447.7L287 1449L287.5 1449.8L288 1450.6L288.5 1451.2L289 1451.4L289.5 1453L290 1454.5L290.5 1454.7L291 1456L291.5 1456.6L292 1459.2L292.5 1460.2L293 1460.4L293.5 1462.1L294 1463L294.5 1464.2L295 1465.4L295.5 1467.4L296 1467.7L296.5 1470.5L297 1473.9L297.5 1477L298 1477.7L298.5 1477.8L299 1478.2L299.5 1476.8L300 1478.4L300.5 1480.1L301 1480.3L301.5 1482.2L302 1484.4L302.5 1484.5L303 1486.3L303.5 1487.2L304 1488.5L304.5 1491L305 1491.8L305.5 1493.3L306 1494.1L306.5 1496.2L307 1496.7L307.5 1498.3L308 1499.3L308.5 1502L309 1503.7L309.5 1506.4L310 1506.9L310.5 1506.4L311 1508.3L311.5 1508.4L312 1509.1L312.5 1511.3L313 1512.1L313.5 1512L314 1513.2L314.5 1513.8L315 1515.9L315.5 1517.2L316 1517L316.5 1518.5L317 1520L317.5 1521.4L318 1523.7L318.5 1526.1L319 1527.5L319.5 1526.8L320 1526.7L320.5 1527.2L321 1527.7L321.5 1527.9L322 1528.9L322.5 1529.2L323 1529.5L323.5 1529.9L324 1531.5L324.5 1531.1L325 1532.4L325.5 1532.8L326 1532.7L326.5 1534L327 1534.2L327.5 1535L328 1535.3L328.5 1534.6L329 1535.1L329.5 1536L330 1535.8L330.5 1535.3L331 1535.8L331.5 1535.6L332 1536L332.5 1536L333 1536.8L333.5 1537.3L334 1537L334.5 1537.1L335 1537.7L335.5 1537.3L336 1537.6L336.5 1537.5L337 1536.7L337.5 1537.3L338 1536.6L338.5 1536.6L339 1537.1L339.5 1536.5L340 1536.7L340.5 1537.6L341 1536.9L341.5 1537.3L342 1537.2L342.5 1537L343 1537.3L343.5 1536.4L344 1536.2L344.5 1536.8L345 1536.2L345.5 1535.9L346 1536.2L346.5 1536.3L347 1536.1L347.5 1536.4L348 1535.8L348.5 1536.3L349 1536.5L349.5 1535.9L350 1535.8L350.5 1535.5L351 1535L351.5 1534.8L352 1535.2L352.5 1534.4L353 1534.6L353.5 1534.5L354 1535L354.5 1534.6L355 1534.3L355.5 1534.5L356 1534L356.5 1534.1L357 1534.4L357.5 1533.7L358 1533.5L358.5 1534L359 1533L359.5 1533.3L360 1533.7L360.5 1532.4L361 1532.7L361.5 1533.1L362 1533.2L362.5 1533.1L363 1533.3L363.5 1532.5L364 1532.4L364.5 1532.4L365 1533.2L365.5 1532.1L366 1532.4L366.5 1531.5L367 1532.3L367.5 1532.1L368 1532.1L368.5 1532.1L369 1531.6L369.5 1531.9L370 1532L370.5 1530.8L371 1530.7L371.5 1531.3L372 1530.9L372.5 1530.3L373 1530.7L373.5 1530.5L374 1530.1L374.5 1529.7L375 1530.8L375.5 1530L376 1529.2L376.5 1529.8L377 1529.6L377.5 1528.8L378 1529.1L378.5 1528.2L379 1528.9L379.5 1529.2L380 1528.7L380.5 1528L381 1527.9L381.5 1528.1L382 1527.6L382.5 1528.2L383 1527.8L383.5 1527L384 1527L384.5 1525.9L385 1525.9L385.5 1525.3L386 1525.5L386.5 1525.1L387 1525.2L387.5 1524.9L388 1524.4L388.5 1524.4L389 1524.4L389.5 1524.4L390 1523.7L390.5 1523.5L391 1523.9L391.5 1523L392 1523L392.5 1523L393 1523.4L393.5 1522.1L394 1522.1L394.5 1522.1L395 1521.6L395.5 1521.2L396 1521.1L396.5 1520.5L397 1520.8L397.5 1520.8L398 1520.7L398.5 1519.8L399 1520.6L399.5 1520.3L400 1519.6L400.5 1519.3L401 1519.9L401.5 1518.6L402 1519L402.5 1518.1L403 1518.1L403.5 1518.1L404 1518.1L404.5 1517.8L405 1516.8L405.5 1517.5L406 1517.3L406.5 1515.9L407 1516.1L407.5 1516.7L408 1516.1L408.5 1515.3L409 1516L409.5 1516L410 1514.9L410.5 1515.7L411 1515.3L411.5 1514.8L412 1513.7L412.5 1514.4L413 1514.2L413.5 1513.1L414 1513.9L414.5 1513.2L415 1512.7L415.5 1513L416 1513.1L416.5 1512.5L417 1511.6L417.5 1512.3L418 1511.5L418.5 1511.3L419 1511.2L419.5 1511.8L420 1511.3L420.5 1511.3L421 1511.2L421.5 1510.3L422 1510.2L422.5 1509.1L423 1508.7L423.5 1509.2L424 1508.9L424.5 1509L425 1508.2L425.5 1507.9L426 1508L426.5 1508.3L427 1507.6L427.5 1506.9L428 1506.8L428.5 1506.7L429 1505.6L429.5 1506.2L430 1505.7L430.5 1506.1L431 1505.9L431.5 1505.5L432 1504.3L432.5 1504.5L433 1503.5L433.5 1503.5L434 1502.9L434.5 1503L435 1502.3L435.5 1502.1L436 1502.3L436.5 1501.9L437 1501.7L437.5 1501.4L438 1500.8L438.5 1500L439 1499.7L439.5 1499.9L440 1500L440.5 1499.2L441 1498.8L441.5 1499.1L442 1498.3L442.5 1497.9L443 1498.7L443.5 1497.3L444 1497.6L444.5 1496.8L445 1496.4L445.5 1496.9L446 1496.1L446.5 1495.6L447 1494.6L447.5 1495.4L448 1494.7L448.5 1494.1L449 1494.2L449.5 1493.3L450 1493.7L450.5 1492.8L451 1492.3L451.5 1491.8L452 1491.4L452.5 1490.9L453 1491L453.5 1489.9L454 1489.8L454.5 1489.6L455 1489L455.5 1488.7L456 1488.4L456.5 1487.9L457 1487.4L457.5 1486.9L458 1487.3L458.5 1486.4L459 1485.8L459.5 1485.2L460 1484.9L460.5 1484.4L461 1483.8L461.5 1483.5L462 1483.2L462.5 1482.6L463 1482.2L463.5 1481.4L464 1481.3L464.5 1480L465 1480.2L465.5 1480.1L466 1479.7L466.5 1479.7L467 1478.3L467.5 1478.5L468 1478.3L468.5 1477.4L469 1476.9L469.5 1476.7L470 1476.9L470.5 1475.9L471 1476.3L471.5 1475.8L472 1475.1L472.5 1474.6L473 1474.9L473.5 1473.8L474 1473.6L474.5 1474L475 1473.4L475.5 1473.4L476 1472.8L476.5 1473.4L477 1472.4L477.5 1472L478 1471.9L478.5 1471.6L479 1471.6L479.5 1471.1L480 1471.7L480.5 1471.5L481 1471L481.5 1471.9L482 1471L482.5 1470.1L483 1470.6L483.5 1470.2L484 1469.8L484.5 1469.4L485 1469.6L485.5 1469.8L486 1469.1L486.5 1469.5L487 1469L487.5 1468.4L488 1468.7L488.5 1468.6L489 1467.6L489.5 1467.6L490 1467.5L490.5 1467.4L491 1467.8L491.5 1468L492 1468.1L492.5 1468L493 1468.4L493.5 1467.6L494 1468.5L494.5 1468.3L495 1467.5L495.5 1467.4L496 1467.4L496.5 1467.9L497 1467.6L497.5 1467.2L498 1467.7L498.5 1467.4L499 1468L499.5 1467.8L500 1467.3L500.5 1467.2L501 1467.6L501.5 1467.2L502 1467.5L502.5 1467.6L503 1467.3L503.5 1467.7L504 1467.5L504.5 1467.6L505 1467.5L505.5 1467.6L506 1467.5L506.5 1467.5L507 1467.5L507.5 1467.3L508 1467.7L508.5 1467.4L509 1467.6L509.5 1467.8L510 1467.9L510.5 1468L511 1468L511.5 1468.1L512 1468.1L512.5 1467.7L513 1467.9L513.5 1467.6L514 1467.8L514.5 1467.6L515 1467.9L515.5 1467.5L516 1467.7L516.5 1468.1L517 1468.2L517.5 1468.3L518 1468.3L518.5 1468L519 1468.3L519.5 1468.2L520 1468L520.5 1468.3L521 1468.3L521.5 1468.2L522 1468.1L522.5 1467.9L523 1467.8L523.5 1468.3L524 1468.1L524.5 1468.1L525 1468L525.5 1468L526 1468.1L526.5 1467.9L527 1468L527.5 1467.6L528 1467.5L528.5 1467.9L529 1467.4L529.5 1467.5L530 1467.7L530.5 1467.3L531 1467.6L531.5 1467.4L532 1467.7L532.5 1467.4L533 1467.3L533.5 1467.3L534 1467.3L534.5 1466.9L535 1466.6L535.5 1466.9L536 1466.8L536.5 1466.5L537 1466.8L537.5 1466.5L538 1466.5L538.5 1466.2L539 1465.7L539.5 1465.7L540 1465.9L540.5 1465.3L541 1465.7L541.5 1465.4L542 1465.1L542.5 1465.3L543 1465L543.5 1464.9L544 1465.3L544.5 1465.4L545 1464.8L545.5 1465.1L546 1464.4L546.5 1464.5L547 1464.2L547.5 1464.3L548 1464.2L548.5 1463.4L549 1463.5L549.5 1463.6L550 1463.2L550.5 1462.9L551 1462.9L551.5 1462.4L552 1462.3L552.5 1462.4L553 1462.1L553.5 1462L554 1461.4L554.5 1461.7L555 1461.4L555.5 1461.4L556 1461L556.5 1460.8L557 1461L557.5 1460.6L558 1460.3L558.5 1460L559 1459.6L559.5 1459.4L560 1459.5L560.5 1459.2L561 1458.5L561.5 1458.8L562 1458.5L562.5 1458.4L563 1458L563.5 1458.1L564 1457.7L564.5 1457.5L565 1456.7L565.5 1456.7L566 1456.4L566.5 1456.3L567 1456.1L567.5 1456.1L568 1455.7L568.5 1455.8L569 1455.5L569.5 1455.5L570 1454.9L570.5 1454.8L571 1454.5L571.5 1454.6L572 1453.9L572.5 1453.7L573 1453.9L573.5 1453.3L574 1453.3L574.5 1452.7L575 1452.5L575.5 1452.5L576 1452L576.5 1451.8L577 1451.6L577.5 1451.5L578 1451L578.5 1450.7L579 1450.6L579.5 1450.5L580 1450.3L580.5 1449.8L581 1449.4L581.5 1449.4L582 1448.8L582.5 1448.7L583 1448.3L583.5 1448L584 1447.6L584.5 1447.1L585 1447L585.5 1446.2L586 1446.3L586.5 1445.5L587 1445.1L587.5 1445L588 1444.6L588.5 1443.7L589 1443.6L589.5 1443L590 1442L590.5 1441.6L591 1441L591.5 1440.6L592 1440.2L592.5 1439.5L593 1439.2L593.5 1438.6L594 1438L594.5 1437L595 1436.5L595.5 1436L596 1435.7L596.5 1435L597 1434.4L597.5 1433.8L598 1433.7L598.5 1433L599 1432.6L599.5 1432.2L600 1431.5L600.5 1430.6L601 1430L601.5 1429.6L602 1429.1L602.5 1428L603 1427.4L603.5 1426.7L604 1425.9L604.5 1425.6L605 1424.8L605.5 1424L606 1423.6L606.5 1422.4L607 1421.9L607.5 1421.2L608 1420.5L608.5 1420.1L609 1419.3L609.5 1419L610 1418.2L610.5 1417.7L611 1417.5L611.5 1416.5L612 1416.1L612.5 1415.2L613 1415.1L613.5 1414.7L614 1413.8L614.5 1414L615 1413.4L615.5 1413L616 1412.6L616.5 1411.9L617 1411.6L617.5 1411.2L618 1411.1L618.5 1410.4L619 1410.4L619.5 1410.1L620 1409.8L620.5 1409.4L621 1409L621.5 1408.9L622 1408.4L622.5 1408.2L623 1407.5L623.5 1407.2L624 1407L624.5 1406.4L625 1406.6L625.5 1406.3L626 1405.8L626.5 1405.4L627 1405.1L627.5 1404.7L628 1404.7L628.5 1404.5L629 1403.7L629.5 1403.4L630 1403.4L630.5 1403.4L631 1402.6L631.5 1402.3L632 1402.1L632.5 1401.9L633 1401.6L633.5 1401.6L634 1401.1L634.5 1400.9L635 1400.9L635.5 1400.9L636 1400.1L636.5 1399.8L637 1399.5L637.5 1399.2L638 1398.9L638.5 1398.8L639 1398.6L639.5 1398.5L640 1397.9L640.5 1398.1L641 1397.6L641.5 1397.4L642 1396.7L642.5 1396.9L643 1396.3L643.5 1396L644 1395.9L644.5 1395.3L645 1394.8L645.5 1394.6L646 1394.4L646.5 1393.8L647 1393.6L647.5 1393.1L648 1392.5L648.5 1392L649 1392L649.5 1391.7L650 1390.9L650.5 1390.8L651 1390.2L651.5 1389.6L652 1389L652.5 1388.5L653 1387.9L653.5 1387.3L654 1387.3L654.5 1386.6L655 1386L655.5 1385.6L656 1385.2L656.5 1384.9L657 1384.1L657.5 1383.7L658 1383.2L658.5 1382.6L659 1381.6L659.5 1381.2L660 1380.8L660.5 1380.1L661 1379.9L661.5 1379.3L662 1378.9L662.5 1378.3L663 1378.3L663.5 1377.5L664 1376.8L664.5 1376.4L665 1375.8L665.5 1375.5L666 1375.4L666.5 1375L667 1374.6L667.5 1374.1L668 1373.6L668.5 1372.6L669 1372.2L669.5 1372L670 1371.6L670.5 1371L671 1370.4L671.5 1370L672 1369.4L672.5 1369.3L673 1368.9L673.5 1368.4L674 1367.8L674.5 1367.9L675 1367.5L675.5 1367.1L676 1366.5L676.5 1366.2L677 1365.3L677.5 1364.8L678 1364.8L678.5 1364.4L679 1363.7L679.5 1363.7L680 1363.1L680.5 1362.9L681 1363.2L681.5 1362.8L682 1362.1L682.5 1362L683 1361.8L683.5 1361.4L684 1361.1L684.5 1360.9L685 1360.2L685.5 1360.5L686 1360.1L686.5 1359.8L687 1359.5L687.5 1359.2L688 1359L688.5 1358.5L689 1358.4L689.5 1357.7L690 1357.6L690.5 1357.3L691 1356.9L691.5 1357L692 1356.8L692.5 1356.1L693 1355.6L693.5 1355.6L694 1354.9L694.5 1355L695 1354.4L695.5 1354.1L696 1353.4L696.5 1353.1L697 1352.7L697.5 1352.2L698 1351.7L698.5 1351L699 1350.4L699.5 1350L700 1349.4L700.5 1349.2L701 1349.2L701.5 1348.5L702 1347.9L702.5 1347.5L703 1346.7L703.5 1346.3L704 1345.8L704.5 1345.5L705 1345L705.5 1344.9L706 1344.3L706.5 1344.1L707 1344L707.5 1343.7L708 1343.2L708.5 1342.7L709 1342.2L709.5 1341.8L710 1341.4L710.5 1341.3L711 1341L711.5 1340.3L712 1340.1L712.5 1339.9L713 1339.6L713.5 1338.9L714 1338.8L714.5 1338.7L715 1338.3L715.5 1337.6L716 1337.6L716.5 1337.4L717 1337.1L717.5 1336.9L718 1336.3L718.5 1336.3L719 1336.3L719.5 1336.1L720 1335.8L720.5 1335.3L721 1335L721.5 1335.1L722 1334.7L722.5 1334.7L723 1334.9L723.5 1334.3L724 1334.4L724.5 1333.7L725 1333.6L725.5 1333.5L726 1333.4L726.5 1333L727 1333.2L727.5 1332.8L728 1332.3L728.5 1332.2L729 1332.3L729.5 1331.7L730 1331.5L730.5 1331.4L731 1331.1L731.5 1331L732 1331L732.5 1331L733 1330.6L733.5 1330.4L734 1329.9L734.5 1329.8L735 1329.7L735.5 1329.3L736 1329.3L736.5 1328.7L737 1328.8L737.5 1328.1L738 1328.1L738.5 1327.8L739 1327.7L739.5 1326.9L740 1326.9L740.5 1326.9L741 1326.4L741.5 1326.4L742 1326.1L742.5 1325.4L743 1325.3L743.5 1324.9L744 1324.9L744.5 1324.2L745 1324.4L745.5 1323.8L746 1323.7L746.5 1323.9L747 1323.4L747.5 1323.3L748 1323.3L748.5 1322.6L749 1322.5L749.5 1322.5L750 1322.1L750.5 1322L751 1321.5L751.5 1321.6L752 1321.6L752.5 1321.3L753 1321.2L753.5 1321L754 1320.7L754.5 1320.6L755 1320.3L755.5 1320.1L756 1319.8L756.5 1320.1L757 1319.7L757.5 1319.7L758 1319.1L758.5 1319.1L759 1318.9L759.5 1318.8L760 1318.6L760.5 1318.6"/>
<path d="M789 1233.7L789.5 1232.9L790 1233.4L790.5 1233.8L791 1233.9L791.5 1233.5L792 1232.8L792.5 1233.7L793 1233.4L793.5 1234.2L794 1233.2L794.5 1233.8L795 1232.8L795.5 1233.7L796 1232.5L796.5 1233.2L797 1233.1L797.5 1233.1L798 1232.6L798.5 1232.4L799 1231.7L799.5 1232L800 1232.9L800.5 1233.2L801 1232.2L801.5 1232.6L802 1232.3L802.5 1232.4L803 1233.1L803.5 1233.1L804 1232.7L804.5 1233L805 1231.5L805.5 1232.6L806 1231.2L806.5 1230.9L807 1230.9L807.5 1231.2L808 1231.8L808.5 1231.1L809 1232.4L809.5 1231.5L810 1232.2L810.5 1231.6L811 1230.7L811.5 1230.6L812 1231.6L812.5 1231.3L813 1230.6L813.5 1230.6L814 1230L814.5 1230.4L815 1230.7L815.5 1229.8L816 1229.2L816.5 1230.6L817 1230.4L817.5 1229.2L818 1229.5L818.5 1229.5L819 1230.4L819.5 1228.9L820 1230.4L820.5 1229.8L821 1229.3L821.5 1228.9L822 1228.9L822.5 1228.2L823 1228.1L823.5 1229L824 1228.2L824.5 1229L825 1228.3L825.5 1228.6L826 1227.3L826.5 1227.9L827 1227.5L827.5 1227.9L828 1227.4L828.5 1227.3L829 1226.4L829.5 1227.6L830 1227.6L830.5 1227.2L831 1227.5L831.5 1226.6L832 1226.4L832.5 1226.6L833 1226.2L833.5 1225.6L834 1226.6L834.5 1226.3L835 1225.4L835.5 1226.6L836 1225.9L836.5 1225.7L837 1226.2L837.5 1224.9L838 1224.7L838.5 1226L839 1224.5L839.5 1225L840 1225.9L840.5 1224.8L841 1225.7L841.5 1224.3L842 1225.2L842.5 1223.6L843 1224.2L843.5 1224.9L844 1224.7L844.5 1224.5L845 1224.1L845.5 1224.3L846 1223.9L846.5 1222.9L847 1223.6L847.5 1223.8L848 1223.5L848.5 1222.8L849 1223L849.5 1222.5L850 1222.6L850.5 1222.4L851 1222.8L851.5 1222.6L852 1221.6L852.5 1222.6L853 1222.4L853.5 1221.7L854 1221.6L854.5 1220.5L855 1220.1L855.5 1220.2L856 1221L856.5 1220L857 1220L857.5 1220L858 1219.5L858.5 1218.9L859 1219.1L859.5 1219.6L860 1218.6L860.5 1219.1L861 1218.9L861.5 1217.6L862 1218L862.5 1217.8L863 1218.5L863.5 1218L864 1217.7L864.5 1217.9L865 1216.2L865.5 1216.1L866 1216.9L866.5 1217.4L867 1217.6L867.5 1217.7L868 1216.2L868.5 1215.8L869 1216.1L869.5 1216.5L870 1215.6L870.5 1216.1L871 1215.5L871.5 1214.8L872 1215.2L872.5 1214.9L873 1215.5L873.5 1215.4L874 1214.4L874.5 1214.4L875 1215.6L875.5 1215.6L876 1215.6L876.5 1214.6L877 1214.1L877.5 1214.7L878 1215.3L878.5 1214.6L879 1214.7L879.5 1213.4L880 1214L880.5 1213.5L881 1213.1L881.5 1213.1L882 1212.9L882.5 1213L883 1213L883.5 1212.9L884 1212.7L884.5 1212.4L885 1213.1L885.5 1213.6L886 1213.3L886.5 1213.2L887 1213.1L887.5 1212.6L888 1212.6L888.5 1212L889 1212.9L889.5 1212.5L890 1212.1L890.5 1211.5L891 1211.7L891.5 1212.5L892 1212.2L892.5 1212.6L893 1211.6L893.5 1212.8L894 1213.3L894.5 1211.9L895 1213.6L895.5 1211.8L896 1212.8L896.5 1212.2L897 1211.6L897.5 1211.9L898 1211.5L898.5 1212.9L899 1211.4L899.5 1213.1L900 1213.1L900.5 1212.9L901 1211.8L901.5 1212.6L902 1212.8L902.5 1212L903 1211.9L903.5 1212.5L904 1211L904.5 1211.6L905 1212.4L905.5 1212.4L906 1212.7L906.5 1212.5L907 1211.3L907.5 1212.5L908 1211.3L908.5 1212L909 1212.1L909.5 1212.2L910 1212.7L910.5 1213.2L911 1215.4L911.5 1214.3L912 1214.5L912.5 1212.4L913 1213.8L913.5 1213.9L914 1212.9L914.5 1213.4L915 1213.3L915.5 1214.2L916 1213.2L916.5 1212.9L917 1213.5L917.5 1213.2L918 1213L918.5 1213.7L919 1212.9L919.5 1212.6L920 1212.9L920.5 1214.4L921 1214L921.5 1213.7L922 1214.4L922.5 1213.9L923 1214.8L923.5 1214.6L924 1215L924.5 1216.1L925 1215.3L925.5 1215.9L926 1215.3L926.5 1215.3L927 1217.2L927.5 1219L928 1221.6L928.5 1221.4L929 1219.1L929.5 1218.3L930 1217.5L930.5 1218.2L931 1218.3L931.5 1219L932 1218.8L932.5 1218L933 1218.9L933.5 1219.1L934 1220.1L934.5 1220.7L935 1222.2L935.5 1225.1L936 1222.5L936.5 1221.7L937 1222.3L937.5 1222.2L938 1222.5L938.5 1222.5L939 1222.9L939.5 1223.4L940 1223.2L940.5 1224L941 1223.8L941.5 1223.4L942 1224.9L942.5 1224.9L943 1226.1L943.5 1225.6L944 1226.5L944.5 1225.8L945 1226.9L945.5 1227.4L946 1228.1L946.5 1227.6L947 1228.7L947.5 1229.7L948 1229.6L948.5 1230.1L949 1231.7L949.5 1234L950 1235.8L950.5 1238.8L951 1238L951.5 1237.7L952 1236.1L952.5 1236.7L953 1237.1L953.5 1237.5L954 1237.6L954.5 1239.8L955 1240.2L955.5 1241.7L956 1242.5L956.5 1243.2L957 1243.5L957.5 1245.2L958 1246.7L958.5 1247.9L959 1249L959.5 1251.1L960 1250.4L960.5 1253.3L961 1253.4L961.5 1254.9L962 1257.4L962.5 1257.3L963 1259.8L963.5 1260.4L964 1262.8L964.5 1263.7L965 1264.4L965.5 1266.6L966 1268.3L966.5 1269.9L967 1269.6L967.5 1272.7L968 1274.3L968.5 1275L969 1277.4L969.5 1279L970 1280.9L970.5 1282.4L971 1285L971.5 1286.8L972 1288.9L972.5 1291.8L973 1294L973.5 1297.6L974 1302.1L974.5 1307.2L975 1312.7L975.5 1319.1L976 1325.1L976.5 1331.5L977 1336.8L977.5 1341.8L978 1346L978.5 1349.1L979 1352.8L979.5 1356.6L980 1359.7L980.5 1362.8L981 1365.5L981.5 1368.6L982 1371L982.5 1373.5L983 1376.5L983.5 1379.4L984 1381.5L984.5 1383.6L985 1386.5L985.5 1388.6L986 1391.3L986.5 1393.6L987 1395.7L987.5 1398.7L988 1401L988.5 1403.9L989 1406.2L989.5 1409.3L990 1412.8L990.5 1414.9L991 1418.5L991.5 1421.5L992 1424.2L992.5 1426.2L993 1428.7L993.5 1431.6L994 1433.8L994.5 1436.7L995 1438.7L995.5 1440.4L996 1441.9L996.5 1442.8L997 1443.9L997.5 1445.4L998 1447.2L998.5 1447.5L999 1448L999.5 1448.9L1000 1448.8L1000.5 1448.9L1001 1448.5L1001.5 1447.9L1002 1447.2L1002.5 1445.4L1003 1445.3L1003.5 1443.5L1004 1442.1L1004.5 1441.6L1005 1438.3L1005.5 1432.9L1006 1426.5L1006.5 1418.9L1007 1410.2L1007.5 1403L1008 1396.3L1008.5 1389.7L1009 1383.3L1009.5 1377.1L1010 1370.7L1010.5 1364.8L1011 1358.6L1011.5 1352.1L1012 1345.9L1012.5 1339.4L1013 1334L1013.5 1328.3L1014 1321.8L1014.5 1315.2L1015 1309.2L1015.5 1303.4L1016 1297.2L1016.5 1288.7L1017 1278L1017.5 1270L1018 1264L1018.5 1262L1019 1258.9L1019.5 1256.3L1020 1253.5L1020.5 1251L1021 1250.4L1021.5 1248L1022 1246.1L1022.5 1245.5L1023 1246.3L1023.5 1249L1024 1247.2L1024.5 1245.4L1025 1242.1L1025.5 1238.3L1026 1238.7L1026.5 1236.5L1027 1236.4L1027.5 1235.8L1028 1234L1028.5 1232.6L1029 1233.4L1029.5 1233.8L1030 1233.6L1030.5 1233L1031 1230.7L1031.5 1228.2L1032 1226.9L1032.5 1227.3L1033 1226L1033.5 1224.9L1034 1224.7L1034.5 1224.3L1035 1224.4L1035.5 1223.2L1036 1223.6L1036.5 1222.1L1037 1223L1037.5 1225.4L1038 1226.6L1038.5 1225.9L1039 1221.2L1039.5 1221.2L1040 1220.4L1040.5 1219.6L1041 1220.8L1041.5 1219.2L1042 1218.2L1042.5 1218.5L1043 1218.8L1043.5 1218.7L1044 1219.4L1044.5 1219.6L1045 1218.9L1045.5 1217.4L1046 1216.5L1046.5 1216.5L1047 1214.4L1047.5 1214.6L1048 1216.4L1048.5 1214.7L1049 1215.9L1049.5 1216.4L1050 1215.4L1050.5 1215.2L1051 1213.2L1051.5 1215.3L1052 1216.2L1052.5 1217.4L1053 1217.4L1053.5 1216.3L1054 1214.9L1054.5 1213.2L1055 1210.8L1055.5 1212.5L1056 1212.3L1056.5 1211.8L1057 1212L1057.5 1211.6L1058 1211L1058.5 1211.3L1059 1211.1L1059.5 1210.7L1060 1209.3L1060.5 1209.4L1061 1210.3L1061.5 1209.4L1062 1208.7L1062.5 1210.9L1063 1210.6L1063.5 1211.8L1064 1210.2L1064.5 1209.9L1065 1208.8L1065.5 1209.7L1066 1208.3L1066.5 1207.6L1067 1208.7L1067.5 1209.2L1068 1209.3L1068.5 1207.9L1069 1209.2L1069.5 1212.7L1070 1214.8L1070.5 1212.5L1071 1208.8L1071.5 1210.2L1072 1210L1072.5 1210.1L1073 1210.7L1073.5 1210.6L1074 1210.9L1074.5 1211.4L1075 1210.8L1075.5 1210.5L1076 1212L1076.5 1211.8L1077 1212.9L1077.5 1211.6L1078 1213.5L1078.5 1213L1079 1214.2L1079.5 1213.5L1080 1213.5L1080.5 1215.1L1081 1214.8L1081.5 1216.6L1082 1216.7L1082.5 1217.8L1083 1218L1083.5 1219.6L1084 1222.6L1084.5 1224.2L1085 1225.7L1085.5 1224.6L1086 1223.7L1086.5 1223.3L1087 1222.1L1087.5 1223.1L1088 1223.6L1088.5 1226L1089 1227L1089.5 1226.7L1090 1226.4L1090.5 1228L1091 1227.8L1091.5 1229.3L1092 1230.7L1092.5 1230.9L1093 1231.8L1093.5 1232.3L1094 1234.4L1094.5 1233L1095 1236.3L1095.5 1240.2L1096 1241.1L1096.5 1239.7L1097 1240.2L1097.5 1240.1L1098 1241.5L1098.5 1242.4L1099 1244.1L1099.5 1245.5L1100 1246.6L1100.5 1247.8L1101 1249.4L1101.5 1249.9L1102 1251.3L1102.5 1252.6L1103 1254.3L1103.5 1256.4L1104 1258.1L1104.5 1260.7L1105 1261.8L1105.5 1264.7L1106 1266.9L1106.5 1269.5L1107 1272.7L1107.5 1276.6L1108 1280L1108.5 1284.4L1109 1288L1109.5 1292.3L1110 1295.8L1110.5 1299.8L1111 1303.1L1111.5 1306.8L1112 1310.1L1112.5 1314.6L1113 1317.3L1113.5 1320.6L1114 1324.6L1114.5 1329.4L1115 1332.9L1115.5 1336.8L1116 1340.5L1116.5 1343.4L1117 1344.4L1117.5 1343.1L1118 1341.6L1118.5 1339L1119 1335.5L1119.5 1332L1120 1328.4L1120.5 1324.6L1121 1321L1121.5 1317.1L1122 1312.5L1122.5 1307.3L1123 1301.6L1123.5 1295.6L1124 1287.9L1124.5 1279.2L1125 1269.9L1125.5 1264.1L1126 1260L1126.5 1256.7L1127 1254.2L1127.5 1251.4L1128 1248.7L1128.5 1246.4L1129 1244.3L1129.5 1242.5L1130 1239.9L1130.5 1238.4L1131 1237.1L1131.5 1235.6L1132 1233.6L1132.5 1232.1L1133 1229.8L1133.5 1228.1L1134 1227.6L1134.5 1225.6L1135 1224.5L1135.5 1223.7L1136 1222.4L1136.5 1221.6L1137 1220L1137.5 1219.1L1138 1218.3L1138.5 1218.5L1139 1217.8L1139.5 1217.4L1140 1216.5L1140.5 1216L1141 1216.1L1141.5 1215.8L1142 1214.9L1142.5 1214.6L1143 1214.7L1143.5 1214.3L1144 1213.4L1144.5 1213.2L1145 1213.6L1145.5 1213.5L1146 1213.2L1146.5 1213.6L1147 1213.5L1147.5 1213.2L1148 1213.2L1148.5 1212.9L1149 1213.1L1149.5 1212.8L1150 1213.2L1150.5 1212.7L1151 1212.7L1151.5 1213.7L1152 1213L1152.5 1213.5L1153 1214.3L1153.5 1213.7L1154 1214.4L1154.5 1214.4L1155 1214.7L1155.5 1214.9L1156 1215L1156.5 1215.6L1157 1215.4L1157.5 1214.9L1158 1215.4L1158.5 1215.2L1159 1215.7L1159.5 1216.5L1160 1215.8L1160.5 1216.3L1161 1216.3L1161.5 1217.4L1162 1216.9L1162.5 1217.8L1163 1217.9L1163.5 1218.5L1164 1218L1164.5 1218.4L1165 1219.7L1165.5 1219.5L1166 1220.2L1166.5 1221L1167 1220.9L1167.5 1221.1L1168 1222L1168.5 1222.3L1169 1223L1169.5 1223.3L1170 1223.6L1170.5 1223.7L1171 1224.7L1171.5 1224.9L1172 1225.2L1172.5 1225.9L1173 1225.9L1173.5 1227.3L1174 1227.4L1174.5 1228.6L1175 1229.1L1175.5 1229.5L1176 1229.7L1176.5 1230.8L1177 1231.2L1177.5 1232.5L1178 1232.6L1178.5 1233.8L1179 1233.7L1179.5 1235.2L1180 1235.7L1180.5 1236.6L1181 1237.5L1181.5 1238.8L1182 1239.4L1182.5 1240.9L1183 1241.8L1183.5 1242.5L1184 1243.8L1184.5 1244.6L1185 1245.4L1185.5 1246.7L1186 1247.1L1186.5 1248.2L1187 1250L1187.5 1251.1L1188 1252.2L1188.5 1253.4L1189 1254.4L1189.5 1256.6L1190 1257.5L1190.5 1259.1L1191 1261.4L1191.5 1262.9L1192 1264.8L1192.5 1267.2L1193 1269.3L1193.5 1271.5L1194 1274.3L1194.5 1276.5L1195 1279.7L1195.5 1283.3L1196 1286L1196.5 1289.7L1197 1292.7L1197.5 1295.8L1198 1299.3L1198.5 1302.4L1199 1306.2L1199.5 1309.9L1200 1314.1L1200.5 1317.8L1201 1321.4L1201.5 1324.6L1202 1327.9L1202.5 1332.2L1203 1335.7L1203.5 1339.9L1204 1343.4L1204.5 1346.9L1205 1351.1L1205.5 1354.3L1206 1358.6L1206.5 1361.5L1207 1365.7L1207.5 1369.4L1208 1373.8L1208.5 1377.3L1209 1382.1L1209.5 1385.5L1210 1389.3L1210.5 1392.4L1211 1395.9L1211.5 1399.6L1212 1402.9L1212.5 1407.3L1213 1410.8L1213.5 1414.4L1214 1417.6L1214.5 1420.7L1215 1424.5L1215.5 1427.2L1216 1429.1L1216.5 1431.1L1217 1433.2L1217.5 1435.3L1218 1437.9L1218.5 1439.7L1219 1442L1219.5 1443.4L1220 1444.5L1220.5 1446.1L1221 1447.9L1221.5 1449L1222 1450.7L1222.5 1451.9L1223 1453.1L1223.5 1454L1224 1454.9L1224.5 1455.9L1225 1456.7L1225.5 1457.5L1226 1458.8L1226.5 1459.4L1227 1460L1227.5 1461L1228 1461.1L1228.5 1462.3L1229 1463.5L1229.5 1464L1230 1465L1230.5 1464.7L1231 1466L1231.5 1465.8L1232 1466.8L1232.5 1467.6L1233 1467.8L1233.5 1468.1L1234 1469.4L1234.5 1469.3L1235 1470.4L1235.5 1470.8L1236 1471.3L1236.5 1472.1L1237 1472.7L1237.5 1473L1238 1473.1L1238.5 1473.4L1239 1472.8L1239.5 1473.7L1240 1474.5L1240.5 1474.9L1241 1475.9L1241.5 1476.1L1242 1475.9L1242.5 1476.6L1243 1476.3L1243.5 1477.1L1244 1476.7L1244.5 1477.9L1245 1477.7L1245.5 1478.7L1246 1478.4L1246.5 1478.9L1247 1479.2L1247.5 1479.4L1248 1479.4L1248.5 1480.3L1249 1480.3L1249.5 1480.5L1250 1480.5L1250.5 1480.9L1251 1481.1L1251.5 1480.9L1252 1481.5L1252.5 1481.7L1253 1482.1L1253.5 1482.2L1254 1482.8L1254.5 1482.4L1255 1483.1L1255.5 1483.3L1256 1483.9L1256.5 1484L1257 1484.5L1257.5 1483.9L1258 1484.7L1258.5 1484.4L1259 1484.5L1259.5 1484.6L1260 1485L1260.5 1485.9L1261 1485.9L1261.5 1486.7L1262 1486.9L1262.5 1487.7L1263 1488.2L1263.5 1488.3L1264 1489.5L1264.5 1489.8L1265 1490.4L1265.5 1491.3L1266 1492.2L1266.5 1492.7L1267 1493.7L1267.5 1494L1268 1495.6L1268.5 1496.2L1269 1497.1L1269.5 1498.2L1270 1499.5L1270.5 1500.3L1271 1501.2L1271.5 1501.9L1272 1503.2L1272.5 1503.5L1273 1504.5L1273.5 1504.9L1274 1506.3L1274.5 1506.6L1275 1507.3L1275.5 1508.4L1276 1508.7L1276.5 1509.5L1277 1510.3L1277.5 1510.3L1278 1511.2L1278.5 1512.7L1279 1513.1L1279.5 1513.4L1280 1514.8L1280.5 1515.3L1281 1515.6L1281.5 1516L1282 1517.4L1282.5 1518.5L1283 1519.4L1283.5 1520.9L1284 1521.6L1284.5 1523.1L1285 1523.7L1285.5 1525.5L1286 1526L1286.5 1526.8L1287 1528.7L1287.5 1528.9L1288 1529.5L1288.5 1531.1L1289 1531.1L1289.5 1532.2L1290 1532.1L1290.5 1533L1291 1533.1L1291.5 1532.5L1292 1532.5L1292.5 1532.4L1293 1532.8L1293.5 1532.2L1294 1532.3L1294.5 1531.4L1295 1531.3L1295.5 1531L1296 1530.7L1296.5 1530.1L1297 1530.3L1297.5 1529.4L1298 1529.6L1298.5 1528.8L1299 1528.3L1299.5 1527.9L1300 1526.6L1300.5 1526.7L1301 1526L1301.5 1524.8L1302 1524.1L1302.5 1523.2L1303 1522.7L1303.5 1521.3L1304 1520.9L1304.5 1519.1L1305 1517.7L1305.5 1516.8L1306 1514.6L1306.5 1512.9L1307 1511.4L1307.5 1509.6L1308 1507.6L1308.5 1506L1309 1503.7L1309.5 1502.1L1310 1499.7L1310.5 1497.6L1311 1495.6L1311.5 1493.5L1312 1491.8L1312.5 1489.4L1313 1486.3L1313.5 1484.4L1314 1481.6L1314.5 1478.1L1315 1475.6L1315.5 1472.7L1316 1469.6L1316.5 1465.9L1317 1463.6L1317.5 1459.8L1318 1456.8L1318.5 1453.3L1319 1450.2L1319.5 1446.1L1320 1443.1L1320.5 1439.1L1321 1436.2L1321.5 1432L1322 1427.9L1322.5 1424.4L1323 1420.6L1323.5 1416.2L1324 1412.3L1324.5 1408L1325 1403.3L1325.5 1399.2L1326 1395.6L1326.5 1391L1327 1387.3L1327.5 1383L1328 1379.2L1328.5 1376.4L1329 1372.6L1329.5 1368.8L1330 1366.1L1330.5 1362.5L1331 1359.5L1331.5 1356.5L1332 1353.1L1332.5 1349.5L1333 1346.4L1333.5 1344.3L1334 1341.4L1334.5 1338.9L1335 1336.1L1335.5 1333.6L1336 1330.6L1336.5 1328.6L1337 1326.5L1337.5 1324L1338 1321.5L1338.5 1320.1L1339 1317.2L1339.5 1315.5L1340 1313.8L1340.5 1311.9L1341 1310.6L1341.5 1308.3L1342 1307.5L1342.5 1306.1L1343 1304.6L1343.5 1303.5L1344 1303L1344.5 1301.8L1345 1301.4L1345.5 1300L1346 1299.5L1346.5 1299.1L1347 1299.4L1347.5 1298.2L1348 1297.6L1348.5 1297.1L1349 1296.2L1349.5 1296.2L1350 1296.2L1350.5 1295.5L1351 1295.9L1351.5 1296.2L1352 1296L1352.5 1295.9L1353 1295.8L1353.5 1296.9L1354 1296.9L1354.5 1296.9L1355 1297.4L1355.5 1297L1356 1298.2L1356.5 1297.8L1357 1298.2L1357.5 1298.1L1358 1298.8L1358.5 1299.1L1359 1299.7L1359.5 1300.2L1360 1300.7L1360.5 1300.6L1361 1301.6L1361.5 1301.9L1362 1301.2L1362.5 1301.5L1363 1302.3L1363.5 1301.9L1364 1302L1364.5 1302.1L1365 1302L1365.5 1302.7L1366 1302.5L1366.5 1301.9L1367 1302.7L1367.5 1301.8L1368 1301.9L1368.5 1301.6L1369 1300.9L1369.5 1301L1370 1300.4L1370.5 1300.6L1371 1299.8L1371.5 1299.4L1372 1299.3L1372.5 1299.3L1373 1298.8L1373.5 1298L1374 1297.4L1374.5 1297.6L1375 1297.4L1375.5 1296.3L1376 1296L1376.5 1295.7L1377 1294.6L1377.5 1293.7L1378 1292.3L1378.5 1291.5L1379 1290.1L1379.5 1288.8L1380 1286.3L1380.5 1285L1381 1284.4L1381.5 1282.8L1382 1281.1L1382.5 1278.9L1383 1278.4L1383.5 1276.4L1384 1274.9L1384.5 1273.8L1385 1272.7L1385.5 1272.3L1386 1271.2L1386.5 1270.2L1387 1269.1L1387.5 1268.2L1388 1267.8L1388.5 1266.5L1389 1265.2L1389.5 1265.1L1390 1264L1390.5 1262.4L1391 1261.8L1391.5 1260.2L1392 1259.7L1392.5 1258.1L1393 1257.3L1393.5 1257L1394 1255.2L1394.5 1254.5L1395 1253.4L1395.5 1252.1L1396 1251.8L1396.5 1250.3L1397 1248.8L1397.5 1248.4L1398 1247L1398.5 1245.7L1399 1244.8L1399.5 1243.9L1400 1242.9L1400.5 1241.9L1401 1240.6L1401.5 1239.7L1402 1239L1402.5 1238.7L1403 1237.1L1403.5 1236.4L1404 1235.9L1404.5 1234.9L1405 1234.7L1405.5 1233.9L1406 1233.3L1406.5 1232.1L1407 1231.8L1407.5 1231.5L1408 1230.5L1408.5 1229.3L1409 1229.4L1409.5 1228.9L1410 1228.2L1410.5 1227.5L1411 1226.6L1411.5 1226.4L1412 1226.1L1412.5 1226L1413 1225.7L1413.5 1224.8L1414 1224.9L1414.5 1224.7L1415 1223.7L1415.5 1223.1L1416 1223L1416.5 1222.6L1417 1222.7L1417.5 1221.8L1418 1222.1L1418.5 1221.9L1419 1221.1L1419.5 1221.7L1420 1221.2L1420.5 1221.3L1421 1221.3L1421.5 1221.2L1422 1221.8L1422.5 1221.7L1423 1222.2L1423.5 1223.1L1424 1223.4L1424.5 1223.9L1425 1225.3L1425.5 1226L1426 1226.1L1426.5 1227.6L1427 1228.7L1427.5 1229.5L1428 1229.7L1428.5 1230.7L1429 1232.2L1429.5 1234L1430 1235.7L1430.5 1236.7L1431 1239.6L1431.5 1241.3L1432 1243.4L1432.5 1245.2L1433 1247.7L1433.5 1250L1434 1251.6L1434.5 1254L1435 1255.7L1435.5 1257L1436 1258.7L1436.5 1260L1437 1261.5L1437.5 1263.6L1438 1265.2L1438.5 1267.3L1439 1268.3L1439.5 1269.8L1440 1271.2L1440.5 1272.9L1441 1274.7L1441.5 1275.4L1442 1276.7L1442.5 1277.7L1443 1278L1443.5 1278.4L1444 1279.7L1444.5 1280.5L1445 1280.8L1445.5 1281.1L1446 1281.7L1446.5 1281.4L1447 1282.3L1447.5 1282.2L1448 1283L1448.5 1283.1L1449 1283.5L1449.5 1284.2L1450 1283.7L1450.5 1284.1L1451 1283.4L1451.5 1283.8L1452 1282.8L1452.5 1282.9L1453 1282.8L1453.5 1281.6L1454 1281L1454.5 1280.9L1455 1279.6L1455.5 1279L1456 1278.2L1456.5 1277.4L1457 1276.6L1457.5 1275.8L1458 1274.1L1458.5 1273.4L1459 1273.4L1459.5 1271.8L1460 1271.3L1460.5 1269.6L1461 1268.7L1461.5 1267.5L1462 1266.3L1462.5 1265.2L1463 1263.6L1463.5 1262.8L1464 1262.4L1464.5 1260.6L1465 1260.6L1465.5 1260L1466 1259.5L1466.5 1259.9L1467 1259.5L1467.5 1259.6L1468 1259.4L1468.5 1260.2L1469 1260.1L1469.5 1259.6L1470 1259.4L1470.5 1259.3L1471 1259.3L1471.5 1259.4L1472 1259.5L1472.5 1258.9L1473 1259.6L1473.5 1258.9L1474 1259.8L1474.5 1259.3L1475 1259.4L1475.5 1259.6L1476 1258.9L1476.5 1258.6L1477 1259.1L1477.5 1259.1L1478 1258.9L1478.5 1259.2L1479 1259.4L1479.5 1258.5L1480 1259.1L1480.5 1259L1481 1258.9L1481.5 1258.6L1482 1258.7L1482.5 1258.9L1483 1259.4L1483.5 1259.7L1484 1259.8L1484.5 1259.8L1485 1260.7L1485.5 1260.1L1486 1260.7L1486.5 1260.9L1487 1261.3L1487.5 1261.3L1488 1262L1488.5 1262.1L1489 1262.4L1489.5 1263.8L1490 1264L1490.5 1263.9L1491 1264.6L1491.5 1264.5L1492 1265.6L1492.5 1265.7L1493 1266L1493.5 1266.2L1494 1266.7L1494.5 1267.4L1495 1267.8L1495.5 1267.6L1496 1268.9L1496.5 1268.7L1497 1269.4L1497.5 1269.2L1498 1270.6L1498.5 1270.9L1499 1270.9L1499.5 1271.3L1500 1272.1L1500.5 1273.4L1501 1273.7L1501.5 1273.9L1502 1274.3L1502.5 1275.2L1503 1275.3L1503.5 1275.5L1504 1276.6L1504.5 1277L1505 1278L1505.5 1277.9L1506 1279L1506.5 1279.8L1507 1280.1L1507.5 1281.2L1508 1281.8L1508.5 1282.1L1509 1282.1L1509.5 1282.8L1510 1284.1L1510.5 1285.3L1511 1286.1L1511.5 1286.3L1512 1287.1L1512.5 1287.5L1513 1288.5L1513.5 1288.6L1514 1290.2L1514.5 1290.9L1515 1291.4L1515.5 1291.4L1516 1292.1L1516.5 1293.3L1517 1293.4L1517.5 1294.7L1518 1295.6L1518.5 1296.2L1519 1296.6L1519.5 1297.6L1520 1298.6L1520.5 1299.2L1521 1300.1L1521.5 1300.8L1522 1301.1L1522.5 1301.9L1523 1302.5L1523.5 1303.8L1524 1303.8L1524.5 1304.6L1525 1306.2L1525.5 1306.9L1526 1307.6L1526.5 1307.9L1527 1309L1527.5 1310.2L1528 1310.2L1528.5 1310.5L1529 1313.4L1529.5 1313L1530 1312L1530.5 1313.5L1531 1316.3L1531.5 1317.1L1532 1314.7L1532.5 1318.8L1533 1317.3L1533.5 1317.1L1534 1320.1L1534.5 1319.6L1535 1323.6L1535.5 1325.7L1536 1327.7L1536.5 1327.1L1537 1325.5L1537.5 1326L1538 1325.7L1538.5 1328L1539 1330.3L1539.5 1327.3L1540 1328.9L1540.5 1333.5L1541 1331.8L1541.5 1334.5L1542 1335.3L1542.5 1333.7L1543 1338.6L1543.5 1336.6L1544 1335.3L1544.5 1341.6L1545 1342L1545.5 1339.3L1546 1343.8L1546.5 1340.5L1547 1344.2L1547.5 1346.7L1548 1350.9L1548.5 1352.5L1549 1353.9L1549.5 1356.8L1550 1346.9L1550.5 1345.7L1551 1346.3L1551.5 1356.9L1552 1345L1552.5 1349.1L1553 1346.9L1553.5 1360.4L1554 1363.5L1554.5 1358.4L1555 1362.5L1555.5 1380.1L1556 1372.8L1556.5 1373.1L1557 1384.8L1557.5 1387.6L1558 1385.5L1558.5 1378.8L1559 1383.5L1559.5 1395.3L1560 1385.9L1560.5 1385.2L1561 1389.2L1561.5 1400.4L1562 1407L1562.5 1409.8L1563 1413.6L1563.5 1413.3L1564 1414.3L1564.5 1411.6L1565 1411.3L1565.5 1409.9L1566 1429L1566.5 1416.8L1567 1422.1L1567.5 1433.6L1568 1431.7L1568.5 1428.4L1569 1443L1569.5 1448.7L1570 1440.6L1570.5 1444.5L1571 1436.8L1571.5 1452.8L1572 1448.1L1572.5 1448.7L1573 1456.3L1573.5 1452.5L1574 1453.3L1574.5 1455.1L1575 1457.7L1575.5 1470.3L1576 1465.5L1576.5 1470.7L1577 1476.7L1577.5 1468.2L1578 1475.2L1578.5 1463.5L1579 1475.4L1579.5 1482.5L1580 1487L1580.5 1485.9L1581 1484.4L1581.5 1500.3L1582 1480.9L1582.5 1498.9L1583 1492.1L1583.5 1481.1L1584 1511L1584.5 1504.1L1585 1506.2L1585.5 1486L1586 1513.3L1586.5 1507.7L1587 1508.2L1587.5 1519.7L1588 1531.8L1588.5 1537.7L1589 1522.2L1589.5 1525.6L1590 1523.6L1590.5 1517.4L1591 1527L1591.5 1512.5L1592 1503.1L1592.5 1514.6L1593 1518.2L1593.5 1524.1L1594 1525.1L1594.5 1500.4L1595 1506.6L1595.5 1504.3L1596 1527L1596.5 1503.5L1597 1527.2L1597.5 1508.2L1598 1527.1L1598.5 1515.1L1599 1522.6L1599.5 1528.7L1600 1531.3L1600.5 1505.6L1601 1531.1L1601.5 1526.1L1602 1513.5L1602.5 1507.1L1603 1518.4L1603.5 1520.3L1604 1502.7L1604.5 1519.6L1605 1513.5L1605.5 1517.4L1606 1521.9L1606.5 1510.8L1607 1523.2L1607.5 1511.8L1608 1501.8L1608.5 1505.7L1609 1504.4L1609.5 1524.5L1610 1515.2L1610.5 1511.1L1611 1521.6L1611.5 1512.5L1612 1509.9L1612.5 1508.2L1613 1520L1613.5 1507.3L1614 1500.7L1614.5 1494.6L1615 1496.3L1615.5 1510.6L1616 1495.2L1616.5 1516.2L1617 1516.6L1617.5 1497.9L1618 1492.5L1618.5 1512.8L1619 1502.9L1619.5 1509.5L1620 1511.1L1620.5 1489L1621 1503.8L1621.5 1491.5L1622 1495.5L1622.5 1481L1623 1498.1L1623.5 1488L1624 1482.9L1624.5 1484.3L1625 1494.6L1625.5 1490.4L1626 1501.5L1626.5 1484.8L1627 1487.9L1627.5 1506.3L1628 1488.8L1628.5 1482L1629 1483.7L1629.5 1503.6L1630 1479.9L1630.5 1479.9L1631 1493.2L1631.5 1487.9L1632 1479.4L1632.5 1489.5L1633 1482.4L1633.5 1486.3L1634 1493.3L1634.5 1492.9L1635 1483.9L1635.5 1495L1636 1475.8L1636.5 1488.4L1637 1480.1L1637.5 1468.3L1638 1499L1638.5 1476.8L1639 1469.9L1639.5 1493.9L1640 1479.6L1640.5 1476.2L1641 1486.2L1641.5 1494.3L1642 1469.3L1642.5 1489.8L1643 1495.4L1643.5 1492.5L1644 1472.2L1644.5 1464.4L1645 1477.9L1645.5 1481.7L1646 1469.5L1646.5 1479.5L1647 1461.9L1647.5 1486.9L1648 1472L1648.5 1463.1L1649 1473.1L1649.5 1494.4L1650 1476L1650.5 1472.9L1651 1470.4L1651.5 1469.2L1652 1463L1652.5 1465.5L1653 1483.8L1653.5 1476.6L1654 1463.6L1654.5 1485.3L1655 1465.8L1655.5 1472.5L1656 1475.8L1656.5 1486.1L1657 1477.5L1657.5 1480.9L1658 1463.8L1658.5 1457.2L1659 1467.4L1659.5 1467.4L1660 1466.9L1660.5 1461.2L1661 1470.8L1661.5 1458.1L1662 1476.2L1662.5 1463.6L1663 1475L1663.5 1475L1664 1459.5L1664.5 1486.9L1665 1462.6L1665.5 1474.3L1666 1475.6L1666.5 1457.8L1667 1454.3 V1561"/>
</g>
<path d="M246.8 385 V687 L245.2 691 V1562" fill="none" stroke="#FF0000" stroke-width="4.4" stroke-dasharray="20.4 8 5.4 7.84"/>
<path d="M406.4 224.3 L406.4 1491.5" fill="none" stroke="#000" stroke-width="5.1" stroke-dasharray="8.5 22.19"/>
<path d="M693.7 371.3 L693.7 1520" fill="none" stroke="#FF0000" stroke-width="4.4" stroke-dasharray="32 12.2 8.6 12"/>
<path d="M990.1 138.5 V659 L991.7 663 V1528" fill="none" stroke="#FF0000" stroke-width="4.8" stroke-dasharray="7.5 23.22"/>
<path d="M1119.75 376 L1119.75 1565" fill="none" stroke="#FF0000" stroke-width="4.4" stroke-dasharray="32 12.2 8.6 12"/>
<path d="M1311.1 427 V991 L1312.6 995 V1562" fill="none" stroke="#FF0000" stroke-width="4.8" stroke-dasharray="5.4 5.85"/>
<path d="M1373.4 901.2 L1372 1493" fill="none" stroke="#FF0000" stroke-width="4.6" stroke-dasharray="26.6 24.85"/>
<path d="M1456.2 413 V698 L1454.7 702 V1543" fill="none" stroke="#FF0000" stroke-width="4.8" stroke-dasharray="5.4 5.85"/>
<path d="M1633.3 410.6 L1633.6 1563" fill="none" stroke="#FF0000" stroke-width="4.8" stroke-dasharray="5.4 5.85"/>
<g fill="none" stroke-width="7.3" stroke-linecap="butt">
<path stroke="#EA9524" d="M127.6 235.6 H285.4"/>
<path stroke="#5AAA00" d="M113.4 660 H269.5"/>
<path stroke="#7F7F7F" d="M122 1087 H276.6"/>
<path stroke="#3B66A8" d="M113.4 1322 H267"/>
</g>
<text transform="translate(342.71 144.00) scale(1 1.04)" font-size="61.2" xml:space="preserve">3424</text>
<text transform="translate(240.13 380.20) scale(1 1.04)" font-size="61.2" xml:space="preserve">3740</text>
<text transform="translate(642.60 354.00) scale(1 1.04)" font-size="61.2" xml:space="preserve">2923</text>
<text transform="translate(914.34 350.30) scale(1 1.04)" font-size="61.2" xml:space="preserve">1634</text>
<text transform="translate(1080.56 327.60) scale(1 1.04)" font-size="61.2" xml:space="preserve">1401</text>
<text transform="translate(1308.69 402.50) scale(1 1.04)" font-size="61.2" xml:space="preserve">1084</text>
<text transform="translate(1448.48 392.50) scale(1 1.04)" font-size="61.2" xml:space="preserve">800</text>
<text transform="translate(1573.45 412.20) scale(1 1.04)" font-size="61.2" xml:space="preserve">471</text>
<text transform="translate(1329.16 862.00) scale(1 1.04)" font-size="61.2" xml:space="preserve">950</text>
<text transform="translate(281.85 257.50)" font-size="65" xml:space="preserve">a</text>
<text transform="translate(281.17 682.30)" font-size="65" xml:space="preserve">b</text>
<text transform="translate(290.23 1110.00)" font-size="65" xml:space="preserve">c</text>
<text transform="translate(280.33 1345.00)" font-size="65" xml:space="preserve">d</text>
<text transform="translate(36.69 1635.50) scale(1 1.047)" font-size="67.4" xml:space="preserve">4000</text>
<text transform="translate(584.67 1635.50) scale(1 1.047)" font-size="67.4" xml:space="preserve">3000</text>
<text transform="translate(721.93 1635.50) scale(1 1.047)" font-size="67.4" xml:space="preserve">2000</text>
<text transform="translate(1268.49 1635.50) scale(1 1.047)" font-size="67.4" xml:space="preserve">1000</text>
<text xml:space="preserve"><tspan x="575.38" y="1710.30" font-size="65.5">Wave </tspan><tspan x="753.64" y="1710.30" font-size="65.5">num</tspan><tspan x="883.47" y="1710.30" font-size="65.5">ber </tspan><tspan x="995.11" y="1710.30" font-size="65.5">( </tspan><tspan x="1032.22" y="1710.30" font-size="65.5">cm</tspan><tspan x="1113.92" y="1682.80" font-size="51" font-weight="normal" fill="#444">−</tspan><tspan x="1139.31" y="1684.00" font-size="46">1 </tspan><tspan x="1181.37" y="1710.30" font-size="65.5">)</tspan></text>
<text transform="translate(65.3 0) rotate(-90) scale(1 1.04)" xml:space="preserve"><tspan x="-851.60" y="0" font-size="65.5">T </tspan><tspan x="-792.39" y="0" font-size="65.5">( </tspan><tspan x="-755.93" y="0" font-size="65.5">% </tspan><tspan x="-672.23" y="0" font-size="65.5">)</tspan></text>
</svg>
</body></html>
